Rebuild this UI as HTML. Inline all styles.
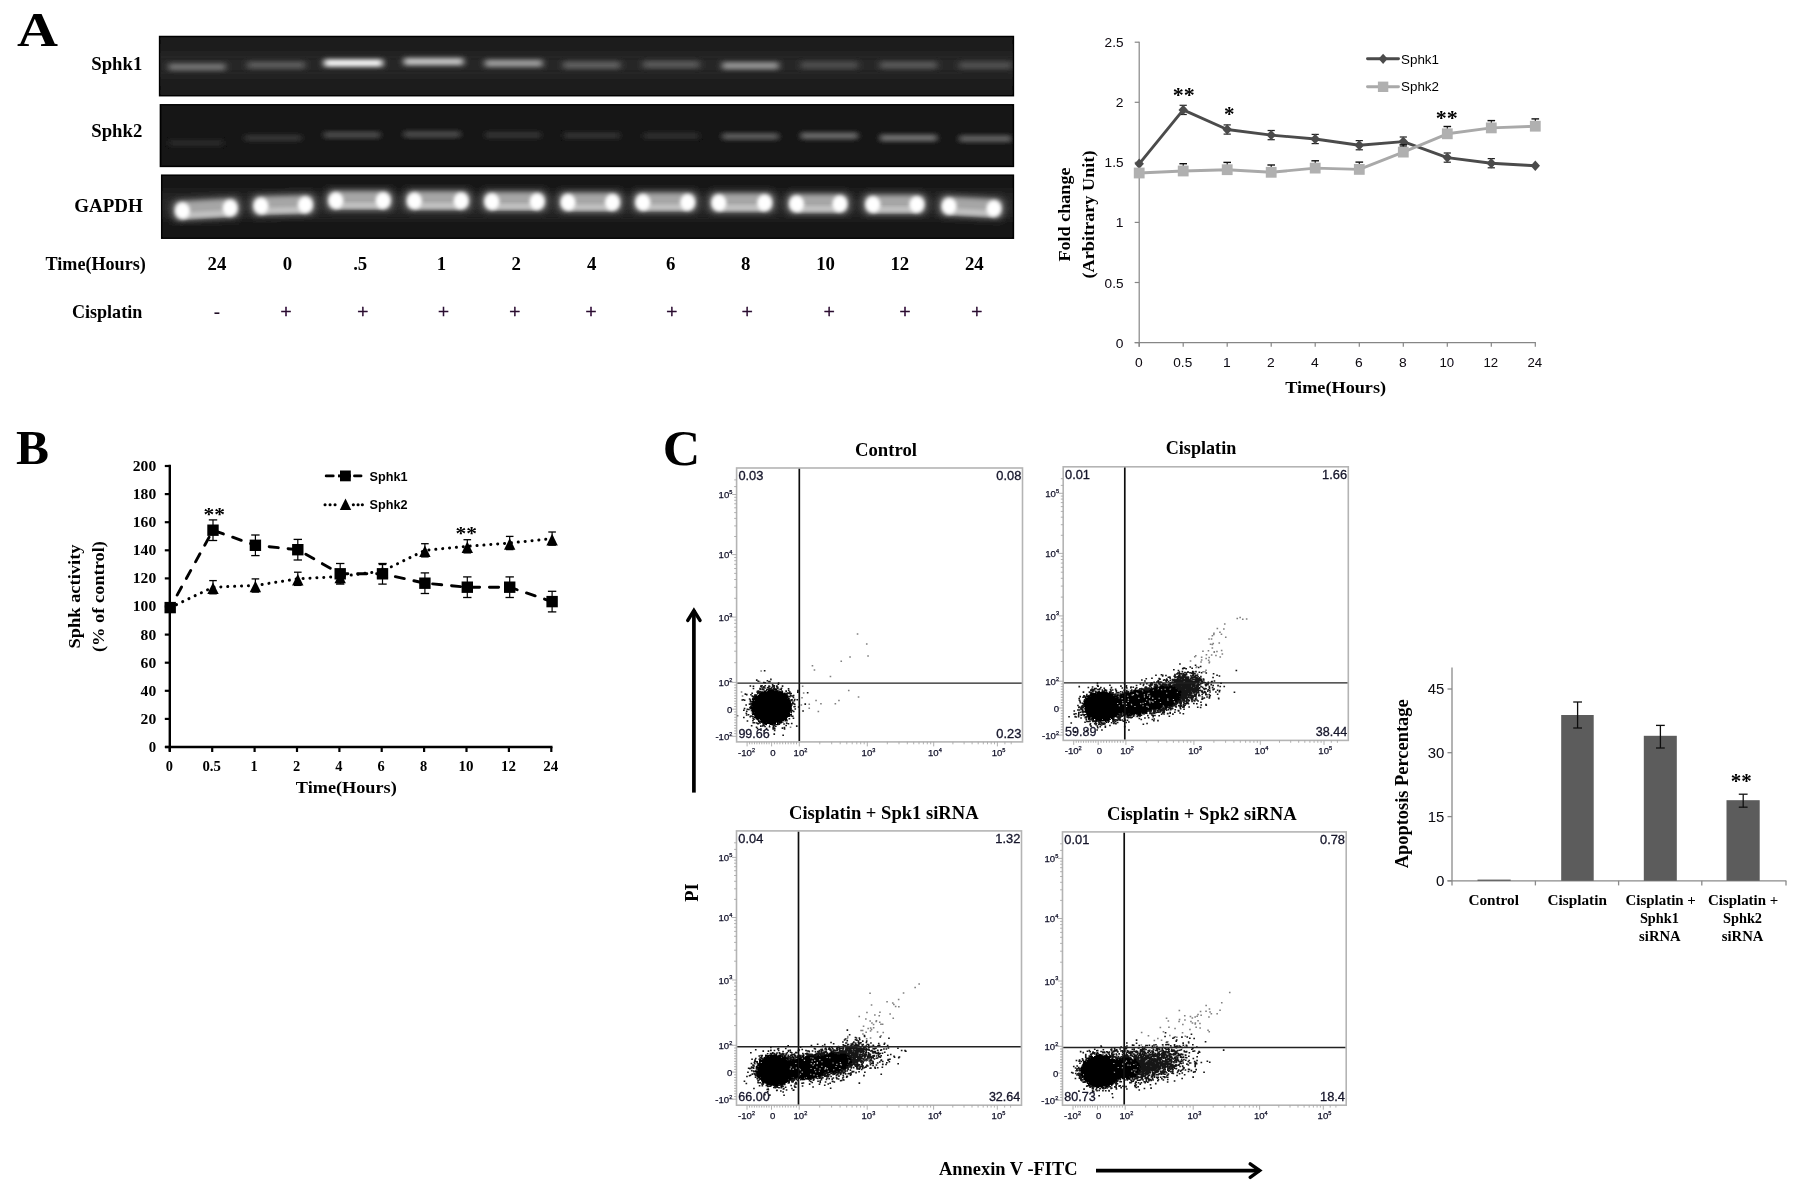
<!DOCTYPE html>
<html><head><meta charset="utf-8"><title>Figure</title>
<style>html,body{margin:0;padding:0;background:#fff}svg{display:block}</style>
</head><body>
<svg width="1800" height="1193" viewBox="0 0 1800 1193">
<defs>
<filter id="b1" x="-20%" y="-150%" width="140%" height="400%"><feGaussianBlur stdDeviation="3 2.1"/></filter>
<filter id="b2" x="-20%" y="-100%" width="140%" height="300%"><feGaussianBlur stdDeviation="1.6 1.3"/></filter>
<filter id="b3" x="-50%" y="-50%" width="200%" height="200%"><feGaussianBlur stdDeviation="2.2"/></filter>
<filter id="b4" x="-10%" y="-200%" width="120%" height="500%"><feGaussianBlur stdDeviation="6"/></filter>
<filter id="b5" x="-50%" y="-50%" width="200%" height="200%"><feGaussianBlur stdDeviation="3.2"/></filter>
<filter id="soft2" x="-10%" y="-10%" width="120%" height="120%"><feGaussianBlur stdDeviation="0.7"/></filter>
<filter id="rag" x="-20%" y="-20%" width="140%" height="140%"><feTurbulence type="fractalNoise" baseFrequency="0.42" numOctaves="2" seed="3" result="n"/><feDisplacementMap in="SourceGraphic" in2="n" scale="6" xChannelSelector="R" yChannelSelector="G"/><feGaussianBlur stdDeviation="0.35"/></filter>
<filter id="soft" filterUnits="userSpaceOnUse" x="0" y="0" width="1800" height="1193"><feGaussianBlur stdDeviation="0.42"/></filter>
<clipPath id="cg1"><rect x="160.3" y="37.2" width="852.4" height="57.8"/></clipPath>
<clipPath id="cg2"><rect x="161.1" y="105.5" width="851.6" height="60.2"/></clipPath>
<clipPath id="cg3"><rect x="162.4" y="175.9" width="850.3" height="61.6"/></clipPath>
</defs>
<g filter="url(#soft)">
<text x="17.0" y="45.6" font-family='"Liberation Serif", serif' font-size="49" font-weight="bold" text-anchor="start" fill="#000" textLength="41.0" lengthAdjust="spacingAndGlyphs">A</text>
<text x="16.0" y="463.6" font-family='"Liberation Serif", serif' font-size="49" font-weight="bold" text-anchor="start" fill="#000" textLength="33.0" lengthAdjust="spacingAndGlyphs">B</text>
<text x="662.8" y="465.0" font-family='"Liberation Serif", serif' font-size="51" font-weight="bold" text-anchor="start" fill="#000" textLength="37.5" lengthAdjust="spacingAndGlyphs">C</text>
<g id="gel">
<rect x="159.6" y="36.5" width="853.8" height="59.2" fill="#1c1c1c" stroke="#000" stroke-width="1.5"/>
<rect x="160.4" y="104.8" width="853.0" height="61.6" fill="#131313" stroke="#000" stroke-width="1.5"/>
<rect x="161.7" y="175.2" width="851.7" height="63.0" fill="#171717" stroke="#000" stroke-width="1.5"/>
<g clip-path="url(#cg1)"><rect x="140" y="52" width="900" height="26" fill="#2a2a2a" filter="url(#b4)" opacity="0.8"/></g>
<g clip-path="url(#cg3)"><rect x="140" y="192" width="900" height="26" fill="#2c2c2c" filter="url(#b4)" opacity="0.9"/></g>
<g clip-path="url(#cg1)">
<rect x="168.5" y="63.1" width="57.0" height="7.6" fill="#707070" filter="url(#b1)"/>
<rect x="247.3" y="61.3" width="57.7" height="7.6" fill="#5a5a5a" filter="url(#b1)"/>
<rect x="324.1" y="59.2" width="58.6" height="7.6" fill="#f4f4f4" filter="url(#b1)"/>
<rect x="403.9" y="57.8" width="59.5" height="7.6" fill="#c0c0c0" filter="url(#b1)"/>
<rect x="484.9" y="59.5" width="57.6" height="7.6" fill="#989898" filter="url(#b1)"/>
<rect x="563.2" y="61.3" width="57.1" height="7.6" fill="#5e5e5e" filter="url(#b1)"/>
<rect x="642.9" y="60.7" width="56.6" height="7.6" fill="#585858" filter="url(#b1)"/>
<rect x="722.1" y="61.9" width="56.6" height="7.6" fill="#909090" filter="url(#b1)"/>
<rect x="800.7" y="61.3" width="57.2" height="7.6" fill="#4e4e4e" filter="url(#b1)"/>
<rect x="879.9" y="61.3" width="57.1" height="7.6" fill="#565656" filter="url(#b1)"/>
<rect x="959.1" y="61.5" width="52.4" height="7.6" fill="#505050" filter="url(#b1)"/>
</g>
<g clip-path="url(#cg2)">
<rect x="168.5" y="139.2" width="55.0" height="7.2" fill="#2c2c2c" filter="url(#b1)"/>
<rect x="244.5" y="134.3" width="57.0" height="7.2" fill="#363636" filter="url(#b1)"/>
<rect x="323.5" y="131.3" width="57.0" height="7.2" fill="#484848" filter="url(#b1)"/>
<rect x="403.5" y="130.7" width="57.0" height="7.2" fill="#4a4a4a" filter="url(#b1)"/>
<rect x="484.5" y="131.4" width="57.0" height="7.2" fill="#303030" filter="url(#b1)"/>
<rect x="563.2" y="131.9" width="57.1" height="7.2" fill="#303030" filter="url(#b1)"/>
<rect x="642.9" y="132.2" width="56.6" height="7.2" fill="#2e2e2e" filter="url(#b1)"/>
<rect x="722.1" y="132.8" width="56.6" height="7.2" fill="#5a5a5a" filter="url(#b1)"/>
<rect x="800.7" y="132.2" width="57.2" height="7.2" fill="#686868" filter="url(#b1)"/>
<rect x="879.9" y="134.3" width="57.1" height="7.2" fill="#6e6e6e" filter="url(#b1)"/>
<rect x="959.1" y="135.1" width="52.4" height="7.2" fill="#5e5e5e" filter="url(#b1)"/>
</g>
<g clip-path="url(#cg3)">
<g transform="rotate(-3.2 206.2 209.0)">
<rect x="171.0" y="198.0" width="70.5" height="22" rx="8" fill="#606060" filter="url(#b5)"/>
<rect x="175.0" y="200.5" width="62.5" height="17" rx="6" fill="#a6a6a6" filter="url(#b3)"/>
<rect x="183.0" y="212.0" width="46.5" height="4.4" fill="#cccccc" filter="url(#b3)"/>
<ellipse cx="182.5" cy="209.3" rx="6.8" ry="7.6" fill="#ffffff" filter="url(#b3)"/>
<ellipse cx="182.5" cy="209.3" rx="5.6" ry="6.6" fill="#ffffff" filter="url(#b3)"/>
<ellipse cx="230.0" cy="209.3" rx="6.8" ry="7.6" fill="#ffffff" filter="url(#b3)"/>
<ellipse cx="230.0" cy="209.3" rx="5.6" ry="6.6" fill="#ffffff" filter="url(#b3)"/>
</g>
<g transform="rotate(-1.5 283.1 205.0)">
<rect x="249.6" y="194.0" width="67.1" height="22" rx="8" fill="#606060" filter="url(#b5)"/>
<rect x="253.6" y="196.5" width="59.1" height="17" rx="6" fill="#a6a6a6" filter="url(#b3)"/>
<rect x="261.6" y="208.0" width="43.1" height="4.4" fill="#cccccc" filter="url(#b3)"/>
<ellipse cx="261.1" cy="205.3" rx="6.8" ry="7.6" fill="#ffffff" filter="url(#b3)"/>
<ellipse cx="261.1" cy="205.3" rx="5.6" ry="6.6" fill="#ffffff" filter="url(#b3)"/>
<ellipse cx="305.2" cy="205.3" rx="6.8" ry="7.6" fill="#ffffff" filter="url(#b3)"/>
<ellipse cx="305.2" cy="205.3" rx="5.6" ry="6.6" fill="#ffffff" filter="url(#b3)"/>
</g>
<g transform="rotate(0 359.5 200.3)">
<rect x="324.5" y="189.3" width="70.0" height="22" rx="8" fill="#606060" filter="url(#b5)"/>
<rect x="328.5" y="191.8" width="62.0" height="17" rx="6" fill="#a6a6a6" filter="url(#b3)"/>
<rect x="336.5" y="203.3" width="46.0" height="4.4" fill="#cccccc" filter="url(#b3)"/>
<ellipse cx="336.0" cy="200.6" rx="6.8" ry="7.6" fill="#ffffff" filter="url(#b3)"/>
<ellipse cx="336.0" cy="200.6" rx="5.6" ry="6.6" fill="#ffffff" filter="url(#b3)"/>
<ellipse cx="383.0" cy="200.6" rx="6.8" ry="7.6" fill="#ffffff" filter="url(#b3)"/>
<ellipse cx="383.0" cy="200.6" rx="5.6" ry="6.6" fill="#ffffff" filter="url(#b3)"/>
</g>
<g transform="rotate(0 437.8 200.6)">
<rect x="403.0" y="189.6" width="69.5" height="22" rx="8" fill="#606060" filter="url(#b5)"/>
<rect x="407.0" y="192.1" width="61.5" height="17" rx="6" fill="#a6a6a6" filter="url(#b3)"/>
<rect x="415.0" y="203.6" width="45.5" height="4.4" fill="#cccccc" filter="url(#b3)"/>
<ellipse cx="414.5" cy="200.9" rx="6.8" ry="7.6" fill="#ffffff" filter="url(#b3)"/>
<ellipse cx="414.5" cy="200.9" rx="5.6" ry="6.6" fill="#ffffff" filter="url(#b3)"/>
<ellipse cx="461.0" cy="200.9" rx="6.8" ry="7.6" fill="#ffffff" filter="url(#b3)"/>
<ellipse cx="461.0" cy="200.9" rx="5.6" ry="6.6" fill="#ffffff" filter="url(#b3)"/>
</g>
<g transform="rotate(0 514.5 201.3)">
<rect x="480.5" y="190.3" width="68.0" height="22" rx="8" fill="#606060" filter="url(#b5)"/>
<rect x="484.5" y="192.8" width="60.0" height="17" rx="6" fill="#a6a6a6" filter="url(#b3)"/>
<rect x="492.5" y="204.3" width="44.0" height="4.4" fill="#cccccc" filter="url(#b3)"/>
<ellipse cx="492.0" cy="201.6" rx="6.8" ry="7.6" fill="#ffffff" filter="url(#b3)"/>
<ellipse cx="492.0" cy="201.6" rx="5.6" ry="6.6" fill="#ffffff" filter="url(#b3)"/>
<ellipse cx="537.0" cy="201.6" rx="6.8" ry="7.6" fill="#ffffff" filter="url(#b3)"/>
<ellipse cx="537.0" cy="201.6" rx="5.6" ry="6.6" fill="#ffffff" filter="url(#b3)"/>
</g>
<g transform="rotate(0 590.2 202.0)">
<rect x="556.7" y="191.0" width="67.1" height="22" rx="8" fill="#606060" filter="url(#b5)"/>
<rect x="560.7" y="193.5" width="59.1" height="17" rx="6" fill="#a6a6a6" filter="url(#b3)"/>
<rect x="568.7" y="205.0" width="43.1" height="4.4" fill="#cccccc" filter="url(#b3)"/>
<ellipse cx="568.2" cy="202.3" rx="6.8" ry="7.6" fill="#ffffff" filter="url(#b3)"/>
<ellipse cx="568.2" cy="202.3" rx="5.6" ry="6.6" fill="#ffffff" filter="url(#b3)"/>
<ellipse cx="612.3" cy="202.3" rx="6.8" ry="7.6" fill="#ffffff" filter="url(#b3)"/>
<ellipse cx="612.3" cy="202.3" rx="5.6" ry="6.6" fill="#ffffff" filter="url(#b3)"/>
</g>
<g transform="rotate(0 665.2 202.0)">
<rect x="631.5" y="191.0" width="67.5" height="22" rx="8" fill="#606060" filter="url(#b5)"/>
<rect x="635.5" y="193.5" width="59.5" height="17" rx="6" fill="#a6a6a6" filter="url(#b3)"/>
<rect x="643.5" y="205.0" width="43.5" height="4.4" fill="#cccccc" filter="url(#b3)"/>
<ellipse cx="643.0" cy="202.3" rx="6.8" ry="7.6" fill="#ffffff" filter="url(#b3)"/>
<ellipse cx="643.0" cy="202.3" rx="5.6" ry="6.6" fill="#ffffff" filter="url(#b3)"/>
<ellipse cx="687.5" cy="202.3" rx="6.8" ry="7.6" fill="#ffffff" filter="url(#b3)"/>
<ellipse cx="687.5" cy="202.3" rx="5.6" ry="6.6" fill="#ffffff" filter="url(#b3)"/>
</g>
<g transform="rotate(0 741.8 202.5)">
<rect x="707.5" y="191.5" width="68.5" height="22" rx="8" fill="#606060" filter="url(#b5)"/>
<rect x="711.5" y="194.0" width="60.5" height="17" rx="6" fill="#a6a6a6" filter="url(#b3)"/>
<rect x="719.5" y="205.5" width="44.5" height="4.4" fill="#cccccc" filter="url(#b3)"/>
<ellipse cx="719.0" cy="202.8" rx="6.8" ry="7.6" fill="#ffffff" filter="url(#b3)"/>
<ellipse cx="719.0" cy="202.8" rx="5.6" ry="6.6" fill="#ffffff" filter="url(#b3)"/>
<ellipse cx="764.5" cy="202.8" rx="6.8" ry="7.6" fill="#ffffff" filter="url(#b3)"/>
<ellipse cx="764.5" cy="202.8" rx="5.6" ry="6.6" fill="#ffffff" filter="url(#b3)"/>
</g>
<g transform="rotate(0 818.2 203.6)">
<rect x="785.2" y="192.6" width="66.0" height="22" rx="8" fill="#606060" filter="url(#b5)"/>
<rect x="789.2" y="195.1" width="58.0" height="17" rx="6" fill="#a6a6a6" filter="url(#b3)"/>
<rect x="797.2" y="206.6" width="42.0" height="4.4" fill="#cccccc" filter="url(#b3)"/>
<ellipse cx="796.7" cy="203.9" rx="6.8" ry="7.6" fill="#ffffff" filter="url(#b3)"/>
<ellipse cx="796.7" cy="203.9" rx="5.6" ry="6.6" fill="#ffffff" filter="url(#b3)"/>
<ellipse cx="839.7" cy="203.9" rx="6.8" ry="7.6" fill="#ffffff" filter="url(#b3)"/>
<ellipse cx="839.7" cy="203.9" rx="5.6" ry="6.6" fill="#ffffff" filter="url(#b3)"/>
</g>
<g transform="rotate(0 894.9 204.2)">
<rect x="861.5" y="193.2" width="66.7" height="22" rx="8" fill="#606060" filter="url(#b5)"/>
<rect x="865.5" y="195.7" width="58.7" height="17" rx="6" fill="#a6a6a6" filter="url(#b3)"/>
<rect x="873.5" y="207.2" width="42.7" height="4.4" fill="#cccccc" filter="url(#b3)"/>
<ellipse cx="873.0" cy="204.5" rx="6.8" ry="7.6" fill="#ffffff" filter="url(#b3)"/>
<ellipse cx="873.0" cy="204.5" rx="5.6" ry="6.6" fill="#ffffff" filter="url(#b3)"/>
<ellipse cx="916.7" cy="204.5" rx="6.8" ry="7.6" fill="#ffffff" filter="url(#b3)"/>
<ellipse cx="916.7" cy="204.5" rx="5.6" ry="6.6" fill="#ffffff" filter="url(#b3)"/>
</g>
<g transform="rotate(3.0 971.5 207.0)">
<rect x="937.7" y="196.0" width="67.6" height="22" rx="8" fill="#606060" filter="url(#b5)"/>
<rect x="941.7" y="198.5" width="59.6" height="17" rx="6" fill="#a6a6a6" filter="url(#b3)"/>
<rect x="949.7" y="210.0" width="43.6" height="4.4" fill="#cccccc" filter="url(#b3)"/>
<ellipse cx="949.2" cy="207.3" rx="6.8" ry="7.6" fill="#ffffff" filter="url(#b3)"/>
<ellipse cx="949.2" cy="207.3" rx="5.6" ry="6.6" fill="#ffffff" filter="url(#b3)"/>
<ellipse cx="993.8" cy="207.3" rx="6.8" ry="7.6" fill="#ffffff" filter="url(#b3)"/>
<ellipse cx="993.8" cy="207.3" rx="5.6" ry="6.6" fill="#ffffff" filter="url(#b3)"/>
</g>
</g>
</g>
<text x="91.3" y="69.6" font-family='"Liberation Serif", serif' font-size="19" font-weight="bold" text-anchor="start" fill="#000" textLength="51.0" lengthAdjust="spacingAndGlyphs">Sphk1</text>
<text x="91.3" y="137.2" font-family='"Liberation Serif", serif' font-size="19" font-weight="bold" text-anchor="start" fill="#000" textLength="51.0" lengthAdjust="spacingAndGlyphs">Sphk2</text>
<text x="74.2" y="212.0" font-family='"Liberation Serif", serif' font-size="19" font-weight="bold" text-anchor="start" fill="#000" textLength="68.6" lengthAdjust="spacingAndGlyphs">GAPDH</text>
<text x="45.5" y="270.2" font-family='"Liberation Serif", serif' font-size="18.6" font-weight="bold" text-anchor="start" fill="#000" textLength="100.3" lengthAdjust="spacingAndGlyphs">Time(Hours)</text>
<text x="71.9" y="318.0" font-family='"Liberation Serif", serif' font-size="18.6" font-weight="bold" text-anchor="start" fill="#000" textLength="70.4" lengthAdjust="spacingAndGlyphs">Cisplatin</text>
<text x="217.0" y="270.2" font-family='"Liberation Serif", serif' font-size="18.8" font-weight="bold" text-anchor="middle" fill="#000">24</text>
<text x="287.4" y="270.2" font-family='"Liberation Serif", serif' font-size="18.8" font-weight="bold" text-anchor="middle" fill="#000">0</text>
<text x="360.2" y="270.2" font-family='"Liberation Serif", serif' font-size="18.8" font-weight="bold" text-anchor="middle" fill="#000">.5</text>
<text x="441.4" y="270.2" font-family='"Liberation Serif", serif' font-size="18.8" font-weight="bold" text-anchor="middle" fill="#000">1</text>
<text x="516.2" y="270.2" font-family='"Liberation Serif", serif' font-size="18.8" font-weight="bold" text-anchor="middle" fill="#000">2</text>
<text x="591.6" y="270.2" font-family='"Liberation Serif", serif' font-size="18.8" font-weight="bold" text-anchor="middle" fill="#000">4</text>
<text x="670.8" y="270.2" font-family='"Liberation Serif", serif' font-size="18.8" font-weight="bold" text-anchor="middle" fill="#000">6</text>
<text x="745.6" y="270.2" font-family='"Liberation Serif", serif' font-size="18.8" font-weight="bold" text-anchor="middle" fill="#000">8</text>
<text x="825.6" y="270.2" font-family='"Liberation Serif", serif' font-size="18.8" font-weight="bold" text-anchor="middle" fill="#000">10</text>
<text x="899.8" y="270.2" font-family='"Liberation Serif", serif' font-size="18.8" font-weight="bold" text-anchor="middle" fill="#000">12</text>
<text x="974.3" y="270.2" font-family='"Liberation Serif", serif' font-size="18.8" font-weight="bold" text-anchor="middle" fill="#000">24</text>
<text x="217.0" y="318.0" font-family='"Liberation Serif", serif' font-size="19" font-weight="bold" text-anchor="middle" fill="#201028">-</text>
<text x="286.0" y="318.2" font-family='"Liberation Serif", serif' font-size="19.5" font-weight="normal" text-anchor="middle" fill="#2a0a30" stroke="#2a0a30" stroke-width="0.55">+</text>
<text x="362.8" y="318.2" font-family='"Liberation Serif", serif' font-size="19.5" font-weight="normal" text-anchor="middle" fill="#2a0a30" stroke="#2a0a30" stroke-width="0.55">+</text>
<text x="443.5" y="318.2" font-family='"Liberation Serif", serif' font-size="19.5" font-weight="normal" text-anchor="middle" fill="#2a0a30" stroke="#2a0a30" stroke-width="0.55">+</text>
<text x="514.7" y="318.2" font-family='"Liberation Serif", serif' font-size="19.5" font-weight="normal" text-anchor="middle" fill="#2a0a30" stroke="#2a0a30" stroke-width="0.55">+</text>
<text x="591.0" y="318.2" font-family='"Liberation Serif", serif' font-size="19.5" font-weight="normal" text-anchor="middle" fill="#2a0a30" stroke="#2a0a30" stroke-width="0.55">+</text>
<text x="671.7" y="318.2" font-family='"Liberation Serif", serif' font-size="19.5" font-weight="normal" text-anchor="middle" fill="#2a0a30" stroke="#2a0a30" stroke-width="0.55">+</text>
<text x="747.3" y="318.2" font-family='"Liberation Serif", serif' font-size="19.5" font-weight="normal" text-anchor="middle" fill="#2a0a30" stroke="#2a0a30" stroke-width="0.55">+</text>
<text x="829.2" y="318.2" font-family='"Liberation Serif", serif' font-size="19.5" font-weight="normal" text-anchor="middle" fill="#2a0a30" stroke="#2a0a30" stroke-width="0.55">+</text>
<text x="905.1" y="318.2" font-family='"Liberation Serif", serif' font-size="19.5" font-weight="normal" text-anchor="middle" fill="#2a0a30" stroke="#2a0a30" stroke-width="0.55">+</text>
<text x="976.7" y="318.2" font-family='"Liberation Serif", serif' font-size="19.5" font-weight="normal" text-anchor="middle" fill="#2a0a30" stroke="#2a0a30" stroke-width="0.55">+</text>
<g id="chartA">
<line x1="1139.2" y1="41.7" x2="1139.2" y2="346.8" stroke="#868686" stroke-width="1.2"/>
<line x1="1134.7" y1="342.6" x2="1535.9" y2="342.6" stroke="#868686" stroke-width="1.2"/>
<line x1="1139.2" y1="342.6" x2="1139.2" y2="346.8" stroke="#868686" stroke-width="1.2"/>
<line x1="1183.2" y1="342.6" x2="1183.2" y2="346.8" stroke="#868686" stroke-width="1.2"/>
<line x1="1227.2" y1="342.6" x2="1227.2" y2="346.8" stroke="#868686" stroke-width="1.2"/>
<line x1="1271.2" y1="342.6" x2="1271.2" y2="346.8" stroke="#868686" stroke-width="1.2"/>
<line x1="1315.2" y1="342.6" x2="1315.2" y2="346.8" stroke="#868686" stroke-width="1.2"/>
<line x1="1359.3" y1="342.6" x2="1359.3" y2="346.8" stroke="#868686" stroke-width="1.2"/>
<line x1="1403.3" y1="342.6" x2="1403.3" y2="346.8" stroke="#868686" stroke-width="1.2"/>
<line x1="1447.3" y1="342.6" x2="1447.3" y2="346.8" stroke="#868686" stroke-width="1.2"/>
<line x1="1491.3" y1="342.6" x2="1491.3" y2="346.8" stroke="#868686" stroke-width="1.2"/>
<line x1="1535.3" y1="342.6" x2="1535.3" y2="346.8" stroke="#868686" stroke-width="1.2"/>
<line x1="1134.7" y1="342.6" x2="1139.2" y2="342.6" stroke="#868686" stroke-width="1.2"/>
<text x="1115.8" y="347.6" font-family='"Liberation Sans", sans-serif' font-size="12.2" font-weight="normal" text-anchor="start" fill="#0a0810" textLength="7.7" lengthAdjust="spacingAndGlyphs">0</text>
<line x1="1134.7" y1="282.5" x2="1139.2" y2="282.5" stroke="#868686" stroke-width="1.2"/>
<text x="1104.6" y="287.5" font-family='"Liberation Sans", sans-serif' font-size="12.2" font-weight="normal" text-anchor="start" fill="#0a0810" textLength="18.9" lengthAdjust="spacingAndGlyphs">0.5</text>
<line x1="1134.7" y1="222.4" x2="1139.2" y2="222.4" stroke="#868686" stroke-width="1.2"/>
<text x="1115.8" y="227.4" font-family='"Liberation Sans", sans-serif' font-size="12.2" font-weight="normal" text-anchor="start" fill="#0a0810" textLength="7.7" lengthAdjust="spacingAndGlyphs">1</text>
<line x1="1134.7" y1="162.4" x2="1139.2" y2="162.4" stroke="#868686" stroke-width="1.2"/>
<text x="1104.6" y="167.4" font-family='"Liberation Sans", sans-serif' font-size="12.2" font-weight="normal" text-anchor="start" fill="#0a0810" textLength="18.9" lengthAdjust="spacingAndGlyphs">1.5</text>
<line x1="1134.7" y1="102.3" x2="1139.2" y2="102.3" stroke="#868686" stroke-width="1.2"/>
<text x="1115.8" y="107.3" font-family='"Liberation Sans", sans-serif' font-size="12.2" font-weight="normal" text-anchor="start" fill="#0a0810" textLength="7.7" lengthAdjust="spacingAndGlyphs">2</text>
<line x1="1134.7" y1="42.2" x2="1139.2" y2="42.2" stroke="#868686" stroke-width="1.2"/>
<text x="1104.6" y="47.2" font-family='"Liberation Sans", sans-serif' font-size="12.2" font-weight="normal" text-anchor="start" fill="#0a0810" textLength="18.9" lengthAdjust="spacingAndGlyphs">2.5</text>
<text x="1134.9" y="367.4" font-family='"Liberation Sans", sans-serif' font-size="12.2" fill="#0a0810" textLength="7.7" lengthAdjust="spacingAndGlyphs">0</text>
<text x="1173.3" y="367.4" font-family='"Liberation Sans", sans-serif' font-size="12.2" fill="#0a0810" textLength="18.9" lengthAdjust="spacingAndGlyphs">0.5</text>
<text x="1222.9" y="367.4" font-family='"Liberation Sans", sans-serif' font-size="12.2" fill="#0a0810" textLength="7.7" lengthAdjust="spacingAndGlyphs">1</text>
<text x="1266.9" y="367.4" font-family='"Liberation Sans", sans-serif' font-size="12.2" fill="#0a0810" textLength="7.7" lengthAdjust="spacingAndGlyphs">2</text>
<text x="1310.9" y="367.4" font-family='"Liberation Sans", sans-serif' font-size="12.2" fill="#0a0810" textLength="7.7" lengthAdjust="spacingAndGlyphs">4</text>
<text x="1354.9" y="367.4" font-family='"Liberation Sans", sans-serif' font-size="12.2" fill="#0a0810" textLength="7.7" lengthAdjust="spacingAndGlyphs">6</text>
<text x="1398.9" y="367.4" font-family='"Liberation Sans", sans-serif' font-size="12.2" fill="#0a0810" textLength="7.7" lengthAdjust="spacingAndGlyphs">8</text>
<text x="1439.4" y="367.4" font-family='"Liberation Sans", sans-serif' font-size="12.2" fill="#0a0810" textLength="14.7" lengthAdjust="spacingAndGlyphs">10</text>
<text x="1483.4" y="367.4" font-family='"Liberation Sans", sans-serif' font-size="12.2" fill="#0a0810" textLength="14.7" lengthAdjust="spacingAndGlyphs">12</text>
<text x="1527.5" y="367.4" font-family='"Liberation Sans", sans-serif' font-size="12.2" fill="#0a0810" textLength="14.7" lengthAdjust="spacingAndGlyphs">24</text>
<line x1="1183.2" y1="105.3" x2="1183.2" y2="114.5" stroke="#222" stroke-width="1"/>
<line x1="1179.6" y1="105.3" x2="1186.8" y2="105.3" stroke="#222" stroke-width="1.2"/>
<line x1="1179.6" y1="114.5" x2="1186.8" y2="114.5" stroke="#222" stroke-width="1.2"/>
<line x1="1227.2" y1="124.9" x2="1227.2" y2="134.1" stroke="#222" stroke-width="1"/>
<line x1="1223.6" y1="124.9" x2="1230.8" y2="124.9" stroke="#222" stroke-width="1.2"/>
<line x1="1223.6" y1="134.1" x2="1230.8" y2="134.1" stroke="#222" stroke-width="1.2"/>
<line x1="1271.2" y1="130.5" x2="1271.2" y2="139.7" stroke="#222" stroke-width="1"/>
<line x1="1267.6" y1="130.5" x2="1274.8" y2="130.5" stroke="#222" stroke-width="1.2"/>
<line x1="1267.6" y1="139.7" x2="1274.8" y2="139.7" stroke="#222" stroke-width="1.2"/>
<line x1="1315.2" y1="134.4" x2="1315.2" y2="143.6" stroke="#222" stroke-width="1"/>
<line x1="1311.6" y1="134.4" x2="1318.8" y2="134.4" stroke="#222" stroke-width="1.2"/>
<line x1="1311.6" y1="143.6" x2="1318.8" y2="143.6" stroke="#222" stroke-width="1.2"/>
<line x1="1359.3" y1="140.6" x2="1359.3" y2="149.8" stroke="#222" stroke-width="1"/>
<line x1="1355.7" y1="140.6" x2="1362.9" y2="140.6" stroke="#222" stroke-width="1.2"/>
<line x1="1355.7" y1="149.8" x2="1362.9" y2="149.8" stroke="#222" stroke-width="1.2"/>
<line x1="1403.3" y1="137.0" x2="1403.3" y2="146.2" stroke="#222" stroke-width="1"/>
<line x1="1399.7" y1="137.0" x2="1406.9" y2="137.0" stroke="#222" stroke-width="1.2"/>
<line x1="1399.7" y1="146.2" x2="1406.9" y2="146.2" stroke="#222" stroke-width="1.2"/>
<line x1="1447.3" y1="153.0" x2="1447.3" y2="162.2" stroke="#222" stroke-width="1"/>
<line x1="1443.7" y1="153.0" x2="1450.9" y2="153.0" stroke="#222" stroke-width="1.2"/>
<line x1="1443.7" y1="162.2" x2="1450.9" y2="162.2" stroke="#222" stroke-width="1.2"/>
<line x1="1491.3" y1="158.6" x2="1491.3" y2="167.8" stroke="#222" stroke-width="1"/>
<line x1="1487.7" y1="158.6" x2="1494.9" y2="158.6" stroke="#222" stroke-width="1.2"/>
<line x1="1487.7" y1="167.8" x2="1494.9" y2="167.8" stroke="#222" stroke-width="1.2"/>
<polyline fill="none" stroke="#4b4b4b" stroke-width="2.9" stroke-linejoin="round" stroke-linecap="round" points="1139.2,163.8 1183.2,109.9 1227.2,129.5 1271.2,135.1 1315.2,139.0 1359.3,145.2 1403.3,141.6 1447.3,157.6 1491.3,163.2 1535.3,165.8"/>
<path d="M1134.5 163.8 L1139.2 158.6 L1143.9 163.8 L1139.2 169.0Z" fill="#4b4b4b"/>
<path d="M1178.5 109.9 L1183.2 104.7 L1187.9 109.9 L1183.2 115.1Z" fill="#4b4b4b"/>
<path d="M1222.5 129.5 L1227.2 124.3 L1231.9 129.5 L1227.2 134.7Z" fill="#4b4b4b"/>
<path d="M1266.5 135.1 L1271.2 129.9 L1275.9 135.1 L1271.2 140.3Z" fill="#4b4b4b"/>
<path d="M1310.5 139.0 L1315.2 133.8 L1319.9 139.0 L1315.2 144.2Z" fill="#4b4b4b"/>
<path d="M1354.6 145.2 L1359.3 140.0 L1364.0 145.2 L1359.3 150.4Z" fill="#4b4b4b"/>
<path d="M1398.6 141.6 L1403.3 136.4 L1408.0 141.6 L1403.3 146.8Z" fill="#4b4b4b"/>
<path d="M1442.6 157.6 L1447.3 152.4 L1452.0 157.6 L1447.3 162.8Z" fill="#4b4b4b"/>
<path d="M1486.6 163.2 L1491.3 158.0 L1496.0 163.2 L1491.3 168.4Z" fill="#4b4b4b"/>
<path d="M1530.6 165.8 L1535.3 160.6 L1540.0 165.8 L1535.3 171.0Z" fill="#4b4b4b"/>
<line x1="1183.2" y1="163.7" x2="1183.2" y2="171.0" stroke="#111" stroke-width="1.1"/>
<line x1="1179.4" y1="163.7" x2="1187.0" y2="163.7" stroke="#111" stroke-width="1.4"/>
<line x1="1227.2" y1="162.4" x2="1227.2" y2="169.7" stroke="#111" stroke-width="1.1"/>
<line x1="1223.4" y1="162.4" x2="1231.0" y2="162.4" stroke="#111" stroke-width="1.4"/>
<line x1="1271.2" y1="165.0" x2="1271.2" y2="172.3" stroke="#111" stroke-width="1.1"/>
<line x1="1267.4" y1="165.0" x2="1275.0" y2="165.0" stroke="#111" stroke-width="1.4"/>
<line x1="1315.2" y1="160.8" x2="1315.2" y2="168.1" stroke="#111" stroke-width="1.1"/>
<line x1="1311.4" y1="160.8" x2="1319.0" y2="160.8" stroke="#111" stroke-width="1.4"/>
<line x1="1359.3" y1="162.1" x2="1359.3" y2="169.4" stroke="#111" stroke-width="1.1"/>
<line x1="1355.5" y1="162.1" x2="1363.1" y2="162.1" stroke="#111" stroke-width="1.4"/>
<line x1="1403.3" y1="144.8" x2="1403.3" y2="152.1" stroke="#111" stroke-width="1.1"/>
<line x1="1399.5" y1="144.8" x2="1407.1" y2="144.8" stroke="#111" stroke-width="1.4"/>
<line x1="1447.3" y1="126.5" x2="1447.3" y2="133.8" stroke="#111" stroke-width="1.1"/>
<line x1="1443.5" y1="126.5" x2="1451.1" y2="126.5" stroke="#111" stroke-width="1.4"/>
<line x1="1491.3" y1="120.6" x2="1491.3" y2="127.9" stroke="#111" stroke-width="1.1"/>
<line x1="1487.5" y1="120.6" x2="1495.1" y2="120.6" stroke="#111" stroke-width="1.4"/>
<line x1="1535.3" y1="118.9" x2="1535.3" y2="126.2" stroke="#111" stroke-width="1.1"/>
<line x1="1531.5" y1="118.9" x2="1539.1" y2="118.9" stroke="#111" stroke-width="1.4"/>
<polyline fill="none" stroke="#a9a9a9" stroke-width="2.9" stroke-linejoin="round" stroke-linecap="round" points="1139.2,173.0 1183.2,171.0 1227.2,169.7 1271.2,172.3 1315.2,168.1 1359.3,169.4 1403.3,152.1 1447.3,133.8 1491.3,127.9 1535.3,126.2"/>
<rect x="1133.8" y="167.6" width="10.8" height="10.8" fill="#b0b0b0"/>
<rect x="1177.8" y="165.6" width="10.8" height="10.8" fill="#b0b0b0"/>
<rect x="1221.8" y="164.3" width="10.8" height="10.8" fill="#b0b0b0"/>
<rect x="1265.8" y="166.9" width="10.8" height="10.8" fill="#b0b0b0"/>
<rect x="1309.8" y="162.7" width="10.8" height="10.8" fill="#b0b0b0"/>
<rect x="1353.9" y="164.0" width="10.8" height="10.8" fill="#b0b0b0"/>
<rect x="1397.9" y="146.7" width="10.8" height="10.8" fill="#b0b0b0"/>
<rect x="1441.9" y="128.4" width="10.8" height="10.8" fill="#b0b0b0"/>
<rect x="1485.9" y="122.5" width="10.8" height="10.8" fill="#b0b0b0"/>
<rect x="1529.9" y="120.8" width="10.8" height="10.8" fill="#b0b0b0"/>
<line x1="1367.5" y1="58.8" x2="1398.5" y2="58.8" stroke="#4b4b4b" stroke-width="2.9" stroke-linecap="round"/>
<path d="M1378.6 58.8 L1383.1 53.7 L1387.6 58.8 L1383.1 63.9Z" fill="#4b4b4b"/>
<line x1="1367.5" y1="86.8" x2="1398.5" y2="86.8" stroke="#a9a9a9" stroke-width="2.9" stroke-linecap="round"/>
<rect x="1377.9" y="81.6" width="10.4" height="10.4" fill="#b0b0b0"/>
<text x="1401.0" y="63.6" font-family='"Liberation Sans", sans-serif' font-size="12.8" font-weight="normal" text-anchor="start" fill="#000" textLength="38.0" lengthAdjust="spacingAndGlyphs">Sphk1</text>
<text x="1401.0" y="91.4" font-family='"Liberation Sans", sans-serif' font-size="12.8" font-weight="normal" text-anchor="start" fill="#000" textLength="38.0" lengthAdjust="spacingAndGlyphs">Sphk2</text>
<text x="1183.8" y="102.0" font-family='"Liberation Serif", serif' font-size="21" font-weight="bold" text-anchor="middle" fill="#000" textLength="22.0" lengthAdjust="spacingAndGlyphs">**</text>
<text x="1229.2" y="121.0" font-family='"Liberation Serif", serif' font-size="21" font-weight="bold" text-anchor="middle" fill="#000">*</text>
<text x="1446.8" y="124.8" font-family='"Liberation Serif", serif' font-size="21" font-weight="bold" text-anchor="middle" fill="#000" textLength="22.0" lengthAdjust="spacingAndGlyphs">**</text>
<text x="1285.3" y="392.7" font-family='"Liberation Serif", serif' font-size="17.5" font-weight="bold" text-anchor="start" fill="#000" textLength="100.8" lengthAdjust="spacingAndGlyphs">Time(Hours)</text>
<text x="1069.5" y="214.5" font-family='"Liberation Serif", serif' font-size="17.5" font-weight="bold" text-anchor="middle" fill="#000" textLength="94.0" lengthAdjust="spacingAndGlyphs" transform="rotate(-90 1069.5 214.5)">Fold change</text>
<text x="1094.0" y="214.5" font-family='"Liberation Serif", serif' font-size="17.5" font-weight="bold" text-anchor="middle" fill="#000" textLength="128.0" lengthAdjust="spacingAndGlyphs" transform="rotate(-90 1094.0 214.5)">(Arbitrary Unit)</text>
</g>
<g id="chartB">
<line x1="169.8" y1="464.8" x2="169.8" y2="751.5" stroke="#000" stroke-width="2.4"/>
<line x1="165.0" y1="747.0" x2="552.5" y2="747.0" stroke="#000" stroke-width="2.4"/>
<line x1="169.8" y1="747.0" x2="169.8" y2="752.0" stroke="#000" stroke-width="2.2"/>
<line x1="212.2" y1="747.0" x2="212.2" y2="752.0" stroke="#000" stroke-width="2.2"/>
<line x1="254.6" y1="747.0" x2="254.6" y2="752.0" stroke="#000" stroke-width="2.2"/>
<line x1="297.0" y1="747.0" x2="297.0" y2="752.0" stroke="#000" stroke-width="2.2"/>
<line x1="339.4" y1="747.0" x2="339.4" y2="752.0" stroke="#000" stroke-width="2.2"/>
<line x1="381.7" y1="747.0" x2="381.7" y2="752.0" stroke="#000" stroke-width="2.2"/>
<line x1="424.1" y1="747.0" x2="424.1" y2="752.0" stroke="#000" stroke-width="2.2"/>
<line x1="466.5" y1="747.0" x2="466.5" y2="752.0" stroke="#000" stroke-width="2.2"/>
<line x1="508.9" y1="747.0" x2="508.9" y2="752.0" stroke="#000" stroke-width="2.2"/>
<line x1="551.3" y1="747.0" x2="551.3" y2="752.0" stroke="#000" stroke-width="2.2"/>
<line x1="164.8" y1="747.0" x2="169.8" y2="747.0" stroke="#000" stroke-width="2.2"/>
<text x="156.2" y="751.9" font-family='"Liberation Serif", serif' font-size="14.3" font-weight="bold" text-anchor="end" fill="#000" textLength="7.4" lengthAdjust="spacingAndGlyphs">0</text>
<line x1="164.8" y1="718.9" x2="169.8" y2="718.9" stroke="#000" stroke-width="2.2"/>
<text x="156.2" y="723.8" font-family='"Liberation Serif", serif' font-size="14.3" font-weight="bold" text-anchor="end" fill="#000" textLength="15.6" lengthAdjust="spacingAndGlyphs">20</text>
<line x1="164.8" y1="690.8" x2="169.8" y2="690.8" stroke="#000" stroke-width="2.2"/>
<text x="156.2" y="695.7" font-family='"Liberation Serif", serif' font-size="14.3" font-weight="bold" text-anchor="end" fill="#000" textLength="15.6" lengthAdjust="spacingAndGlyphs">40</text>
<line x1="164.8" y1="662.7" x2="169.8" y2="662.7" stroke="#000" stroke-width="2.2"/>
<text x="156.2" y="667.6" font-family='"Liberation Serif", serif' font-size="14.3" font-weight="bold" text-anchor="end" fill="#000" textLength="15.6" lengthAdjust="spacingAndGlyphs">60</text>
<line x1="164.8" y1="634.6" x2="169.8" y2="634.6" stroke="#000" stroke-width="2.2"/>
<text x="156.2" y="639.5" font-family='"Liberation Serif", serif' font-size="14.3" font-weight="bold" text-anchor="end" fill="#000" textLength="15.6" lengthAdjust="spacingAndGlyphs">80</text>
<line x1="164.8" y1="606.5" x2="169.8" y2="606.5" stroke="#000" stroke-width="2.2"/>
<text x="156.2" y="611.4" font-family='"Liberation Serif", serif' font-size="14.3" font-weight="bold" text-anchor="end" fill="#000" textLength="23.4" lengthAdjust="spacingAndGlyphs">100</text>
<line x1="164.8" y1="578.4" x2="169.8" y2="578.4" stroke="#000" stroke-width="2.2"/>
<text x="156.2" y="583.3" font-family='"Liberation Serif", serif' font-size="14.3" font-weight="bold" text-anchor="end" fill="#000" textLength="23.4" lengthAdjust="spacingAndGlyphs">120</text>
<line x1="164.8" y1="550.3" x2="169.8" y2="550.3" stroke="#000" stroke-width="2.2"/>
<text x="156.2" y="555.2" font-family='"Liberation Serif", serif' font-size="14.3" font-weight="bold" text-anchor="end" fill="#000" textLength="23.4" lengthAdjust="spacingAndGlyphs">140</text>
<line x1="164.8" y1="522.2" x2="169.8" y2="522.2" stroke="#000" stroke-width="2.2"/>
<text x="156.2" y="527.1" font-family='"Liberation Serif", serif' font-size="14.3" font-weight="bold" text-anchor="end" fill="#000" textLength="23.4" lengthAdjust="spacingAndGlyphs">160</text>
<line x1="164.8" y1="494.1" x2="169.8" y2="494.1" stroke="#000" stroke-width="2.2"/>
<text x="156.2" y="499.0" font-family='"Liberation Serif", serif' font-size="14.3" font-weight="bold" text-anchor="end" fill="#000" textLength="23.4" lengthAdjust="spacingAndGlyphs">180</text>
<line x1="164.8" y1="466.0" x2="169.8" y2="466.0" stroke="#000" stroke-width="2.2"/>
<text x="156.2" y="470.9" font-family='"Liberation Serif", serif' font-size="14.3" font-weight="bold" text-anchor="end" fill="#000" textLength="23.4" lengthAdjust="spacingAndGlyphs">200</text>
<text x="165.7" y="771.3" font-family='"Liberation Serif", serif' font-size="14.3" font-weight="bold" text-anchor="start" fill="#000" textLength="7.2" lengthAdjust="spacingAndGlyphs">0</text>
<text x="202.4" y="771.3" font-family='"Liberation Serif", serif' font-size="14.3" font-weight="bold" text-anchor="start" fill="#000" textLength="18.5" lengthAdjust="spacingAndGlyphs">0.5</text>
<text x="250.5" y="771.3" font-family='"Liberation Serif", serif' font-size="14.3" font-weight="bold" text-anchor="start" fill="#000" textLength="7.2" lengthAdjust="spacingAndGlyphs">1</text>
<text x="292.9" y="771.3" font-family='"Liberation Serif", serif' font-size="14.3" font-weight="bold" text-anchor="start" fill="#000" textLength="7.2" lengthAdjust="spacingAndGlyphs">2</text>
<text x="335.3" y="771.3" font-family='"Liberation Serif", serif' font-size="14.3" font-weight="bold" text-anchor="start" fill="#000" textLength="7.2" lengthAdjust="spacingAndGlyphs">4</text>
<text x="377.6" y="771.3" font-family='"Liberation Serif", serif' font-size="14.3" font-weight="bold" text-anchor="start" fill="#000" textLength="7.2" lengthAdjust="spacingAndGlyphs">6</text>
<text x="420.0" y="771.3" font-family='"Liberation Serif", serif' font-size="14.3" font-weight="bold" text-anchor="start" fill="#000" textLength="7.2" lengthAdjust="spacingAndGlyphs">8</text>
<text x="458.5" y="771.3" font-family='"Liberation Serif", serif' font-size="14.3" font-weight="bold" text-anchor="start" fill="#000" textLength="15.0" lengthAdjust="spacingAndGlyphs">10</text>
<text x="500.9" y="771.3" font-family='"Liberation Serif", serif' font-size="14.3" font-weight="bold" text-anchor="start" fill="#000" textLength="15.0" lengthAdjust="spacingAndGlyphs">12</text>
<text x="543.3" y="771.3" font-family='"Liberation Serif", serif' font-size="14.3" font-weight="bold" text-anchor="start" fill="#000" textLength="15.0" lengthAdjust="spacingAndGlyphs">24</text>
<line x1="213.0" y1="519.9" x2="213.0" y2="540.5" stroke="#000" stroke-width="1.2"/>
<line x1="208.8" y1="519.9" x2="217.2" y2="519.9" stroke="#000" stroke-width="1.3"/>
<line x1="208.8" y1="540.5" x2="217.2" y2="540.5" stroke="#000" stroke-width="1.3"/>
<line x1="255.4" y1="535.0" x2="255.4" y2="555.6" stroke="#000" stroke-width="1.2"/>
<line x1="251.2" y1="535.0" x2="259.6" y2="535.0" stroke="#000" stroke-width="1.3"/>
<line x1="251.2" y1="555.6" x2="259.6" y2="555.6" stroke="#000" stroke-width="1.3"/>
<line x1="297.8" y1="539.4" x2="297.8" y2="560.0" stroke="#000" stroke-width="1.2"/>
<line x1="293.6" y1="539.4" x2="302.0" y2="539.4" stroke="#000" stroke-width="1.3"/>
<line x1="293.6" y1="560.0" x2="302.0" y2="560.0" stroke="#000" stroke-width="1.3"/>
<line x1="340.2" y1="563.5" x2="340.2" y2="584.1" stroke="#000" stroke-width="1.2"/>
<line x1="336.0" y1="563.5" x2="344.4" y2="563.5" stroke="#000" stroke-width="1.3"/>
<line x1="336.0" y1="584.1" x2="344.4" y2="584.1" stroke="#000" stroke-width="1.3"/>
<line x1="382.5" y1="563.5" x2="382.5" y2="584.1" stroke="#000" stroke-width="1.2"/>
<line x1="378.3" y1="563.5" x2="386.7" y2="563.5" stroke="#000" stroke-width="1.3"/>
<line x1="378.3" y1="584.1" x2="386.7" y2="584.1" stroke="#000" stroke-width="1.3"/>
<line x1="424.9" y1="572.9" x2="424.9" y2="593.5" stroke="#000" stroke-width="1.2"/>
<line x1="420.7" y1="572.9" x2="429.1" y2="572.9" stroke="#000" stroke-width="1.3"/>
<line x1="420.7" y1="593.5" x2="429.1" y2="593.5" stroke="#000" stroke-width="1.3"/>
<line x1="467.3" y1="576.9" x2="467.3" y2="597.5" stroke="#000" stroke-width="1.2"/>
<line x1="463.1" y1="576.9" x2="471.5" y2="576.9" stroke="#000" stroke-width="1.3"/>
<line x1="463.1" y1="597.5" x2="471.5" y2="597.5" stroke="#000" stroke-width="1.3"/>
<line x1="509.7" y1="576.9" x2="509.7" y2="597.5" stroke="#000" stroke-width="1.2"/>
<line x1="505.5" y1="576.9" x2="513.9" y2="576.9" stroke="#000" stroke-width="1.3"/>
<line x1="505.5" y1="597.5" x2="513.9" y2="597.5" stroke="#000" stroke-width="1.3"/>
<line x1="552.1" y1="591.3" x2="552.1" y2="611.9" stroke="#000" stroke-width="1.2"/>
<line x1="547.9" y1="591.3" x2="556.3" y2="591.3" stroke="#000" stroke-width="1.3"/>
<line x1="547.9" y1="611.9" x2="556.3" y2="611.9" stroke="#000" stroke-width="1.3"/>
<line x1="213.0" y1="580.6" x2="213.0" y2="593.8" stroke="#000" stroke-width="1.2"/>
<line x1="209.2" y1="580.6" x2="216.8" y2="580.6" stroke="#000" stroke-width="1.3"/>
<line x1="209.2" y1="593.8" x2="216.8" y2="593.8" stroke="#000" stroke-width="1.3"/>
<line x1="255.4" y1="578.9" x2="255.4" y2="592.1" stroke="#000" stroke-width="1.2"/>
<line x1="251.6" y1="578.9" x2="259.2" y2="578.9" stroke="#000" stroke-width="1.3"/>
<line x1="251.6" y1="592.1" x2="259.2" y2="592.1" stroke="#000" stroke-width="1.3"/>
<line x1="297.8" y1="572.2" x2="297.8" y2="585.4" stroke="#000" stroke-width="1.2"/>
<line x1="294.0" y1="572.2" x2="301.6" y2="572.2" stroke="#000" stroke-width="1.3"/>
<line x1="294.0" y1="585.4" x2="301.6" y2="585.4" stroke="#000" stroke-width="1.3"/>
<line x1="340.2" y1="569.9" x2="340.2" y2="583.1" stroke="#000" stroke-width="1.2"/>
<line x1="336.4" y1="569.9" x2="344.0" y2="569.9" stroke="#000" stroke-width="1.3"/>
<line x1="336.4" y1="583.1" x2="344.0" y2="583.1" stroke="#000" stroke-width="1.3"/>
<line x1="382.5" y1="564.5" x2="382.5" y2="577.7" stroke="#000" stroke-width="1.2"/>
<line x1="378.7" y1="564.5" x2="386.3" y2="564.5" stroke="#000" stroke-width="1.3"/>
<line x1="378.7" y1="577.7" x2="386.3" y2="577.7" stroke="#000" stroke-width="1.3"/>
<line x1="424.9" y1="543.7" x2="424.9" y2="556.9" stroke="#000" stroke-width="1.2"/>
<line x1="421.1" y1="543.7" x2="428.7" y2="543.7" stroke="#000" stroke-width="1.3"/>
<line x1="421.1" y1="556.9" x2="428.7" y2="556.9" stroke="#000" stroke-width="1.3"/>
<line x1="467.3" y1="539.7" x2="467.3" y2="552.9" stroke="#000" stroke-width="1.2"/>
<line x1="463.5" y1="539.7" x2="471.1" y2="539.7" stroke="#000" stroke-width="1.3"/>
<line x1="463.5" y1="552.9" x2="471.1" y2="552.9" stroke="#000" stroke-width="1.3"/>
<line x1="509.7" y1="536.4" x2="509.7" y2="549.6" stroke="#000" stroke-width="1.2"/>
<line x1="505.9" y1="536.4" x2="513.5" y2="536.4" stroke="#000" stroke-width="1.3"/>
<line x1="505.9" y1="549.6" x2="513.5" y2="549.6" stroke="#000" stroke-width="1.3"/>
<line x1="552.1" y1="532.0" x2="552.1" y2="545.2" stroke="#000" stroke-width="1.2"/>
<line x1="548.3" y1="532.0" x2="555.9" y2="532.0" stroke="#000" stroke-width="1.3"/>
<line x1="548.3" y1="545.2" x2="555.9" y2="545.2" stroke="#000" stroke-width="1.3"/>
<polyline fill="none" stroke="#000" stroke-width="2.9" stroke-dasharray="9.2 9.8" stroke-dashoffset="4.7" stroke-linecap="round" points="170.2,607.6 213.0,530.2 255.4,545.3 297.8,549.7 340.2,573.8 382.5,573.8 424.9,583.2 467.3,587.2 509.7,587.2 552.1,601.6"/>
<polyline fill="none" stroke="#000" stroke-width="3" stroke-dasharray="0.1 6.8" stroke-linecap="round" points="170.2,607.6 213.0,587.2 255.4,585.5 297.8,578.8 340.2,576.5 382.5,571.1 424.9,550.3 467.3,546.3 509.7,543.0 552.1,538.6"/>
<path d="M207.3 594.0 L213.0 582.4 L218.7 594.0Z" fill="#000"/>
<path d="M249.7 592.3 L255.4 580.7 L261.1 592.3Z" fill="#000"/>
<path d="M292.1 585.6 L297.8 574.0 L303.5 585.6Z" fill="#000"/>
<path d="M334.5 583.3 L340.2 571.7 L345.9 583.3Z" fill="#000"/>
<path d="M376.8 577.9 L382.5 566.3 L388.2 577.9Z" fill="#000"/>
<path d="M419.2 557.1 L424.9 545.5 L430.6 557.1Z" fill="#000"/>
<path d="M461.6 553.1 L467.3 541.5 L473.0 553.1Z" fill="#000"/>
<path d="M504.0 549.8 L509.7 538.2 L515.4 549.8Z" fill="#000"/>
<path d="M546.4 545.4 L552.1 533.8 L557.8 545.4Z" fill="#000"/>
<rect x="164.5" y="601.9" width="11.4" height="11.4" fill="#000"/>
<rect x="207.3" y="524.5" width="11.4" height="11.4" fill="#000"/>
<rect x="249.7" y="539.6" width="11.4" height="11.4" fill="#000"/>
<rect x="292.1" y="544.0" width="11.4" height="11.4" fill="#000"/>
<rect x="334.5" y="568.1" width="11.4" height="11.4" fill="#000"/>
<rect x="376.8" y="568.1" width="11.4" height="11.4" fill="#000"/>
<rect x="419.2" y="577.5" width="11.4" height="11.4" fill="#000"/>
<rect x="461.6" y="581.5" width="11.4" height="11.4" fill="#000"/>
<rect x="504.0" y="581.5" width="11.4" height="11.4" fill="#000"/>
<rect x="546.4" y="595.9" width="11.4" height="11.4" fill="#000"/>
<line x1="326.2" y1="475.9" x2="333.2" y2="475.9" stroke="#000" stroke-width="2.9" stroke-linecap="round"/>
<line x1="354.5" y1="475.9" x2="361.0" y2="475.9" stroke="#000" stroke-width="2.9" stroke-linecap="round"/>
<line x1="338.0" y1="475.9" x2="351.0" y2="475.9" stroke="#000" stroke-width="2.9"/>
<rect x="340.0" y="470.5" width="10.8" height="10.8" fill="#000"/>
<line x1="325.0" y1="504.7" x2="325.1" y2="504.7" stroke="#000" stroke-width="3" stroke-linecap="round"/>
<line x1="330.0" y1="504.7" x2="330.1" y2="504.7" stroke="#000" stroke-width="3" stroke-linecap="round"/>
<line x1="335.0" y1="504.7" x2="335.1" y2="504.7" stroke="#000" stroke-width="3" stroke-linecap="round"/>
<line x1="353.3" y1="504.7" x2="353.4" y2="504.7" stroke="#000" stroke-width="3" stroke-linecap="round"/>
<line x1="358.0" y1="504.7" x2="358.1" y2="504.7" stroke="#000" stroke-width="3" stroke-linecap="round"/>
<line x1="362.3" y1="504.7" x2="362.4" y2="504.7" stroke="#000" stroke-width="3" stroke-linecap="round"/>
<path d="M339.8 510 L345.5 498.6 L351.2 510Z" fill="#000"/>
<text x="369.5" y="481.2" font-family='"Liberation Sans", sans-serif' font-size="12.6" font-weight="bold" text-anchor="start" fill="#000" textLength="38.0" lengthAdjust="spacingAndGlyphs">Sphk1</text>
<text x="369.5" y="509.2" font-family='"Liberation Sans", sans-serif' font-size="12.6" font-weight="bold" text-anchor="start" fill="#000" textLength="38.0" lengthAdjust="spacingAndGlyphs">Sphk2</text>
<text x="214.3" y="521.3" font-family='"Liberation Serif", serif' font-size="19" font-weight="bold" text-anchor="middle" fill="#000" textLength="21.5" lengthAdjust="spacingAndGlyphs">**</text>
<text x="466.3" y="540.2" font-family='"Liberation Serif", serif' font-size="19" font-weight="bold" text-anchor="middle" fill="#000" textLength="21.5" lengthAdjust="spacingAndGlyphs">**</text>
<text x="295.8" y="793.0" font-family='"Liberation Serif", serif' font-size="17.5" font-weight="bold" text-anchor="start" fill="#000" textLength="101.0" lengthAdjust="spacingAndGlyphs">Time(Hours)</text>
<text x="79.8" y="596.5" font-family='"Liberation Serif", serif' font-size="17.5" font-weight="bold" text-anchor="middle" fill="#000" textLength="104.0" lengthAdjust="spacingAndGlyphs" transform="rotate(-90 79.8 596.5)">Sphk activity</text>
<text x="103.5" y="596.5" font-family='"Liberation Serif", serif' font-size="17.5" font-weight="bold" text-anchor="middle" fill="#000" textLength="111.0" lengthAdjust="spacingAndGlyphs" transform="rotate(-90 103.5 596.5)">(% of control)</text>
</g>
<g>
<rect x="736.6" y="468.0" width="285.9" height="273.9" fill="#fff" stroke="#b4b4b4" stroke-width="1.6"/>
<path d="M747.1 741.9v4.5M771.6 741.9v4.5M799.3 741.9v4.5M867.3 741.9v4.5M933.7 741.9v4.5M997.4 741.9v4.5M736.6 494.5h-4.5M736.6 554.6h-4.5M736.6 617.1h-4.5M736.6 682.4h-4.5M736.6 709.2h-4.5M736.6 736.3h-4.5M819.8 741.9v2.4M831.7 741.9v2.4M840.2 741.9v2.4M846.8 741.9v2.4M852.2 741.9v2.4M856.8 741.9v2.4M860.7 741.9v2.4M864.2 741.9v2.4M887.3 741.9v2.4M899.0 741.9v2.4M907.3 741.9v2.4M913.7 741.9v2.4M919.0 741.9v2.4M923.4 741.9v2.4M927.3 741.9v2.4M930.7 741.9v2.4M952.9 741.9v2.4M964.1 741.9v2.4M972.1 741.9v2.4M978.2 741.9v2.4M983.3 741.9v2.4M987.5 741.9v2.4M991.2 741.9v2.4M994.5 741.9v2.4M1004.9 741.9v2.4M1011.2 741.9v2.4M774.4 741.9v2.4M777.1 741.9v2.4M779.9 741.9v2.4M782.7 741.9v2.4M785.5 741.9v2.4M788.2 741.9v2.4M791.0 741.9v2.4M793.8 741.9v2.4M796.5 741.9v2.4M769.1 741.9v2.4M766.7 741.9v2.4M764.2 741.9v2.4M761.8 741.9v2.4M759.4 741.9v2.4M756.9 741.9v2.4M754.5 741.9v2.4M752.0 741.9v2.4M749.6 741.9v2.4M736.6 662.7h-2.4M736.6 651.2h-2.4M736.6 643.1h-2.4M736.6 636.8h-2.4M736.6 631.6h-2.4M736.6 627.2h-2.4M736.6 623.4h-2.4M736.6 620.1h-2.4M736.6 598.3h-2.4M736.6 587.3h-2.4M736.6 579.5h-2.4M736.6 573.4h-2.4M736.6 568.5h-2.4M736.6 564.3h-2.4M736.6 560.7h-2.4M736.6 557.5h-2.4M736.6 536.5h-2.4M736.6 525.9h-2.4M736.6 518.4h-2.4M736.6 512.6h-2.4M736.6 507.8h-2.4M736.6 503.8h-2.4M736.6 500.3h-2.4M736.6 497.3h-2.4M736.6 486.6h-2.4M736.6 479.9h-2.4M736.6 706.5h-2.4M736.6 703.8h-2.4M736.6 701.2h-2.4M736.6 698.5h-2.4M736.6 695.8h-2.4M736.6 693.1h-2.4M736.6 690.4h-2.4M736.6 687.8h-2.4M736.6 685.1h-2.4M736.6 711.9h-2.4M736.6 714.6h-2.4M736.6 717.3h-2.4M736.6 720.0h-2.4M736.6 722.8h-2.4M736.6 725.5h-2.4M736.6 728.2h-2.4M736.6 730.9h-2.4M736.6 733.6h-2.4" stroke="#a8a8a8" stroke-width="0.9" fill="none"/>
<text x="746.6" y="755.7" font-family='"Liberation Sans", sans-serif' font-size="9.6" stroke="#101028" stroke-width="0.25" text-anchor="middle" fill="#101028">-10<tspan dy="-4.2" font-size="5.6">2</tspan></text>
<text x="772.8" y="755.7" font-family='"Liberation Sans", sans-serif' font-size="9.6" font-weight="normal" text-anchor="middle" fill="#101028" stroke="#101028" stroke-width="0.25">0</text>
<text x="800.5" y="755.7" font-family='"Liberation Sans", sans-serif' font-size="9.6" stroke="#101028" stroke-width="0.25" text-anchor="middle" fill="#101028">10<tspan dy="-4.2" font-size="5.6">2</tspan></text>
<text x="868.5" y="755.7" font-family='"Liberation Sans", sans-serif' font-size="9.6" stroke="#101028" stroke-width="0.25" text-anchor="middle" fill="#101028">10<tspan dy="-4.2" font-size="5.6">3</tspan></text>
<text x="934.9" y="755.7" font-family='"Liberation Sans", sans-serif' font-size="9.6" stroke="#101028" stroke-width="0.25" text-anchor="middle" fill="#101028">10<tspan dy="-4.2" font-size="5.6">4</tspan></text>
<text x="998.6" y="755.7" font-family='"Liberation Sans", sans-serif' font-size="9.6" stroke="#101028" stroke-width="0.25" text-anchor="middle" fill="#101028">10<tspan dy="-4.2" font-size="5.6">5</tspan></text>
<text x="732.4" y="498.1" font-family='"Liberation Sans", sans-serif' font-size="9.6" stroke="#101028" stroke-width="0.25" text-anchor="end" fill="#101028">10<tspan dy="-4.2" font-size="5.6">5</tspan></text>
<text x="732.4" y="558.2" font-family='"Liberation Sans", sans-serif' font-size="9.6" stroke="#101028" stroke-width="0.25" text-anchor="end" fill="#101028">10<tspan dy="-4.2" font-size="5.6">4</tspan></text>
<text x="732.4" y="620.7" font-family='"Liberation Sans", sans-serif' font-size="9.6" stroke="#101028" stroke-width="0.25" text-anchor="end" fill="#101028">10<tspan dy="-4.2" font-size="5.6">3</tspan></text>
<text x="732.4" y="686.0" font-family='"Liberation Sans", sans-serif' font-size="9.6" stroke="#101028" stroke-width="0.25" text-anchor="end" fill="#101028">10<tspan dy="-4.2" font-size="5.6">2</tspan></text>
<text x="732.4" y="712.8" font-family='"Liberation Sans", sans-serif' font-size="9.6" font-weight="normal" text-anchor="end" fill="#101028" stroke="#101028" stroke-width="0.25">0</text>
<text x="732.4" y="739.9" font-family='"Liberation Sans", sans-serif' font-size="9.6" stroke="#101028" stroke-width="0.25" text-anchor="end" fill="#101028">-10<tspan dy="-4.2" font-size="5.6">2</tspan></text>
<ellipse cx="771.5" cy="707.1" rx="20.2" ry="17.6" transform="rotate(0 771.5 707.1)" fill="#050505" filter="url(#rag)"/>
<path d="M789.8 696.7h.1M750.9 694.7h.1M752.9 720.7h.1M791.7 700.1h.1M788.7 690.5h.1M770.3 723.2h.1M769.0 681.8h.1M784.4 727.4h.1M785.3 696.1h.1M791.8 700.4h.1M779.3 722.0h.1M768.4 690.4h.1M774.2 734.1h.1M766.8 689.5h.1M761.8 722.2h.1M753.9 713.7h.1M771.6 689.4h.1M782.5 686.1h.1M753.0 710.4h.1M790.1 710.6h.1M754.3 697.1h.1M773.1 727.6h.1M787.2 692.9h.1M784.6 695.6h.1M784.0 724.0h.1M776.9 686.9h.1M750.8 708.5h.1M766.2 723.9h.1M752.4 713.0h.1M778.3 684.1h.1M788.0 693.1h.1M774.3 727.9h.1M763.7 689.8h.1M797.2 699.7h.1M756.7 723.0h.1M758.5 690.9h.1M764.9 688.0h.1M795.2 708.9h.1M789.3 718.7h.1M750.9 715.9h.1M750.8 707.3h.1M751.6 725.7h.1M743.8 717.4h.1M746.6 714.9h.1M758.3 720.1h.1M791.1 693.4h.1M778.6 683.0h.1M746.3 713.2h.1M746.1 705.0h.1M785.2 720.8h.1M754.6 699.5h.1M774.2 685.8h.1M755.5 698.6h.1M760.0 688.5h.1M786.6 693.8h.1M771.9 687.6h.1M763.5 721.8h.1M794.1 706.7h.1M788.6 715.7h.1M769.5 726.7h.1M759.0 721.5h.1M769.6 686.5h.1M773.1 690.1h.1M789.1 716.3h.1M751.3 705.2h.1M762.0 693.2h.1M744.5 708.5h.1M763.2 723.1h.1M767.0 723.2h.1M781.8 690.9h.1M791.0 708.7h.1M785.0 695.0h.1M779.4 723.6h.1M753.4 718.9h.1M756.7 680.1h.1M751.1 703.6h.1M790.4 710.6h.1M790.6 695.6h.1M771.6 724.1h.1M758.2 681.3h.1M757.4 728.4h.1M752.3 701.8h.1M779.2 691.3h.1M786.1 691.1h.1M756.1 718.4h.1M789.0 698.8h.1M790.3 701.1h.1M753.1 696.5h.1M778.0 722.8h.1M760.1 691.6h.1M794.9 706.5h.1M765.0 726.5h.1M781.1 689.2h.1M788.5 715.0h.1M762.7 689.3h.1M772.9 723.5h.1M774.6 725.3h.1M763.0 722.9h.1M768.5 689.7h.1M792.7 716.2h.1M782.7 721.9h.1M776.7 688.9h.1M792.8 703.8h.1M770.8 679.2h.1M749.6 699.0h.1M764.0 725.5h.1M750.3 685.9h.1M762.7 726.0h.1M758.2 719.3h.1M750.4 701.6h.1M742.2 699.9h.1M774.7 728.6h.1M791.6 705.2h.1M773.8 686.7h.1M760.6 692.8h.1M753.4 698.1h.1M755.8 696.0h.1M758.3 723.7h.1M743.8 710.2h.1M789.8 696.4h.1M791.2 699.7h.1M751.4 704.8h.1M788.8 699.0h.1M777.2 691.4h.1M775.1 690.9h.1M788.2 696.9h.1M765.2 685.8h.1M785.3 720.5h.1M787.3 697.2h.1M759.6 693.0h.1M790.1 693.8h.1M756.7 695.8h.1M755.7 716.5h.1M784.9 693.2h.1M782.4 728.1h.1M764.9 691.3h.1M783.1 735.2h.1M755.1 696.1h.1M763.2 724.4h.1M791.2 716.0h.1M754.8 695.1h.1M760.1 720.9h.1M794.7 704.3h.1M773.5 726.2h.1M760.8 726.1h.1M773.8 689.3h.1M798.6 706.9h.1M794.7 699.5h.1M757.8 693.8h.1M747.3 709.3h.1M775.4 689.3h.1M789.8 691.9h.1M792.3 703.4h.1M777.7 687.3h.1M790.2 706.4h.1M779.2 724.1h.1M750.4 699.9h.1M752.7 698.7h.1M754.0 719.2h.1M770.9 690.1h.1M772.6 684.7h.1M763.3 687.7h.1M745.3 694.1h.1M750.5 708.2h.1M790.7 706.0h.1M752.9 709.3h.1M786.5 719.8h.1M805.2 704.1h.1M780.3 691.6h.1M780.7 722.9h.1M757.5 691.2h.1M797.9 690.4h.1M775.0 690.3h.1M750.2 716.7h.1M793.6 695.4h.1M769.5 689.1h.1M786.6 723.1h.1M753.2 701.6h.1M751.9 705.3h.1M751.9 701.7h.1M755.5 716.9h.1M784.5 694.7h.1M775.0 723.5h.1M789.5 693.2h.1M785.0 718.3h.1M766.5 728.5h.1M746.7 694.6h.1M751.5 710.6h.1M790.8 704.1h.1M767.6 687.7h.1M773.1 728.9h.1M753.2 722.8h.1M746.7 711.3h.1M770.4 690.8h.1M774.2 725.5h.1M777.6 690.8h.1M787.2 695.1h.1M761.5 687.0h.1M780.2 689.2h.1M752.3 710.1h.1M760.1 689.1h.1M756.5 717.6h.1M764.1 730.7h.1M803.0 710.9h.1M762.0 685.8h.1M763.9 686.7h.1M783.5 719.5h.1M792.8 702.3h.1M792.0 699.8h.1M753.2 713.7h.1M775.5 689.0h.1M755.8 697.4h.1M794.3 700.7h.1M774.2 687.4h.1M744.6 700.2h.1M760.1 693.8h.1M793.7 711.4h.1M792.7 695.9h.1M763.8 682.5h.1M757.2 692.1h.1M789.3 712.1h.1M755.8 697.8h.1M756.2 695.3h.1M788.5 688.8h.1M756.5 716.8h.1M775.8 726.2h.1M791.2 712.5h.1M743.4 699.8h.1M791.2 711.7h.1M780.4 722.6h.1M776.9 685.9h.1M777.8 688.3h.1M759.7 722.7h.1M773.7 688.9h.1M775.0 724.3h.1M752.3 706.6h.1M792.5 710.6h.1M772.1 724.5h.1M793.8 703.6h.1M752.1 693.3h.1M773.9 688.8h.1M752.6 707.4h.1M776.7 686.0h.1M797.8 692.1h.1M749.9 707.4h.1M753.4 686.3h.1M753.4 688.5h.1M769.0 688.5h.1M774.6 730.4h.1M762.7 691.9h.1M777.7 688.1h.1M756.5 727.2h.1M770.9 688.5h.1M757.2 719.3h.1M751.9 706.8h.1M756.3 717.3h.1M791.0 706.6h.1M780.3 691.8h.1M753.0 718.0h.1M749.5 704.1h.1M748.5 714.8h.1M760.8 686.1h.1M771.9 690.4h.1M760.9 691.6h.1M791.2 710.2h.1M786.1 725.5h.1M769.0 686.0h.1M788.4 723.8h.1M772.7 724.6h.1M790.8 714.8h.1M760.9 729.0h.1M785.9 695.1h.1M758.7 692.3h.1M752.4 716.2h.1M782.4 693.5h.1M776.7 691.4h.1M792.1 696.0h.1M752.4 706.9h.1M757.8 723.6h.1M769.3 691.1h.1M777.7 724.5h.1M793.4 697.4h.1M775.6 726.2h.1M786.9 720.6h.1M782.5 692.6h.1M754.9 715.5h.1M760.1 722.9h.1M769.8 681.6h.1M796.7 726.1h.1M765.0 682.7h.1M755.2 698.4h.1M771.5 690.6h.1M781.5 688.2h.1M747.4 720.9h.1M793.4 718.2h.1M790.5 708.7h.1M750.8 706.9h.1M767.4 680.8h.1M807.6 692.7h.1M772.9 686.1h.1M754.5 722.7h.1M748.9 709.4h.1M787.5 695.5h.1M751.3 708.6h.1M762.0 689.1h.1M791.7 723.5h.1M784.5 728.9h.1M753.9 712.8h.1M791.2 704.5h.1M768.6 687.1h.1M753.7 696.5h.1M752.3 696.1h.1M764.6 670.7h.1" stroke="#000" stroke-width="1.55" stroke-linecap="square" fill="none" opacity="0.92"/>
<path d="M812.4 665.8h.1M814.4 670.0h.1M857.5 634.1h.1M866.7 643.9h.1M868.0 655.9h.1M850.0 656.9h.1M841.2 661.2h.1M830.4 676.5h.1M761.1 671.0h.1M770.9 679.8h.1M759.5 681.4h.1M802.6 686.3h.1M803.6 692.9h.1M802.0 697.8h.1M809.2 704.3h.1M809.2 708.2h.1M816.0 700.4h.1M818.3 711.5h.1M820.9 703.7h.1M835.3 703.7h.1M838.9 700.4h.1M848.7 690.6h.1M858.5 697.1h.1M801.3 705.0h.1M741.5 691.9h.1M742.5 696.1h.1M737.6 715.8h.1M790.5 727.2h.1" stroke="#555" stroke-width="1.5" stroke-linecap="square" fill="none" opacity="0.75"/>
<line x1="799.3" y1="468.8" x2="799.3" y2="741.1" stroke="#111" stroke-width="1.7"/>
<line x1="737.4" y1="683.1" x2="1021.7" y2="683.1" stroke="#222" stroke-width="1.4"/>
<text x="738.4" y="479.8" font-family='"Liberation Sans", sans-serif' font-size="12.2" font-weight="normal" text-anchor="start" fill="#15152a" textLength="25.0" lengthAdjust="spacingAndGlyphs" stroke="#15152a" stroke-width="0.3">0.03</text>
<text x="996.3" y="479.8" font-family='"Liberation Sans", sans-serif' font-size="12.2" font-weight="normal" text-anchor="start" fill="#15152a" textLength="25.0" lengthAdjust="spacingAndGlyphs" stroke="#15152a" stroke-width="0.3">0.08</text>
<text x="738.4" y="737.9" font-family='"Liberation Sans", sans-serif' font-size="12.2" font-weight="normal" text-anchor="start" fill="#15152a" textLength="31.4" lengthAdjust="spacingAndGlyphs" stroke="#15152a" stroke-width="0.3">99.66</text>
<text x="996.3" y="737.9" font-family='"Liberation Sans", sans-serif' font-size="12.2" font-weight="normal" text-anchor="start" fill="#15152a" textLength="25.0" lengthAdjust="spacingAndGlyphs" stroke="#15152a" stroke-width="0.3">0.23</text>
<text x="886.0" y="455.6" font-family='"Liberation Serif", serif' font-size="17.8" font-weight="bold" text-anchor="middle" fill="#000" textLength="62.0" lengthAdjust="spacingAndGlyphs">Control</text>
</g>
<g>
<rect x="1063.2" y="466.8" width="285.1" height="273.6" fill="#fff" stroke="#b4b4b4" stroke-width="1.6"/>
<path d="M1073.7 740.4v4.5M1098.2 740.4v4.5M1125.9 740.4v4.5M1193.9 740.4v4.5M1260.3 740.4v4.5M1324.0 740.4v4.5M1063.2 493.3h-4.5M1063.2 553.4h-4.5M1063.2 615.9h-4.5M1063.2 681.2h-4.5M1063.2 708.0h-4.5M1063.2 735.1h-4.5M1146.4 740.4v2.4M1158.3 740.4v2.4M1166.8 740.4v2.4M1173.4 740.4v2.4M1178.8 740.4v2.4M1183.4 740.4v2.4M1187.3 740.4v2.4M1190.8 740.4v2.4M1213.9 740.4v2.4M1225.6 740.4v2.4M1233.9 740.4v2.4M1240.3 740.4v2.4M1245.6 740.4v2.4M1250.0 740.4v2.4M1253.9 740.4v2.4M1257.3 740.4v2.4M1279.5 740.4v2.4M1290.7 740.4v2.4M1298.7 740.4v2.4M1304.8 740.4v2.4M1309.9 740.4v2.4M1314.1 740.4v2.4M1317.8 740.4v2.4M1321.1 740.4v2.4M1331.3 740.4v2.4M1337.4 740.4v2.4M1101.0 740.4v2.4M1103.7 740.4v2.4M1106.5 740.4v2.4M1109.3 740.4v2.4M1112.0 740.4v2.4M1114.8 740.4v2.4M1117.6 740.4v2.4M1120.4 740.4v2.4M1123.1 740.4v2.4M1095.8 740.4v2.4M1093.3 740.4v2.4M1090.9 740.4v2.4M1088.4 740.4v2.4M1086.0 740.4v2.4M1083.5 740.4v2.4M1081.0 740.4v2.4M1078.6 740.4v2.4M1076.2 740.4v2.4M1063.2 661.5h-2.4M1063.2 650.0h-2.4M1063.2 641.9h-2.4M1063.2 635.6h-2.4M1063.2 630.4h-2.4M1063.2 626.0h-2.4M1063.2 622.2h-2.4M1063.2 618.9h-2.4M1063.2 597.1h-2.4M1063.2 586.1h-2.4M1063.2 578.3h-2.4M1063.2 572.2h-2.4M1063.2 567.3h-2.4M1063.2 563.1h-2.4M1063.2 559.5h-2.4M1063.2 556.3h-2.4M1063.2 535.3h-2.4M1063.2 524.7h-2.4M1063.2 517.2h-2.4M1063.2 511.4h-2.4M1063.2 506.6h-2.4M1063.2 502.6h-2.4M1063.2 499.1h-2.4M1063.2 496.1h-2.4M1063.2 485.4h-2.4M1063.2 478.7h-2.4M1063.2 705.3h-2.4M1063.2 702.6h-2.4M1063.2 700.0h-2.4M1063.2 697.3h-2.4M1063.2 694.6h-2.4M1063.2 691.9h-2.4M1063.2 689.2h-2.4M1063.2 686.6h-2.4M1063.2 683.9h-2.4M1063.2 710.7h-2.4M1063.2 713.4h-2.4M1063.2 716.1h-2.4M1063.2 718.8h-2.4M1063.2 721.5h-2.4M1063.2 724.3h-2.4M1063.2 727.0h-2.4M1063.2 729.7h-2.4M1063.2 732.4h-2.4" stroke="#a8a8a8" stroke-width="0.9" fill="none"/>
<text x="1073.2" y="754.2" font-family='"Liberation Sans", sans-serif' font-size="9.6" stroke="#101028" stroke-width="0.25" text-anchor="middle" fill="#101028">-10<tspan dy="-4.2" font-size="5.6">2</tspan></text>
<text x="1099.4" y="754.2" font-family='"Liberation Sans", sans-serif' font-size="9.6" font-weight="normal" text-anchor="middle" fill="#101028" stroke="#101028" stroke-width="0.25">0</text>
<text x="1127.1" y="754.2" font-family='"Liberation Sans", sans-serif' font-size="9.6" stroke="#101028" stroke-width="0.25" text-anchor="middle" fill="#101028">10<tspan dy="-4.2" font-size="5.6">2</tspan></text>
<text x="1195.1" y="754.2" font-family='"Liberation Sans", sans-serif' font-size="9.6" stroke="#101028" stroke-width="0.25" text-anchor="middle" fill="#101028">10<tspan dy="-4.2" font-size="5.6">3</tspan></text>
<text x="1261.5" y="754.2" font-family='"Liberation Sans", sans-serif' font-size="9.6" stroke="#101028" stroke-width="0.25" text-anchor="middle" fill="#101028">10<tspan dy="-4.2" font-size="5.6">4</tspan></text>
<text x="1325.2" y="754.2" font-family='"Liberation Sans", sans-serif' font-size="9.6" stroke="#101028" stroke-width="0.25" text-anchor="middle" fill="#101028">10<tspan dy="-4.2" font-size="5.6">5</tspan></text>
<text x="1059.0" y="496.9" font-family='"Liberation Sans", sans-serif' font-size="9.6" stroke="#101028" stroke-width="0.25" text-anchor="end" fill="#101028">10<tspan dy="-4.2" font-size="5.6">5</tspan></text>
<text x="1059.0" y="557.0" font-family='"Liberation Sans", sans-serif' font-size="9.6" stroke="#101028" stroke-width="0.25" text-anchor="end" fill="#101028">10<tspan dy="-4.2" font-size="5.6">4</tspan></text>
<text x="1059.0" y="619.5" font-family='"Liberation Sans", sans-serif' font-size="9.6" stroke="#101028" stroke-width="0.25" text-anchor="end" fill="#101028">10<tspan dy="-4.2" font-size="5.6">3</tspan></text>
<text x="1059.0" y="684.8" font-family='"Liberation Sans", sans-serif' font-size="9.6" stroke="#101028" stroke-width="0.25" text-anchor="end" fill="#101028">10<tspan dy="-4.2" font-size="5.6">2</tspan></text>
<text x="1059.0" y="711.6" font-family='"Liberation Sans", sans-serif' font-size="9.6" font-weight="normal" text-anchor="end" fill="#101028" stroke="#101028" stroke-width="0.25">0</text>
<text x="1059.0" y="738.7" font-family='"Liberation Sans", sans-serif' font-size="9.6" stroke="#101028" stroke-width="0.25" text-anchor="end" fill="#101028">-10<tspan dy="-4.2" font-size="5.6">2</tspan></text>
<ellipse cx="1102.0" cy="706.6" rx="19.0" ry="15.0" transform="rotate(0 1102.0 706.6)" fill="#050505" filter="url(#rag)"/>
<ellipse cx="1135.2" cy="702.8" rx="22.0" ry="12.5" transform="rotate(-6 1135.2 702.8)" fill="#050505" filter="url(#rag)"/>
<ellipse cx="1160.2" cy="697.8" rx="21.0" ry="11.0" transform="rotate(-12 1160.2 697.8)" fill="#050505" filter="url(#rag)"/>
<path d="M1136.6 693.1h.1M1138.8 698.4h.1M1149.5 697.5h.1M1155.2 700.5h.1M1127.7 696.2h.1M1128.4 699.3h.1M1117.6 703.5h.1M1124.6 694.8h.1M1152.8 698.4h.1M1134.9 706.5h.1M1153.0 702.2h.1M1128.2 701.4h.1M1119.3 705.7h.1M1131.4 704.2h.1M1137.7 693.9h.1M1140.7 703.6h.1M1149.9 702.8h.1M1131.5 704.7h.1M1149.8 696.1h.1M1143.0 705.8h.1M1122.1 698.6h.1M1122.9 703.6h.1M1126.3 703.6h.1M1151.0 701.3h.1M1126.5 706.5h.1M1132.2 695.1h.1M1122.6 701.7h.1M1133.4 694.6h.1M1144.4 696.9h.1M1147.9 693.1h.1M1174.3 701.8h.1M1177.4 692.3h.1M1159.1 698.3h.1M1149.4 701.2h.1M1149.5 701.0h.1M1152.7 701.9h.1M1145.4 702.5h.1M1170.1 689.2h.1M1166.6 693.3h.1M1163.3 706.0h.1M1152.6 698.0h.1M1147.6 695.1h.1M1146.9 706.4h.1M1148.3 707.1h.1M1160.4 702.5h.1M1149.0 693.3h.1M1153.2 690.1h.1M1165.1 689.1h.1M1146.6 699.7h.1M1167.7 699.0h.1M1144.3 694.9h.1M1173.4 699.5h.1M1167.9 700.2h.1M1161.5 689.7h.1M1143.0 703.2h.1" stroke="#fff" stroke-width="1.1" stroke-linecap="square" fill="none" opacity="0.75"/>
<path d="M1099.9 688.8h.1M1097.4 685.3h.1M1119.0 710.7h.1M1088.8 719.3h.1M1098.1 719.9h.1M1097.7 727.7h.1M1091.9 693.4h.1M1083.4 707.5h.1M1118.9 716.8h.1M1080.1 696.6h.1M1109.6 691.9h.1M1098.9 722.1h.1M1088.5 719.0h.1M1088.1 698.2h.1M1103.1 723.5h.1M1113.5 718.6h.1M1105.7 720.6h.1M1091.5 719.7h.1M1102.6 691.6h.1M1092.5 691.1h.1M1106.3 690.2h.1M1081.4 706.8h.1M1096.8 692.5h.1M1115.6 719.8h.1M1086.2 718.0h.1M1095.7 720.1h.1M1079.2 686.6h.1M1112.4 717.5h.1M1117.5 714.6h.1M1103.2 724.2h.1M1090.5 694.3h.1M1118.8 692.6h.1M1083.9 711.7h.1M1082.9 710.9h.1M1118.6 714.7h.1M1093.1 694.7h.1M1084.5 703.2h.1M1083.4 703.9h.1M1096.4 723.5h.1M1111.0 691.0h.1M1099.6 692.7h.1M1109.9 685.2h.1M1086.0 716.6h.1M1108.0 720.2h.1M1082.9 714.6h.1M1080.0 701.2h.1M1111.9 693.0h.1M1097.8 686.1h.1M1091.2 692.7h.1M1080.3 702.7h.1M1109.9 725.5h.1M1083.9 704.9h.1M1082.4 711.5h.1M1078.8 707.4h.1M1092.6 689.7h.1M1118.1 714.8h.1M1096.3 720.3h.1M1085.6 697.1h.1M1105.3 727.2h.1M1128.6 715.8h.1M1087.4 697.0h.1M1088.3 687.4h.1M1116.4 691.9h.1M1084.2 700.9h.1M1086.8 694.6h.1M1117.2 714.6h.1M1088.5 695.7h.1M1114.6 720.1h.1M1074.2 714.1h.1M1091.0 718.5h.1M1096.0 688.6h.1M1089.7 719.7h.1M1075.9 713.7h.1M1105.8 721.8h.1M1088.2 721.4h.1M1104.8 690.3h.1M1123.7 715.4h.1M1121.7 694.4h.1M1119.1 715.9h.1M1098.7 724.2h.1M1090.2 695.5h.1M1113.8 716.9h.1M1099.4 689.4h.1M1104.3 691.1h.1M1105.8 720.0h.1M1110.5 689.6h.1M1083.4 692.1h.1M1097.0 720.9h.1M1092.7 693.1h.1M1116.6 716.4h.1M1108.4 720.2h.1M1079.1 698.5h.1M1087.7 715.4h.1M1093.5 690.9h.1M1093.0 720.4h.1M1114.0 694.6h.1M1111.3 693.0h.1M1115.6 689.3h.1M1109.6 692.4h.1M1118.4 713.4h.1M1084.0 704.7h.1M1099.9 723.0h.1M1108.9 721.3h.1M1098.4 721.2h.1M1100.8 687.4h.1M1100.0 720.6h.1M1090.3 696.6h.1M1081.1 709.4h.1M1083.0 697.2h.1M1094.8 688.4h.1M1106.8 721.0h.1M1084.4 696.1h.1M1078.8 712.4h.1M1082.6 709.6h.1M1092.2 690.1h.1M1086.6 696.1h.1M1108.1 720.2h.1M1082.5 707.8h.1M1116.4 695.6h.1M1100.4 724.7h.1M1120.9 686.1h.1M1111.4 687.6h.1M1107.3 693.0h.1M1084.8 711.4h.1M1077.8 709.9h.1M1114.5 696.5h.1M1101.9 729.9h.1M1112.9 721.3h.1M1085.6 698.8h.1M1120.9 713.8h.1M1100.7 721.3h.1M1099.3 723.5h.1M1098.8 720.3h.1M1101.2 722.7h.1M1089.9 721.4h.1M1084.6 699.7h.1M1082.3 703.2h.1M1097.1 729.9h.1M1105.0 689.7h.1M1123.6 714.9h.1M1077.9 705.5h.1M1086.0 698.7h.1M1093.9 689.9h.1M1124.5 716.3h.1M1089.2 695.8h.1M1114.6 694.2h.1M1097.3 720.3h.1M1083.0 705.9h.1M1113.7 694.5h.1M1082.2 707.6h.1M1095.6 722.3h.1M1104.2 688.3h.1M1090.4 723.8h.1M1083.6 707.2h.1M1082.2 705.8h.1M1079.3 709.9h.1M1079.4 700.3h.1M1115.4 716.3h.1M1118.4 719.0h.1M1090.8 689.9h.1M1097.6 720.8h.1M1100.2 726.7h.1M1117.7 717.8h.1M1112.4 693.5h.1M1102.3 690.0h.1M1117.6 722.5h.1M1084.4 696.9h.1M1107.3 693.4h.1M1096.6 692.6h.1M1090.3 716.8h.1M1091.2 692.9h.1M1101.9 723.2h.1M1110.8 693.2h.1M1116.4 690.9h.1M1078.5 716.8h.1M1118.0 697.4h.1M1091.0 726.1h.1M1097.9 689.4h.1M1105.3 726.3h.1M1116.4 715.1h.1M1098.2 720.2h.1M1110.4 694.5h.1M1083.9 695.7h.1M1095.9 691.9h.1M1093.9 720.9h.1M1094.7 723.6h.1M1116.6 715.0h.1M1091.1 695.0h.1M1110.6 692.6h.1M1114.8 695.4h.1M1094.0 721.1h.1M1098.7 691.6h.1M1089.8 716.8h.1M1092.1 719.1h.1M1084.2 701.6h.1M1113.0 720.7h.1M1096.0 692.6h.1M1119.0 720.0h.1M1111.3 692.9h.1M1111.5 693.6h.1M1110.3 694.0h.1M1092.1 718.1h.1M1098.3 692.2h.1M1085.0 722.3h.1M1098.4 691.6h.1M1113.0 692.8h.1M1106.5 691.0h.1M1076.1 717.0h.1M1083.3 705.0h.1M1080.7 708.0h.1M1113.7 718.4h.1M1117.3 717.1h.1M1117.4 696.9h.1M1120.3 712.0h.1M1089.4 692.1h.1M1084.9 711.9h.1M1111.8 718.1h.1M1120.6 712.6h.1M1087.5 716.6h.1M1089.8 719.5h.1M1095.6 691.2h.1M1093.3 718.3h.1M1098.0 692.9h.1M1094.3 689.1h.1M1106.0 721.0h.1M1098.6 720.7h.1M1095.4 721.3h.1M1108.2 722.1h.1M1092.9 721.4h.1M1120.1 715.4h.1M1081.1 715.1h.1M1081.7 709.0h.1M1097.4 726.1h.1M1078.6 715.6h.1M1105.8 692.4h.1M1120.6 720.2h.1M1092.5 686.9h.1M1089.6 717.2h.1M1086.2 719.7h.1M1083.9 714.8h.1M1099.3 691.7h.1M1086.9 721.5h.1M1090.9 693.1h.1M1074.2 710.9h.1M1091.7 695.6h.1M1089.8 695.6h.1M1109.4 693.3h.1M1107.1 719.9h.1M1085.2 717.8h.1M1117.4 714.2h.1M1079.2 706.9h.1M1115.5 723.5h.1M1113.7 723.4h.1M1090.8 690.8h.1M1117.2 720.1h.1M1097.4 683.1h.1M1124.7 726.6h.1M1084.2 715.8h.1M1101.5 724.9h.1M1117.6 695.7h.1M1078.7 714.1h.1M1092.0 689.1h.1M1075.1 731.7h.1M1103.8 724.1h.1M1143.3 724.2h.1M1080.6 712.2h.1M1132.2 717.3h.1M1104.3 722.9h.1M1098.1 686.2h.1M1089.3 697.1h.1M1127.0 715.2h.1M1146.8 683.8h.1M1173.8 705.7h.1M1141.2 719.5h.1M1189.3 693.4h.1M1194.5 691.0h.1M1126.8 688.0h.1M1193.8 703.5h.1M1119.3 712.8h.1M1191.3 687.2h.1M1147.8 690.7h.1M1204.7 692.5h.1M1176.5 679.4h.1M1219.4 675.9h.1M1154.9 715.4h.1M1217.6 690.2h.1M1201.8 683.1h.1M1156.9 685.5h.1M1161.2 685.4h.1M1139.9 716.3h.1M1219.3 691.7h.1M1156.8 681.9h.1M1169.3 707.6h.1M1167.2 686.3h.1M1180.1 700.2h.1M1154.5 684.6h.1M1162.6 675.9h.1M1166.5 684.6h.1M1197.6 681.7h.1M1151.7 708.4h.1M1150.8 709.5h.1M1180.5 691.6h.1M1208.2 682.8h.1M1178.4 699.8h.1M1175.7 706.6h.1M1165.6 686.8h.1M1209.7 690.3h.1M1180.1 686.6h.1M1189.1 692.5h.1M1130.7 714.9h.1M1158.0 681.1h.1M1184.1 699.8h.1M1192.2 697.9h.1M1131.0 717.8h.1M1169.2 686.6h.1M1184.5 692.8h.1M1146.0 692.1h.1M1145.1 690.4h.1M1144.9 692.3h.1M1162.7 687.8h.1M1177.6 699.6h.1M1128.3 691.8h.1M1177.7 688.8h.1M1183.1 678.6h.1M1131.7 690.1h.1M1182.6 694.8h.1M1179.5 686.6h.1M1154.9 713.0h.1M1146.1 690.5h.1M1180.1 691.4h.1M1181.0 683.4h.1M1178.6 681.9h.1M1141.3 691.6h.1M1193.4 686.4h.1M1150.7 683.7h.1M1167.1 706.6h.1M1188.3 684.8h.1M1181.1 678.7h.1M1195.4 699.1h.1M1136.6 690.6h.1M1193.8 690.0h.1M1146.5 690.8h.1M1183.6 689.3h.1M1168.6 685.1h.1M1166.5 685.4h.1M1193.2 697.0h.1M1136.7 687.7h.1M1167.9 687.4h.1M1181.2 695.6h.1M1152.2 708.8h.1M1178.4 690.8h.1M1177.2 701.0h.1M1153.8 720.8h.1M1190.6 697.9h.1M1131.4 714.5h.1M1176.7 701.7h.1M1172.9 685.7h.1M1194.6 686.5h.1M1176.2 704.4h.1M1182.1 684.4h.1M1155.4 686.1h.1M1181.0 697.9h.1M1167.0 706.0h.1M1169.8 677.0h.1M1150.9 710.6h.1M1176.7 686.6h.1M1200.8 683.6h.1M1138.4 690.9h.1M1149.7 710.7h.1M1115.4 715.6h.1M1184.9 672.5h.1M1188.0 699.6h.1M1181.6 705.9h.1M1127.0 716.5h.1M1183.3 713.7h.1M1155.6 687.6h.1M1136.1 691.5h.1M1177.5 678.4h.1M1184.2 697.1h.1M1151.3 682.7h.1M1152.3 689.6h.1M1184.4 692.6h.1M1128.3 715.8h.1M1130.3 717.2h.1M1177.0 690.4h.1M1171.5 683.0h.1M1209.3 687.5h.1M1150.8 688.9h.1M1176.5 683.9h.1M1183.5 684.6h.1M1218.6 698.3h.1M1198.3 692.0h.1M1196.0 685.2h.1M1184.5 695.3h.1M1162.9 683.7h.1M1181.3 702.2h.1M1149.2 685.2h.1M1143.5 690.1h.1M1152.0 684.7h.1M1176.0 701.8h.1M1147.2 692.4h.1M1184.9 686.9h.1M1128.4 717.1h.1M1176.0 702.4h.1M1187.2 689.2h.1M1174.1 705.6h.1M1193.9 685.4h.1M1184.0 706.2h.1M1165.9 680.5h.1M1151.7 688.6h.1M1114.4 720.0h.1M1204.3 698.0h.1M1172.3 682.6h.1M1124.1 690.3h.1M1159.7 683.3h.1M1146.1 690.9h.1M1176.9 702.7h.1M1180.8 687.6h.1M1187.2 698.9h.1M1131.0 687.1h.1M1186.9 700.3h.1M1175.5 681.8h.1M1189.3 686.6h.1M1137.1 716.3h.1M1181.8 691.4h.1M1187.7 702.2h.1M1175.0 703.4h.1M1188.8 688.9h.1M1145.7 687.1h.1M1180.7 694.3h.1M1193.8 679.2h.1M1186.0 698.4h.1M1170.0 704.7h.1M1161.5 682.3h.1M1208.3 683.2h.1M1162.8 686.9h.1M1153.1 716.6h.1M1143.1 689.0h.1M1173.3 687.6h.1M1151.3 688.6h.1M1184.2 691.1h.1M1181.3 689.6h.1M1156.2 712.4h.1M1154.0 709.9h.1M1174.7 679.2h.1M1180.1 679.3h.1M1169.1 683.9h.1M1191.8 696.9h.1M1069.0 716.7h.1M1202.2 690.9h.1M1139.2 689.7h.1M1178.3 698.8h.1M1119.3 712.3h.1M1185.3 682.8h.1M1114.0 722.0h.1M1158.4 680.6h.1M1200.4 680.8h.1M1160.5 682.0h.1M1190.2 684.0h.1M1189.6 684.4h.1M1179.0 690.5h.1M1170.5 708.2h.1M1184.0 693.4h.1M1163.8 685.0h.1M1181.9 694.6h.1M1190.9 685.3h.1M1184.6 687.8h.1M1172.4 704.2h.1M1186.4 684.8h.1M1205.3 688.4h.1M1179.5 685.5h.1M1181.9 693.7h.1M1154.4 708.0h.1M1194.0 700.4h.1M1175.5 686.1h.1M1176.1 686.7h.1M1142.9 712.5h.1M1155.2 711.0h.1M1160.1 711.9h.1M1197.1 684.4h.1M1169.9 707.3h.1M1189.2 690.4h.1M1180.4 688.1h.1M1170.2 682.8h.1M1199.0 690.2h.1M1116.0 690.5h.1M1198.0 701.0h.1M1203.8 680.0h.1M1169.8 706.6h.1M1162.0 686.6h.1M1159.9 684.8h.1M1205.8 694.8h.1M1148.3 690.3h.1M1189.4 692.8h.1M1185.7 692.9h.1M1139.7 715.1h.1M1183.5 692.7h.1M1128.4 717.4h.1M1180.9 689.2h.1M1182.0 686.3h.1M1164.5 686.4h.1M1134.0 691.6h.1M1144.3 690.7h.1M1162.0 687.6h.1M1191.2 696.3h.1M1217.6 694.3h.1M1187.0 693.3h.1M1149.2 689.8h.1M1147.5 689.6h.1M1160.3 710.4h.1M1173.0 706.0h.1M1186.9 686.3h.1M1193.2 696.4h.1M1181.8 687.6h.1M1180.8 695.2h.1M1135.6 688.5h.1M1187.4 691.8h.1M1156.3 688.4h.1M1188.3 678.8h.1M1128.4 715.4h.1M1199.0 694.4h.1M1202.2 692.1h.1M1198.6 692.8h.1M1179.3 697.7h.1M1168.4 684.8h.1M1187.5 694.5h.1M1201.0 680.3h.1M1197.3 692.7h.1M1192.5 699.3h.1M1138.7 715.2h.1M1180.5 688.9h.1M1175.3 685.4h.1M1112.3 694.1h.1M1183.4 704.7h.1M1141.1 689.9h.1M1122.2 716.1h.1M1148.4 688.6h.1M1191.7 696.0h.1M1185.6 691.8h.1M1209.5 696.6h.1M1147.8 691.0h.1M1162.4 685.1h.1M1183.9 700.2h.1M1182.6 694.2h.1M1194.2 685.8h.1M1179.4 688.4h.1M1169.3 716.2h.1M1081.0 718.0h.1M1145.8 689.2h.1M1184.1 706.9h.1M1180.1 703.1h.1M1189.2 700.6h.1M1190.6 688.3h.1M1198.8 695.7h.1M1185.4 696.3h.1M1153.6 711.0h.1M1144.9 717.9h.1M1188.3 695.6h.1M1177.7 703.4h.1M1180.6 704.7h.1M1151.2 687.7h.1M1176.9 684.7h.1M1183.4 695.3h.1M1152.9 712.9h.1M1177.8 690.2h.1M1190.0 698.0h.1M1121.0 715.7h.1M1154.6 709.2h.1M1180.0 713.0h.1M1188.7 700.8h.1M1174.8 712.2h.1M1185.5 696.2h.1M1178.5 690.1h.1M1221.0 683.3h.1M1139.5 690.7h.1M1152.8 708.7h.1M1173.5 703.1h.1M1174.5 686.3h.1M1162.7 684.7h.1M1179.6 690.2h.1M1160.0 679.3h.1M1145.6 688.1h.1M1178.1 690.4h.1M1200.4 679.1h.1M1176.5 701.9h.1M1178.5 690.5h.1M1181.4 690.0h.1M1178.0 700.5h.1M1154.1 712.7h.1M1203.0 682.5h.1M1176.7 687.7h.1M1140.8 691.1h.1M1157.0 688.7h.1M1180.3 704.1h.1M1164.3 707.9h.1M1128.9 713.8h.1M1207.7 691.2h.1M1169.5 686.2h.1M1149.9 686.1h.1M1144.9 688.4h.1M1192.5 683.1h.1M1179.9 702.9h.1M1218.7 698.8h.1M1119.9 718.8h.1M1155.5 684.6h.1M1129.4 715.1h.1M1180.6 682.1h.1M1173.3 703.5h.1M1211.2 684.6h.1M1160.6 682.1h.1M1206.2 705.2h.1M1075.1 716.6h.1M1180.0 696.8h.1M1149.4 710.4h.1M1196.3 691.8h.1M1158.4 708.8h.1M1164.2 712.2h.1M1170.7 682.4h.1M1177.7 687.3h.1M1170.6 705.5h.1M1185.1 686.2h.1M1170.1 712.6h.1M1150.3 709.9h.1M1159.2 709.8h.1M1134.8 691.6h.1M1201.1 680.3h.1M1183.3 697.6h.1M1107.3 720.1h.1M1178.2 682.0h.1M1181.0 692.9h.1M1162.0 685.0h.1M1186.3 698.7h.1M1177.6 689.3h.1M1198.0 685.3h.1M1168.3 705.4h.1M1190.6 691.6h.1M1157.0 712.3h.1M1180.4 689.7h.1M1182.7 693.0h.1M1170.7 686.5h.1M1176.0 701.6h.1M1165.5 707.4h.1M1128.3 717.6h.1M1181.9 701.0h.1M1168.1 687.5h.1M1178.4 677.7h.1M1194.8 700.8h.1M1218.0 685.6h.1M1155.9 686.1h.1M1186.3 698.0h.1M1123.1 693.6h.1M1181.4 694.1h.1M1184.3 700.7h.1M1187.2 698.1h.1M1150.9 684.5h.1M1120.5 717.3h.1M1152.8 688.8h.1M1147.3 691.8h.1M1181.1 685.4h.1M1145.1 687.6h.1M1159.1 678.5h.1M1198.1 689.0h.1M1157.2 710.3h.1M1203.2 692.9h.1M1133.6 714.9h.1M1164.0 714.0h.1M1170.2 685.0h.1M1164.2 709.3h.1M1189.9 694.7h.1M1181.6 695.5h.1M1120.3 713.0h.1M1118.4 713.3h.1M1173.5 704.4h.1M1126.1 722.5h.1M1194.6 694.7h.1M1154.3 686.4h.1M1120.5 693.9h.1M1144.0 713.6h.1M1154.7 684.6h.1M1178.0 700.9h.1M1190.0 689.3h.1M1186.5 677.0h.1M1120.3 714.2h.1M1183.6 691.7h.1M1166.4 681.7h.1M1174.0 705.2h.1M1181.5 697.6h.1M1130.8 715.1h.1M1123.8 694.1h.1M1164.3 710.7h.1M1176.6 690.1h.1M1146.0 686.9h.1M1157.5 686.3h.1M1128.4 717.4h.1M1195.9 696.1h.1M1183.2 694.8h.1M1172.4 705.5h.1M1189.4 697.0h.1M1180.4 692.6h.1M1148.3 710.9h.1M1142.4 713.1h.1M1161.9 708.9h.1M1192.5 698.5h.1M1141.5 691.5h.1M1199.7 684.9h.1M1169.4 686.9h.1M1192.8 695.6h.1M1166.6 710.1h.1M1141.4 715.3h.1M1187.3 703.1h.1M1184.2 694.9h.1M1185.7 690.1h.1M1199.7 695.8h.1M1209.5 688.1h.1M1181.4 696.3h.1M1174.6 676.3h.1M1172.7 686.1h.1M1126.6 691.6h.1M1196.7 687.4h.1M1192.8 690.7h.1M1183.2 695.3h.1M1125.2 720.1h.1M1180.0 699.3h.1M1184.6 682.2h.1M1145.9 690.3h.1M1119.7 711.2h.1M1181.9 690.2h.1M1204.3 691.8h.1M1163.3 710.8h.1M1178.4 690.7h.1M1127.4 720.2h.1M1171.8 682.3h.1M1189.3 690.6h.1M1148.6 689.4h.1M1153.2 715.2h.1M1126.8 690.5h.1M1187.4 694.7h.1M1175.9 704.8h.1M1172.1 708.8h.1M1185.5 693.6h.1M1147.3 692.1h.1M1181.4 698.1h.1M1212.0 681.5h.1M1176.2 706.9h.1M1188.6 695.4h.1M1187.5 688.5h.1M1150.8 686.0h.1M1165.6 709.1h.1M1194.6 694.3h.1M1168.4 687.6h.1M1182.6 690.7h.1M1180.3 696.0h.1M1139.6 690.8h.1M1197.3 679.8h.1M1157.9 710.6h.1M1182.0 693.2h.1M1167.4 707.3h.1M1172.1 706.6h.1M1201.2 705.0h.1M1159.3 682.9h.1M1178.8 710.9h.1M1161.5 711.0h.1M1149.3 691.3h.1M1186.4 696.2h.1M1184.0 709.2h.1M1196.8 703.7h.1M1175.9 684.7h.1M1183.1 700.1h.1M1146.2 678.7h.1M1196.1 694.4h.1M1189.9 690.8h.1M1182.1 695.2h.1M1151.0 711.9h.1M1157.3 685.2h.1M1082.9 712.4h.1M1164.0 687.6h.1M1171.8 685.9h.1M1175.1 681.2h.1M1120.7 691.7h.1M1172.7 708.5h.1M1183.7 702.0h.1M1148.2 688.8h.1M1189.8 690.9h.1M1166.2 687.5h.1M1121.6 714.8h.1M1163.6 680.3h.1M1135.5 690.7h.1M1162.1 709.8h.1M1191.2 695.6h.1M1206.1 685.3h.1M1151.9 678.2h.1M1143.6 684.2h.1M1187.0 694.9h.1M1211.5 681.8h.1M1184.6 695.5h.1M1150.0 709.4h.1M1166.0 708.0h.1M1124.4 718.2h.1M1182.0 701.0h.1M1167.8 713.4h.1M1185.5 697.2h.1M1117.0 714.3h.1M1191.9 683.0h.1M1191.4 692.4h.1M1181.8 690.2h.1M1176.0 703.4h.1M1115.9 694.0h.1M1170.6 707.2h.1M1191.3 679.1h.1M1183.3 684.7h.1M1115.2 694.3h.1M1111.6 722.8h.1M1180.6 708.7h.1M1149.2 688.1h.1M1126.2 686.9h.1M1196.0 698.0h.1M1179.0 698.2h.1M1153.0 688.5h.1M1159.8 679.2h.1M1180.0 686.0h.1M1158.7 682.1h.1M1181.1 689.3h.1M1181.8 695.9h.1M1182.7 696.7h.1M1141.2 690.6h.1M1188.9 694.7h.1M1170.7 708.5h.1M1180.9 688.7h.1M1176.9 690.3h.1M1144.4 691.5h.1M1213.1 685.5h.1M1151.6 689.9h.1M1174.4 688.0h.1M1180.1 692.2h.1M1162.7 712.5h.1M1181.3 692.5h.1M1164.6 684.8h.1M1183.9 685.3h.1M1210.0 692.0h.1M1177.0 702.8h.1M1206.0 688.7h.1M1153.3 708.8h.1M1213.0 677.5h.1M1152.8 708.9h.1M1131.1 690.8h.1M1183.5 687.6h.1M1198.6 667.5h.1M1189.0 691.6h.1M1178.9 687.0h.1M1159.1 715.7h.1M1174.3 704.1h.1M1151.7 685.0h.1M1141.8 680.0h.1M1145.8 690.8h.1M1142.3 689.4h.1M1177.1 689.8h.1M1092.5 720.4h.1M1205.2 682.7h.1M1165.4 687.7h.1M1190.9 693.3h.1M1155.7 709.2h.1M1189.9 693.7h.1M1180.2 707.6h.1M1151.3 690.3h.1M1155.5 686.3h.1M1166.5 684.4h.1M1155.9 675.2h.1M1184.5 694.9h.1M1154.7 688.7h.1M1140.3 713.3h.1M1162.5 713.0h.1M1177.8 685.8h.1M1128.3 692.3h.1M1167.6 713.6h.1M1122.8 694.3h.1M1173.5 680.8h.1M1151.0 690.6h.1M1206.8 694.7h.1M1148.8 688.1h.1M1176.3 687.6h.1M1129.2 714.2h.1M1178.3 701.0h.1M1144.9 681.0h.1M1176.5 703.0h.1M1179.9 695.2h.1M1178.7 705.8h.1M1182.2 689.5h.1M1175.2 709.7h.1M1163.9 686.8h.1M1180.0 706.1h.1M1117.8 697.4h.1M1198.4 679.6h.1M1143.9 690.8h.1M1186.4 697.0h.1M1129.4 717.5h.1M1166.2 708.3h.1M1181.0 696.3h.1M1164.2 686.2h.1M1196.2 691.1h.1M1188.2 697.3h.1M1207.9 684.6h.1M1209.2 697.9h.1M1161.6 714.3h.1M1170.7 686.7h.1M1180.8 706.4h.1M1182.1 681.8h.1M1179.5 699.3h.1M1139.3 718.5h.1M1162.7 675.2h.1M1146.7 692.4h.1M1117.3 692.8h.1M1180.1 701.7h.1M1115.7 716.5h.1M1194.1 689.1h.1M1144.0 712.8h.1M1196.9 699.9h.1M1174.2 688.4h.1M1090.1 724.8h.1M1151.4 689.1h.1M1170.5 687.1h.1M1141.6 688.4h.1M1194.1 691.9h.1M1185.1 697.8h.1M1188.0 690.9h.1M1186.9 690.7h.1M1185.0 698.2h.1M1186.3 694.3h.1M1173.7 680.8h.1M1181.1 673.8h.1M1183.2 698.2h.1M1144.9 690.8h.1M1213.5 673.7h.1M1166.7 679.0h.1M1186.9 694.8h.1M1182.3 691.8h.1M1137.2 690.4h.1M1128.8 721.9h.1M1133.2 687.2h.1M1151.3 713.8h.1M1136.5 685.5h.1M1193.3 691.6h.1M1145.3 689.0h.1M1188.3 688.7h.1M1124.8 715.3h.1M1190.6 689.3h.1M1195.5 689.1h.1M1180.8 690.5h.1M1163.7 708.4h.1M1191.5 680.5h.1M1148.4 692.0h.1M1127.8 715.2h.1M1145.7 692.3h.1M1185.9 692.9h.1M1125.1 714.8h.1M1191.9 688.4h.1M1199.6 687.7h.1M1181.0 705.1h.1M1158.0 687.5h.1M1163.2 710.1h.1M1182.2 697.2h.1M1139.9 688.7h.1M1151.3 710.1h.1M1146.2 713.2h.1M1177.8 689.4h.1M1208.3 682.3h.1M1156.1 684.2h.1M1183.8 702.9h.1M1202.0 699.2h.1M1177.9 699.7h.1M1118.8 718.0h.1M1180.6 690.9h.1M1188.4 703.8h.1M1156.9 708.2h.1M1174.9 688.8h.1M1181.2 685.6h.1M1122.7 692.1h.1M1192.9 697.4h.1M1180.7 693.4h.1M1174.5 705.5h.1M1149.9 711.6h.1M1197.7 692.4h.1M1184.6 703.4h.1M1146.8 688.0h.1M1188.4 692.6h.1M1146.6 687.6h.1M1115.9 723.6h.1M1181.6 694.4h.1M1144.9 688.9h.1M1189.6 695.1h.1M1194.3 681.6h.1M1182.8 694.0h.1M1196.3 698.0h.1M1127.2 717.3h.1M1187.0 692.8h.1M1187.6 687.0h.1M1168.6 681.4h.1M1185.4 681.1h.1M1119.3 711.2h.1M1177.0 681.4h.1M1180.3 695.4h.1M1182.9 707.2h.1M1194.5 700.9h.1M1182.4 695.8h.1M1181.2 692.8h.1M1161.4 684.9h.1M1181.5 696.3h.1M1168.2 707.2h.1M1171.4 706.8h.1M1159.3 708.2h.1M1140.4 683.9h.1M1192.8 686.7h.1M1209.2 694.5h.1M1152.2 683.3h.1M1207.0 696.9h.1M1124.5 683.7h.1M1188.3 689.2h.1M1162.1 686.9h.1M1153.9 712.2h.1M1189.1 706.9h.1M1180.1 693.4h.1M1202.3 698.8h.1M1154.0 713.3h.1M1195.3 691.9h.1M1196.3 693.6h.1M1152.1 715.3h.1M1122.7 694.7h.1M1186.7 690.3h.1M1169.3 685.8h.1M1123.3 721.3h.1M1163.6 712.1h.1M1197.6 690.1h.1M1154.7 687.9h.1M1181.8 695.8h.1M1175.1 680.0h.1M1118.6 711.1h.1M1191.5 699.2h.1M1180.8 699.9h.1M1214.4 681.0h.1M1192.8 696.6h.1M1189.7 695.3h.1M1136.1 690.5h.1M1154.1 682.2h.1M1137.7 716.5h.1M1155.9 688.5h.1M1178.4 688.4h.1M1154.4 711.1h.1M1209.3 686.4h.1M1176.1 701.9h.1M1186.8 702.3h.1M1224.2 686.4h.1M1176.2 684.4h.1M1177.1 689.4h.1M1179.9 690.0h.1M1137.9 715.3h.1M1172.2 687.4h.1M1178.4 670.5h.1M1147.4 711.3h.1M1187.7 688.3h.1M1189.3 700.2h.1M1178.8 711.0h.1M1183.5 686.0h.1M1176.7 703.4h.1M1122.5 720.0h.1M1188.5 692.4h.1M1212.5 687.6h.1M1158.7 712.2h.1M1126.4 685.7h.1M1167.9 705.5h.1M1188.2 692.4h.1M1160.9 710.1h.1M1183.4 697.7h.1M1177.8 676.7h.1M1158.6 708.9h.1M1168.4 686.9h.1M1096.0 724.7h.1M1182.4 699.2h.1M1192.4 688.9h.1M1161.4 674.8h.1M1186.8 680.4h.1M1201.5 679.3h.1M1182.6 688.2h.1M1135.1 689.9h.1M1120.8 695.6h.1M1184.2 705.2h.1M1165.4 686.0h.1M1148.3 691.7h.1M1158.9 683.6h.1M1191.9 679.1h.1M1148.5 690.9h.1M1201.4 691.5h.1M1116.5 697.4h.1M1133.7 691.0h.1M1165.2 686.0h.1M1172.8 686.8h.1M1177.7 689.1h.1M1202.3 697.0h.1M1159.5 678.7h.1M1143.3 685.5h.1M1186.2 703.8h.1M1147.0 711.0h.1M1109.3 693.4h.1M1196.1 689.0h.1M1202.1 694.4h.1M1086.9 730.6h.1M1139.4 713.5h.1M1182.4 698.6h.1M1185.9 686.5h.1M1182.7 692.8h.1M1178.9 687.2h.1M1126.4 713.8h.1M1186.2 701.7h.1M1148.6 717.8h.1M1186.9 687.0h.1M1187.2 699.4h.1M1184.2 683.0h.1M1180.2 690.4h.1M1205.9 693.1h.1M1132.8 714.6h.1M1160.9 685.9h.1M1179.4 680.1h.1M1183.7 686.5h.1M1170.1 678.3h.1M1181.3 694.8h.1M1153.3 688.3h.1M1215.8 691.9h.1M1186.3 694.8h.1M1130.8 687.8h.1M1178.1 689.2h.1M1188.4 686.1h.1M1192.0 701.5h.1M1182.0 688.8h.1M1192.4 691.1h.1M1175.9 701.5h.1M1186.6 700.2h.1M1154.7 708.9h.1M1124.5 693.6h.1M1189.9 672.8h.1M1159.7 708.2h.1M1190.0 686.0h.1M1179.0 698.3h.1M1122.3 688.0h.1M1166.8 686.2h.1M1117.9 694.4h.1M1166.0 681.0h.1M1184.7 694.1h.1M1165.9 708.4h.1M1183.9 702.4h.1M1181.1 703.2h.1M1183.9 688.3h.1M1176.6 683.7h.1M1133.3 691.5h.1M1180.4 692.7h.1M1171.4 705.2h.1M1131.5 717.5h.1M1176.6 682.9h.1M1155.8 689.0h.1M1133.6 716.3h.1M1165.5 686.1h.1M1172.9 714.1h.1M1184.6 695.2h.1M1172.0 687.0h.1M1164.5 679.7h.1M1117.7 697.9h.1M1164.1 684.8h.1M1160.3 686.7h.1M1178.8 687.8h.1M1234.4 692.3h.1M1127.6 716.2h.1M1118.5 716.5h.1M1190.5 697.0h.1M1184.5 685.5h.1M1195.7 687.7h.1M1188.6 687.8h.1M1183.9 685.1h.1M1123.3 712.9h.1M1178.9 700.4h.1M1188.2 690.1h.1M1176.1 682.1h.1M1201.0 686.4h.1M1171.9 705.1h.1M1112.6 690.0h.1M1179.1 700.4h.1M1180.0 697.1h.1M1194.9 683.3h.1M1193.5 691.8h.1M1192.1 684.5h.1M1177.7 688.4h.1M1184.8 700.9h.1M1172.4 705.4h.1M1204.4 689.5h.1M1205.9 685.7h.1M1134.3 714.8h.1M1158.1 681.8h.1M1164.1 683.9h.1M1147.8 715.6h.1M1115.6 721.5h.1M1198.9 681.7h.1M1188.3 689.6h.1M1184.4 695.6h.1M1155.7 687.2h.1M1179.3 702.3h.1M1188.5 689.1h.1M1150.5 689.7h.1M1149.6 709.5h.1M1139.0 691.4h.1M1187.0 690.4h.1M1197.7 707.2h.1M1154.9 689.3h.1M1134.2 690.6h.1M1161.7 684.9h.1M1138.2 691.3h.1M1168.9 687.1h.1M1147.6 691.4h.1M1185.0 705.2h.1M1137.0 691.1h.1M1194.1 688.8h.1M1175.6 703.1h.1M1187.2 684.8h.1M1184.2 690.7h.1M1197.6 687.4h.1M1182.7 678.6h.1M1210.2 695.5h.1M1179.7 688.9h.1M1174.6 687.8h.1M1200.8 676.4h.1M1170.5 686.6h.1M1214.1 689.0h.1M1189.3 686.6h.1M1178.3 690.3h.1M1166.1 687.1h.1M1104.9 723.8h.1M1172.1 682.5h.1M1196.7 686.2h.1M1197.0 688.9h.1M1169.2 708.2h.1M1161.2 687.9h.1M1150.9 685.6h.1M1204.9 691.8h.1M1167.2 680.1h.1M1151.6 713.8h.1M1176.5 700.8h.1M1191.9 700.0h.1M1161.7 687.9h.1M1165.1 684.1h.1M1189.4 696.9h.1M1184.7 693.4h.1M1202.7 698.7h.1M1176.7 689.5h.1M1185.4 686.6h.1M1143.1 713.7h.1M1149.9 713.4h.1M1200.9 702.2h.1M1182.6 691.9h.1M1154.2 718.9h.1M1148.2 689.3h.1M1219.7 690.4h.1M1146.7 691.6h.1M1182.2 691.0h.1M1162.5 708.6h.1M1187.9 701.9h.1M1170.0 683.8h.1M1192.5 687.9h.1M1183.4 683.3h.1M1187.8 685.8h.1M1181.9 677.4h.1M1176.0 682.6h.1M1183.3 675.5h.1M1192.1 673.0h.1M1180.8 690.4h.1M1177.4 690.7h.1M1181.4 689.7h.1M1184.6 677.0h.1M1192.7 671.5h.1M1182.6 692.4h.1M1178.7 689.0h.1M1178.7 688.3h.1M1179.1 685.4h.1M1199.1 678.8h.1M1194.3 686.0h.1M1178.3 683.0h.1M1179.9 675.7h.1M1177.1 685.6h.1M1177.4 679.9h.1M1175.8 677.0h.1M1186.8 683.5h.1M1196.0 678.3h.1M1181.1 674.0h.1M1193.0 672.2h.1M1185.1 679.4h.1M1189.5 694.5h.1M1189.8 683.8h.1M1194.7 684.3h.1M1191.6 678.9h.1M1184.9 675.5h.1M1180.3 700.0h.1M1188.4 683.2h.1M1192.5 681.1h.1M1180.1 692.2h.1M1187.9 683.8h.1M1188.2 672.0h.1M1186.4 673.1h.1M1172.4 679.5h.1M1183.7 686.6h.1M1186.5 674.8h.1M1173.3 686.0h.1M1187.6 681.1h.1M1179.5 685.1h.1M1198.7 684.5h.1M1180.5 684.9h.1M1186.9 686.0h.1M1189.0 686.3h.1M1175.0 677.3h.1M1178.7 676.0h.1M1182.6 687.0h.1M1190.9 675.6h.1M1176.0 680.3h.1M1183.1 689.7h.1M1180.3 688.4h.1M1180.2 682.7h.1M1189.9 684.4h.1M1173.8 669.8h.1M1181.3 684.5h.1M1182.7 691.2h.1M1184.2 688.2h.1M1189.6 680.5h.1M1184.9 691.6h.1M1193.4 682.4h.1M1199.3 672.2h.1M1183.9 685.0h.1M1197.5 681.0h.1M1179.9 682.1h.1M1179.9 664.0h.1M1194.1 692.5h.1M1176.8 685.3h.1M1182.7 668.6h.1M1200.6 666.5h.1M1190.4 681.7h.1M1170.1 677.9h.1M1179.5 689.3h.1M1178.3 685.6h.1M1190.0 689.8h.1M1193.7 671.9h.1M1191.1 679.9h.1M1204.2 682.2h.1M1188.4 686.2h.1M1186.5 678.7h.1M1195.8 675.4h.1M1185.3 683.7h.1M1190.2 667.0h.1M1195.2 680.4h.1M1178.9 689.8h.1M1179.9 680.8h.1M1180.8 680.5h.1M1182.5 685.4h.1M1189.8 688.7h.1M1177.1 682.8h.1M1193.5 675.5h.1M1187.5 677.9h.1M1190.3 679.6h.1M1192.4 682.8h.1M1172.8 682.7h.1M1183.9 668.2h.1M1178.6 684.9h.1M1201.9 683.2h.1M1170.6 685.0h.1M1195.2 682.2h.1M1178.2 687.9h.1M1181.0 677.4h.1M1190.6 681.4h.1M1174.0 684.3h.1M1179.3 683.0h.1M1187.9 679.0h.1M1170.5 683.1h.1M1191.4 690.0h.1M1192.0 681.6h.1M1199.5 684.4h.1M1184.4 675.9h.1M1194.6 696.2h.1M1194.0 681.9h.1M1185.9 684.7h.1M1186.7 677.6h.1M1184.4 683.7h.1M1182.2 694.6h.1M1177.8 689.3h.1M1192.3 696.3h.1M1181.5 682.6h.1M1192.1 668.2h.1M1194.9 673.8h.1M1194.8 686.8h.1M1202.5 681.6h.1M1181.4 677.0h.1M1168.2 686.9h.1M1182.3 671.6h.1M1186.9 686.3h.1M1181.7 678.1h.1M1182.4 682.1h.1M1189.7 686.0h.1M1191.4 688.7h.1M1187.2 677.7h.1M1185.2 691.2h.1M1182.5 688.5h.1M1185.3 675.9h.1M1182.8 686.5h.1M1180.5 683.1h.1M1192.8 675.5h.1M1197.4 682.2h.1M1197.3 678.6h.1M1179.5 677.1h.1M1183.6 692.2h.1M1187.8 686.2h.1M1191.3 682.8h.1M1184.3 687.7h.1M1159.4 687.7h.1M1187.1 682.6h.1M1178.7 680.7h.1M1183.2 696.3h.1M1180.9 682.0h.1M1184.9 693.9h.1M1181.4 683.3h.1M1184.3 683.2h.1M1179.1 692.5h.1M1190.1 684.1h.1M1176.3 676.9h.1M1174.1 684.3h.1M1176.5 685.6h.1M1191.0 681.8h.1M1183.3 680.0h.1M1174.9 674.6h.1M1184.1 683.3h.1M1179.9 684.7h.1M1179.2 681.6h.1M1184.6 675.1h.1M1185.0 682.0h.1M1183.9 683.8h.1M1182.2 681.9h.1M1184.3 690.6h.1M1188.4 679.8h.1M1183.2 684.8h.1M1183.5 673.6h.1M1200.5 690.3h.1M1175.0 675.1h.1M1190.4 681.5h.1M1193.1 677.5h.1M1191.9 678.2h.1M1189.3 681.3h.1M1179.0 675.5h.1M1188.2 692.1h.1M1195.9 679.5h.1M1185.8 692.0h.1M1190.4 683.5h.1M1194.1 682.9h.1M1192.9 683.8h.1M1189.3 692.1h.1M1191.8 681.3h.1M1187.2 677.2h.1M1180.5 684.2h.1M1177.9 683.8h.1M1179.1 692.5h.1M1187.3 682.1h.1M1179.1 675.9h.1M1198.9 680.6h.1M1177.8 687.5h.1M1202.1 680.9h.1M1179.5 688.7h.1M1169.9 684.4h.1M1189.2 682.8h.1M1193.3 673.7h.1M1182.0 678.8h.1M1192.5 690.5h.1M1182.8 668.8h.1M1177.7 684.1h.1M1183.1 680.6h.1M1192.9 684.3h.1M1184.7 691.7h.1M1195.9 671.6h.1M1165.9 675.4h.1M1182.6 697.9h.1M1178.3 681.2h.1M1177.9 685.4h.1M1180.4 683.5h.1M1187.8 679.0h.1M1198.0 676.8h.1M1169.9 685.1h.1M1180.1 690.0h.1M1182.3 679.4h.1M1176.9 681.9h.1M1181.5 693.1h.1M1185.1 693.3h.1M1188.4 685.7h.1M1180.6 691.7h.1M1177.8 673.0h.1M1196.8 677.8h.1M1183.5 683.6h.1M1197.3 682.7h.1M1201.5 681.3h.1M1185.3 683.2h.1M1192.1 690.0h.1M1175.2 685.8h.1M1188.0 677.5h.1M1181.6 692.0h.1M1188.0 680.7h.1M1192.4 691.5h.1M1178.7 699.0h.1M1198.2 682.9h.1M1206.2 672.9h.1M1177.7 688.7h.1M1182.8 682.1h.1M1184.1 699.6h.1M1185.7 685.2h.1M1186.2 686.2h.1M1188.2 683.6h.1M1190.7 680.5h.1M1185.1 674.4h.1M1179.1 690.4h.1M1180.1 678.6h.1M1177.3 673.8h.1M1188.1 678.1h.1M1195.1 676.6h.1M1188.4 685.6h.1M1179.0 682.0h.1M1186.2 685.6h.1M1178.5 680.9h.1M1179.4 672.9h.1M1183.2 692.4h.1M1187.5 681.8h.1M1176.9 684.3h.1M1172.8 685.1h.1M1187.6 686.3h.1M1183.3 674.8h.1M1188.3 682.9h.1M1198.1 686.4h.1M1197.7 692.6h.1M1191.3 687.1h.1M1191.5 673.1h.1M1187.7 672.1h.1M1193.1 677.3h.1M1190.6 694.2h.1M1197.4 675.1h.1M1198.5 682.5h.1M1179.5 690.7h.1M1197.2 692.0h.1M1196.1 677.2h.1M1201.6 672.8h.1M1179.4 682.3h.1M1188.6 683.9h.1M1189.0 684.7h.1M1178.8 688.6h.1M1185.6 688.3h.1M1186.6 684.8h.1M1173.3 687.4h.1M1186.6 682.5h.1M1179.6 684.8h.1M1179.3 689.4h.1M1178.9 688.1h.1M1196.2 690.4h.1M1192.7 681.0h.1M1179.2 680.6h.1M1182.1 683.7h.1M1163.4 684.7h.1M1183.6 683.2h.1M1197.8 679.1h.1M1186.7 679.3h.1M1196.6 686.4h.1M1185.9 684.3h.1M1177.3 683.1h.1M1186.8 688.5h.1M1195.7 682.5h.1M1190.1 679.8h.1M1179.3 689.9h.1M1176.0 682.6h.1M1193.0 687.0h.1M1182.5 674.0h.1M1195.6 675.4h.1M1174.3 681.4h.1M1179.3 674.5h.1M1181.1 685.7h.1M1177.9 678.5h.1M1186.0 685.4h.1M1195.5 665.3h.1M1188.3 677.7h.1M1182.4 685.2h.1M1178.2 684.8h.1M1195.6 681.7h.1M1179.7 676.9h.1M1170.4 680.2h.1M1191.8 689.4h.1M1172.9 680.4h.1M1193.9 690.1h.1M1199.5 679.2h.1M1179.5 692.7h.1M1186.4 681.6h.1M1178.9 680.4h.1M1181.9 684.7h.1M1192.7 679.2h.1M1175.5 680.6h.1M1196.2 681.0h.1M1178.0 682.7h.1M1182.7 687.4h.1M1190.4 690.8h.1M1190.3 686.9h.1M1183.8 667.9h.1M1196.2 679.7h.1M1190.6 681.0h.1M1196.0 694.5h.1M1188.2 680.1h.1M1176.1 686.6h.1M1188.4 679.4h.1M1194.4 677.1h.1M1179.1 682.1h.1M1194.6 690.6h.1M1192.6 681.8h.1M1187.1 686.2h.1M1190.0 689.7h.1M1173.2 680.8h.1M1185.1 694.8h.1M1187.6 679.8h.1M1198.4 678.5h.1M1175.8 685.0h.1M1193.0 674.3h.1M1181.9 682.0h.1M1179.7 689.7h.1M1183.0 686.2h.1M1191.4 687.8h.1M1173.8 687.2h.1M1179.7 676.9h.1M1182.1 678.5h.1M1187.4 679.5h.1M1190.3 688.0h.1M1187.5 687.6h.1M1193.5 684.7h.1M1190.0 684.9h.1M1180.8 680.8h.1M1180.5 682.4h.1M1176.9 673.9h.1M1182.7 679.5h.1M1179.1 688.5h.1M1191.3 681.8h.1M1183.4 679.8h.1M1193.5 692.9h.1M1178.1 685.1h.1M1184.6 676.9h.1M1188.1 690.6h.1M1169.8 687.2h.1M1176.8 700.9h.1M1182.4 675.7h.1M1186.5 681.1h.1M1187.8 689.1h.1M1192.0 683.8h.1M1192.8 685.4h.1M1179.9 690.3h.1M1181.5 683.2h.1M1187.5 680.0h.1M1189.9 683.0h.1M1181.2 691.0h.1M1197.3 681.7h.1M1185.5 677.8h.1M1184.9 680.1h.1M1191.6 696.3h.1M1189.3 685.9h.1M1174.8 680.8h.1M1179.6 687.7h.1M1190.2 683.6h.1M1187.6 679.9h.1M1178.5 679.4h.1M1217.0 675.2h.1M1179.8 689.1h.1M1199.8 677.7h.1M1188.6 677.9h.1M1188.4 676.9h.1M1185.7 678.4h.1M1199.3 688.3h.1M1193.9 679.3h.1M1185.4 685.6h.1M1177.3 682.3h.1M1183.7 689.6h.1M1183.4 687.6h.1M1175.6 689.5h.1M1187.1 687.4h.1M1184.5 686.7h.1M1175.6 680.7h.1M1185.9 678.6h.1M1174.5 682.4h.1M1180.2 690.2h.1M1184.5 668.0h.1M1178.6 689.7h.1M1190.8 678.3h.1M1187.2 691.8h.1M1184.6 688.9h.1M1180.7 689.3h.1M1179.6 674.0h.1M1180.4 682.5h.1M1183.2 676.9h.1M1189.6 681.4h.1M1186.0 684.9h.1M1191.5 676.9h.1M1174.6 684.6h.1M1184.0 684.6h.1M1185.4 680.6h.1M1185.0 679.9h.1M1203.5 688.5h.1M1180.6 682.7h.1M1187.5 677.1h.1M1183.3 684.4h.1M1184.5 683.5h.1M1190.2 694.1h.1M1176.1 680.0h.1M1206.5 683.7h.1M1181.1 688.5h.1M1187.3 678.3h.1M1192.8 673.0h.1M1194.9 687.6h.1M1174.1 679.4h.1M1177.9 682.2h.1M1199.0 684.8h.1M1168.3 677.2h.1M1182.3 679.6h.1M1197.1 685.3h.1M1177.0 685.4h.1M1179.2 691.8h.1M1174.2 676.2h.1M1184.9 675.3h.1M1178.3 691.2h.1M1177.4 683.6h.1M1186.1 668.8h.1M1198.5 691.8h.1M1180.9 685.0h.1M1179.2 691.9h.1M1186.4 682.7h.1M1182.2 680.4h.1M1188.8 680.6h.1M1179.4 672.1h.1M1183.7 677.7h.1M1188.2 679.7h.1M1195.3 677.8h.1M1183.7 689.8h.1M1147.0 689.0h.1M1170.7 709.7h.1M1150.3 711.9h.1M1147.0 723.4h.1M1177.5 702.6h.1M1163.7 709.8h.1M1202.5 687.3h.1M1196.7 688.7h.1M1162.2 685.7h.1M1176.5 689.9h.1M1200.6 707.4h.1M1194.5 688.9h.1M1203.5 678.9h.1M1186.9 694.5h.1M1191.6 693.6h.1M1180.7 692.2h.1M1205.9 704.6h.1M1146.7 713.0h.1M1213.1 689.7h.1M1132.6 714.2h.1M1183.0 696.4h.1M1157.9 720.6h.1M1190.1 689.7h.1M1190.1 685.0h.1M1208.2 689.8h.1M1145.5 690.7h.1M1160.3 710.8h.1M1152.3 719.4h.1M1178.3 710.6h.1M1195.6 679.6h.1M1209.4 697.7h.1M1220.2 686.4h.1M1165.5 684.6h.1M1181.3 702.4h.1M1071.2 722.9h.1M1128.9 729.9h.1M1181.5 693.9h.1M1236.3 670.4h.1M1170.1 713.2h.1M1181.1 684.7h.1M1183.6 706.6h.1M1205.4 684.8h.1M1168.5 709.7h.1M1178.8 684.3h.1M1174.0 687.8h.1M1154.8 710.1h.1" stroke="#000" stroke-width="1.55" stroke-linecap="square" fill="none" opacity="0.92"/>
<path d="M1205.0 671.8h.1M1203.1 671.7h.1M1208.4 650.7h.1M1197.5 674.0h.1M1221.6 650.5h.1M1212.3 648.1h.1M1196.1 667.4h.1M1201.6 657.2h.1M1222.3 654.1h.1M1212.3 644.6h.1M1209.0 639.0h.1M1214.2 652.3h.1M1209.2 662.7h.1M1221.4 634.3h.1M1211.6 655.1h.1M1209.1 657.6h.1M1213.9 633.2h.1M1201.1 677.0h.1M1206.0 670.3h.1M1225.7 637.3h.1M1212.3 635.8h.1M1216.9 651.6h.1M1194.7 656.8h.1M1215.9 655.6h.1M1209.4 661.9h.1M1195.7 655.8h.1M1217.3 628.4h.1M1211.5 638.9h.1M1202.9 651.2h.1M1220.2 656.9h.1M1213.2 643.4h.1M1190.5 661.0h.1M1214.2 651.8h.1M1208.6 660.3h.1M1201.6 660.1h.1M1210.5 644.2h.1M1213.8 634.5h.1M1223.8 628.9h.1M1201.0 662.1h.1M1196.7 666.8h.1M1219.2 643.0h.1M1206.1 658.6h.1M1206.4 654.8h.1M1219.9 632.2h.1M1191.5 679.5h.1M1224.7 624.1h.1M1240.1 617.6h.1M1242.7 619.3h.1M1246.6 619.0h.1M1237.2 618.4h.1" stroke="#555" stroke-width="1.5" stroke-linecap="square" fill="none" opacity="0.75"/>
<line x1="1124.8" y1="467.6" x2="1124.8" y2="739.6" stroke="#111" stroke-width="1.7"/>
<line x1="1064.0" y1="682.9" x2="1347.5" y2="682.9" stroke="#222" stroke-width="1.4"/>
<text x="1065.0" y="478.6" font-family='"Liberation Sans", sans-serif' font-size="12.2" font-weight="normal" text-anchor="start" fill="#15152a" textLength="25.0" lengthAdjust="spacingAndGlyphs" stroke="#15152a" stroke-width="0.3">0.01</text>
<text x="1322.1" y="478.6" font-family='"Liberation Sans", sans-serif' font-size="12.2" font-weight="normal" text-anchor="start" fill="#15152a" textLength="25.0" lengthAdjust="spacingAndGlyphs" stroke="#15152a" stroke-width="0.3">1.66</text>
<text x="1065.0" y="736.4" font-family='"Liberation Sans", sans-serif' font-size="12.2" font-weight="normal" text-anchor="start" fill="#15152a" textLength="31.4" lengthAdjust="spacingAndGlyphs" stroke="#15152a" stroke-width="0.3">59.89</text>
<text x="1315.8" y="736.4" font-family='"Liberation Sans", sans-serif' font-size="12.2" font-weight="normal" text-anchor="start" fill="#15152a" textLength="31.4" lengthAdjust="spacingAndGlyphs" stroke="#15152a" stroke-width="0.3">38.44</text>
<text x="1201.0" y="454.4" font-family='"Liberation Serif", serif' font-size="17.8" font-weight="bold" text-anchor="middle" fill="#000" textLength="70.5" lengthAdjust="spacingAndGlyphs">Cisplatin</text>
</g>
<g>
<rect x="736.5" y="830.9" width="285.0" height="274.3" fill="#fff" stroke="#b4b4b4" stroke-width="1.6"/>
<path d="M747.0 1105.2v4.5M771.5 1105.2v4.5M799.2 1105.2v4.5M867.2 1105.2v4.5M933.6 1105.2v4.5M997.3 1105.2v4.5M736.5 857.4h-4.5M736.5 917.5h-4.5M736.5 980.0h-4.5M736.5 1045.3h-4.5M736.5 1072.1h-4.5M736.5 1099.2h-4.5M819.7 1105.2v2.4M831.6 1105.2v2.4M840.1 1105.2v2.4M846.7 1105.2v2.4M852.1 1105.2v2.4M856.7 1105.2v2.4M860.6 1105.2v2.4M864.1 1105.2v2.4M887.2 1105.2v2.4M898.9 1105.2v2.4M907.2 1105.2v2.4M913.6 1105.2v2.4M918.9 1105.2v2.4M923.3 1105.2v2.4M927.2 1105.2v2.4M930.6 1105.2v2.4M952.8 1105.2v2.4M964.0 1105.2v2.4M972.0 1105.2v2.4M978.1 1105.2v2.4M983.2 1105.2v2.4M987.4 1105.2v2.4M991.1 1105.2v2.4M994.4 1105.2v2.4M1004.6 1105.2v2.4M1010.6 1105.2v2.4M774.3 1105.2v2.4M777.0 1105.2v2.4M779.8 1105.2v2.4M782.6 1105.2v2.4M785.4 1105.2v2.4M788.1 1105.2v2.4M790.9 1105.2v2.4M793.7 1105.2v2.4M796.4 1105.2v2.4M769.0 1105.2v2.4M766.6 1105.2v2.4M764.1 1105.2v2.4M761.7 1105.2v2.4M759.2 1105.2v2.4M756.8 1105.2v2.4M754.4 1105.2v2.4M751.9 1105.2v2.4M749.5 1105.2v2.4M736.5 1025.6h-2.4M736.5 1014.1h-2.4M736.5 1006.0h-2.4M736.5 999.7h-2.4M736.5 994.5h-2.4M736.5 990.1h-2.4M736.5 986.3h-2.4M736.5 983.0h-2.4M736.5 961.2h-2.4M736.5 950.2h-2.4M736.5 942.4h-2.4M736.5 936.3h-2.4M736.5 931.4h-2.4M736.5 927.2h-2.4M736.5 923.6h-2.4M736.5 920.4h-2.4M736.5 899.4h-2.4M736.5 888.8h-2.4M736.5 881.3h-2.4M736.5 875.5h-2.4M736.5 870.7h-2.4M736.5 866.7h-2.4M736.5 863.2h-2.4M736.5 860.2h-2.4M736.5 849.4h-2.4M736.5 842.8h-2.4M736.5 1069.4h-2.4M736.5 1066.7h-2.4M736.5 1064.1h-2.4M736.5 1061.4h-2.4M736.5 1058.7h-2.4M736.5 1056.0h-2.4M736.5 1053.3h-2.4M736.5 1050.7h-2.4M736.5 1048.0h-2.4M736.5 1074.8h-2.4M736.5 1077.5h-2.4M736.5 1080.2h-2.4M736.5 1082.9h-2.4M736.5 1085.7h-2.4M736.5 1088.4h-2.4M736.5 1091.1h-2.4M736.5 1093.8h-2.4M736.5 1096.5h-2.4" stroke="#a8a8a8" stroke-width="0.9" fill="none"/>
<text x="746.5" y="1119.0" font-family='"Liberation Sans", sans-serif' font-size="9.6" stroke="#101028" stroke-width="0.25" text-anchor="middle" fill="#101028">-10<tspan dy="-4.2" font-size="5.6">2</tspan></text>
<text x="772.7" y="1119.0" font-family='"Liberation Sans", sans-serif' font-size="9.6" font-weight="normal" text-anchor="middle" fill="#101028" stroke="#101028" stroke-width="0.25">0</text>
<text x="800.4" y="1119.0" font-family='"Liberation Sans", sans-serif' font-size="9.6" stroke="#101028" stroke-width="0.25" text-anchor="middle" fill="#101028">10<tspan dy="-4.2" font-size="5.6">2</tspan></text>
<text x="868.4" y="1119.0" font-family='"Liberation Sans", sans-serif' font-size="9.6" stroke="#101028" stroke-width="0.25" text-anchor="middle" fill="#101028">10<tspan dy="-4.2" font-size="5.6">3</tspan></text>
<text x="934.8" y="1119.0" font-family='"Liberation Sans", sans-serif' font-size="9.6" stroke="#101028" stroke-width="0.25" text-anchor="middle" fill="#101028">10<tspan dy="-4.2" font-size="5.6">4</tspan></text>
<text x="998.5" y="1119.0" font-family='"Liberation Sans", sans-serif' font-size="9.6" stroke="#101028" stroke-width="0.25" text-anchor="middle" fill="#101028">10<tspan dy="-4.2" font-size="5.6">5</tspan></text>
<text x="732.3" y="861.0" font-family='"Liberation Sans", sans-serif' font-size="9.6" stroke="#101028" stroke-width="0.25" text-anchor="end" fill="#101028">10<tspan dy="-4.2" font-size="5.6">5</tspan></text>
<text x="732.3" y="921.1" font-family='"Liberation Sans", sans-serif' font-size="9.6" stroke="#101028" stroke-width="0.25" text-anchor="end" fill="#101028">10<tspan dy="-4.2" font-size="5.6">4</tspan></text>
<text x="732.3" y="983.6" font-family='"Liberation Sans", sans-serif' font-size="9.6" stroke="#101028" stroke-width="0.25" text-anchor="end" fill="#101028">10<tspan dy="-4.2" font-size="5.6">3</tspan></text>
<text x="732.3" y="1048.9" font-family='"Liberation Sans", sans-serif' font-size="9.6" stroke="#101028" stroke-width="0.25" text-anchor="end" fill="#101028">10<tspan dy="-4.2" font-size="5.6">2</tspan></text>
<text x="732.3" y="1075.7" font-family='"Liberation Sans", sans-serif' font-size="9.6" font-weight="normal" text-anchor="end" fill="#101028" stroke="#101028" stroke-width="0.25">0</text>
<text x="732.3" y="1102.8" font-family='"Liberation Sans", sans-serif' font-size="9.6" stroke="#101028" stroke-width="0.25" text-anchor="end" fill="#101028">-10<tspan dy="-4.2" font-size="5.6">2</tspan></text>
<ellipse cx="775.3" cy="1070.3" rx="19.0" ry="15.5" transform="rotate(0 775.3 1070.3)" fill="#050505" filter="url(#rag)"/>
<ellipse cx="806.5" cy="1067.4" rx="22.0" ry="12.0" transform="rotate(-5 806.5 1067.4)" fill="#050505" filter="url(#rag)"/>
<ellipse cx="831.5" cy="1063.4" rx="20.0" ry="10.0" transform="rotate(-10 831.5 1063.4)" fill="#050505" filter="url(#rag)"/>
<path d="M804.7 1078.2h.1M813.9 1074.9h.1M793.1 1069.4h.1M791.0 1067.1h.1M810.8 1057.7h.1M790.3 1068.9h.1M804.4 1060.4h.1M799.4 1068.7h.1M796.3 1068.0h.1M817.2 1075.8h.1M820.0 1068.9h.1M800.4 1074.2h.1M816.8 1067.0h.1M802.3 1058.3h.1M815.6 1071.8h.1M814.7 1069.6h.1M800.3 1069.8h.1M814.7 1060.4h.1M819.3 1071.3h.1M813.1 1065.1h.1M812.9 1058.1h.1M811.0 1068.5h.1M795.8 1063.5h.1M802.2 1072.1h.1M798.6 1075.6h.1M821.9 1061.7h.1M811.2 1063.6h.1M812.1 1061.1h.1M810.7 1074.3h.1M825.4 1068.1h.1M827.1 1057.5h.1M817.3 1062.5h.1M849.1 1060.3h.1M814.4 1063.6h.1M836.8 1064.4h.1M821.8 1066.4h.1M819.8 1059.6h.1M833.0 1063.0h.1M840.5 1064.2h.1M824.9 1069.1h.1M829.8 1057.7h.1M848.8 1062.0h.1M841.2 1064.9h.1M827.2 1068.6h.1M840.3 1062.5h.1M833.7 1069.8h.1M836.0 1066.5h.1M817.2 1063.4h.1M825.6 1067.5h.1M828.3 1071.3h.1M839.8 1068.5h.1" stroke="#fff" stroke-width="1.1" stroke-linecap="square" fill="none" opacity="0.75"/>
<path d="M788.2 1060.6h.1M757.5 1078.0h.1M782.0 1086.2h.1M783.0 1051.4h.1M767.2 1089.5h.1M788.6 1056.7h.1M793.1 1078.7h.1M797.4 1080.4h.1M768.3 1089.7h.1M767.6 1053.8h.1M786.3 1053.6h.1M779.0 1085.1h.1M744.4 1081.2h.1M777.7 1084.6h.1M793.6 1059.5h.1M767.6 1086.5h.1M791.7 1077.5h.1M791.9 1088.5h.1M757.7 1071.7h.1M778.5 1048.5h.1M779.0 1084.1h.1M755.0 1059.9h.1M756.4 1068.8h.1M762.5 1060.0h.1M783.4 1055.0h.1M754.7 1063.8h.1M757.2 1078.7h.1M777.9 1085.3h.1M767.7 1091.7h.1M754.8 1061.3h.1M764.8 1094.8h.1M746.3 1083.5h.1M798.9 1057.3h.1M775.4 1087.6h.1M758.5 1075.6h.1M777.3 1085.5h.1M767.1 1085.1h.1M767.8 1057.1h.1M773.7 1084.4h.1M792.0 1059.9h.1M753.9 1088.5h.1M789.1 1060.8h.1M779.9 1055.0h.1M754.3 1062.5h.1M758.3 1065.0h.1M767.3 1056.0h.1M788.4 1051.3h.1M782.8 1053.6h.1M756.2 1072.4h.1M790.6 1079.5h.1M784.6 1082.5h.1M788.1 1045.8h.1M747.9 1072.2h.1M778.1 1056.1h.1M781.1 1087.8h.1M756.1 1074.3h.1M763.2 1051.1h.1M762.2 1055.4h.1M758.0 1073.8h.1M757.2 1067.1h.1M756.8 1075.7h.1M757.9 1068.3h.1M781.1 1086.2h.1M755.8 1075.3h.1M774.9 1055.0h.1M753.6 1068.1h.1M761.1 1055.5h.1M783.3 1089.0h.1M769.0 1056.3h.1M781.6 1056.5h.1M757.1 1062.8h.1M793.5 1079.6h.1M759.5 1085.8h.1M767.2 1084.4h.1M770.5 1053.5h.1M777.6 1085.1h.1M785.6 1087.3h.1M765.2 1082.8h.1M753.5 1068.3h.1M779.7 1084.7h.1M768.4 1051.1h.1M757.6 1067.8h.1M784.4 1056.0h.1M754.4 1062.4h.1M778.7 1055.4h.1M781.1 1053.9h.1M776.0 1056.0h.1M755.7 1049.8h.1M754.7 1073.9h.1M781.6 1083.8h.1M790.5 1055.3h.1M783.1 1091.9h.1M756.5 1069.0h.1M767.1 1057.6h.1M757.1 1061.7h.1M793.7 1089.9h.1M755.1 1071.4h.1M766.3 1083.2h.1M758.0 1080.6h.1M792.2 1079.3h.1M767.5 1057.7h.1M765.8 1055.2h.1M754.1 1066.0h.1M803.1 1078.3h.1M760.2 1079.1h.1M755.7 1058.5h.1M789.1 1082.8h.1M752.0 1059.2h.1M764.0 1082.8h.1M763.3 1059.6h.1M781.9 1087.0h.1M779.7 1053.2h.1M782.6 1084.1h.1M771.2 1055.2h.1M757.2 1072.3h.1M758.3 1082.6h.1M791.7 1080.9h.1M771.2 1053.9h.1M779.8 1056.6h.1M783.9 1054.0h.1M793.6 1079.5h.1M787.3 1081.2h.1M791.7 1079.9h.1M784.5 1084.4h.1M792.1 1082.0h.1M793.3 1078.4h.1M762.5 1082.1h.1M769.9 1055.3h.1M786.7 1057.9h.1M753.6 1071.1h.1M768.3 1056.3h.1M766.6 1082.5h.1M755.5 1061.4h.1M781.4 1083.8h.1M756.8 1073.9h.1M770.9 1050.3h.1M777.0 1052.9h.1M777.6 1085.5h.1M757.5 1077.9h.1M746.9 1076.5h.1M759.3 1059.3h.1M785.8 1081.7h.1M776.3 1054.2h.1M789.2 1080.1h.1M770.3 1086.1h.1M758.7 1080.2h.1M777.8 1056.1h.1M767.9 1055.7h.1M793.3 1090.3h.1M759.3 1078.0h.1M785.2 1056.3h.1M777.6 1084.2h.1M766.8 1082.9h.1M771.2 1085.1h.1M780.8 1056.2h.1M766.3 1057.8h.1M770.8 1047.5h.1M792.6 1078.7h.1M762.5 1059.8h.1M770.1 1055.3h.1M759.2 1056.0h.1M793.5 1059.8h.1M762.9 1084.2h.1M751.4 1063.4h.1M769.8 1095.1h.1M755.0 1074.7h.1M774.4 1050.4h.1M795.7 1087.3h.1M759.9 1078.8h.1M772.5 1053.6h.1M766.3 1085.5h.1M766.7 1056.3h.1M773.5 1085.2h.1M786.8 1057.6h.1M787.2 1057.0h.1M793.4 1078.2h.1M757.4 1065.2h.1M774.4 1085.5h.1M774.4 1053.6h.1M751.5 1067.9h.1M768.3 1086.1h.1M784.9 1057.5h.1M773.6 1056.3h.1M750.5 1075.3h.1M788.1 1080.4h.1M789.6 1062.0h.1M777.7 1048.9h.1M777.0 1090.2h.1M758.0 1082.4h.1M749.5 1075.8h.1M774.9 1086.9h.1M788.6 1058.2h.1M755.5 1077.1h.1M761.6 1056.6h.1M761.3 1058.2h.1M773.8 1087.5h.1M776.9 1085.9h.1M772.8 1052.8h.1M759.3 1063.7h.1M774.1 1055.2h.1M777.4 1087.3h.1M786.5 1090.0h.1M780.7 1056.5h.1M790.2 1061.2h.1M757.8 1063.5h.1M763.9 1081.7h.1M768.1 1088.9h.1M792.9 1081.1h.1M761.5 1056.5h.1M756.4 1067.1h.1M757.5 1066.0h.1M766.7 1057.5h.1M784.7 1084.4h.1M762.0 1080.7h.1M780.2 1083.8h.1M780.8 1091.0h.1M757.4 1069.8h.1M772.9 1084.5h.1M770.8 1055.8h.1M787.2 1059.9h.1M785.9 1055.0h.1M769.3 1086.1h.1M784.0 1095.2h.1M770.8 1050.4h.1M780.2 1085.0h.1M762.5 1058.5h.1M779.0 1087.8h.1M753.0 1065.1h.1M788.3 1083.0h.1M751.7 1070.6h.1M788.4 1050.6h.1M783.0 1057.7h.1M785.7 1048.5h.1M775.1 1085.6h.1M779.3 1052.7h.1M768.2 1057.4h.1M757.7 1072.3h.1M776.7 1090.5h.1M749.9 1068.6h.1M770.7 1084.9h.1M772.3 1053.3h.1M789.9 1061.1h.1M794.5 1086.0h.1M778.4 1084.8h.1M787.9 1080.5h.1M783.0 1086.3h.1M765.6 1056.6h.1M757.3 1073.5h.1M795.0 1084.0h.1M783.8 1088.6h.1M756.5 1072.6h.1M791.6 1055.1h.1M763.2 1059.8h.1M778.2 1056.3h.1M782.7 1054.3h.1M786.0 1058.4h.1M791.1 1085.5h.1M770.9 1085.7h.1M781.2 1055.6h.1M782.2 1055.6h.1M768.2 1086.5h.1M781.1 1056.7h.1M750.8 1052.8h.1M760.8 1061.0h.1M761.8 1084.0h.1M820.1 1077.6h.1M778.6 1050.5h.1M788.2 1080.5h.1M786.2 1082.1h.1M751.6 1067.1h.1M779.9 1056.1h.1M790.6 1077.6h.1M753.0 1067.2h.1M748.6 1068.2h.1M799.2 1078.3h.1M763.2 1083.6h.1M760.2 1057.8h.1M802.5 1085.9h.1M788.2 1059.5h.1M753.9 1071.6h.1M775.3 1085.9h.1M760.1 1082.8h.1M869.4 1061.0h.1M822.0 1055.3h.1M853.8 1042.1h.1M796.5 1084.0h.1M817.9 1053.5h.1M820.4 1076.7h.1M843.5 1046.4h.1M860.7 1048.7h.1M853.9 1055.1h.1M851.2 1043.9h.1M822.4 1075.1h.1M829.5 1074.7h.1M820.8 1055.2h.1M795.1 1056.6h.1M842.0 1053.1h.1M836.6 1075.7h.1M882.3 1067.3h.1M841.0 1073.8h.1M857.1 1057.0h.1M864.8 1072.2h.1M842.0 1052.2h.1M877.6 1063.0h.1M882.4 1053.3h.1M848.0 1055.5h.1M853.8 1061.7h.1M791.7 1052.8h.1M861.0 1052.5h.1M788.6 1080.9h.1M864.9 1056.6h.1M847.8 1065.8h.1M849.0 1054.5h.1M848.8 1050.7h.1M846.9 1076.3h.1M870.5 1057.3h.1M811.8 1054.3h.1M820.5 1053.8h.1M851.5 1054.8h.1M838.3 1072.6h.1M820.2 1056.9h.1M874.9 1067.3h.1M858.1 1050.7h.1M849.7 1057.5h.1M888.2 1059.5h.1M846.9 1048.2h.1M862.1 1058.7h.1M859.1 1057.9h.1M825.1 1054.9h.1M873.2 1045.3h.1M855.1 1055.1h.1M850.2 1049.5h.1M853.8 1053.4h.1M833.6 1043.8h.1M857.7 1053.9h.1M820.1 1081.0h.1M883.9 1048.9h.1M826.7 1054.9h.1M857.1 1062.0h.1M798.4 1050.6h.1M853.0 1046.8h.1M831.9 1047.5h.1M873.0 1052.9h.1M866.4 1049.6h.1M841.8 1071.4h.1M863.9 1075.6h.1M832.2 1079.1h.1M858.7 1065.2h.1M834.5 1054.2h.1M848.2 1073.8h.1M845.5 1073.8h.1M824.2 1056.1h.1M860.1 1066.9h.1M840.6 1080.7h.1M853.7 1063.9h.1M820.6 1057.6h.1M874.1 1055.4h.1M816.0 1077.1h.1M873.0 1061.4h.1M859.2 1058.6h.1M795.0 1056.5h.1M887.8 1055.3h.1M825.0 1048.9h.1M832.7 1048.8h.1M825.6 1075.0h.1M821.6 1056.8h.1M815.4 1051.6h.1M814.0 1056.8h.1M853.8 1060.2h.1M868.9 1053.7h.1M826.5 1076.3h.1M827.2 1073.2h.1M861.1 1062.1h.1M853.2 1061.8h.1M857.2 1062.6h.1M820.5 1054.0h.1M833.0 1053.3h.1M824.5 1073.1h.1M859.9 1057.0h.1M795.0 1078.6h.1M890.7 1054.4h.1M840.1 1069.8h.1M877.2 1053.5h.1M844.7 1072.8h.1M824.1 1053.9h.1M849.0 1057.8h.1M815.3 1057.2h.1M859.2 1043.6h.1M854.2 1058.4h.1M834.6 1053.1h.1M852.5 1054.4h.1M865.9 1055.1h.1M847.6 1053.5h.1M854.8 1046.7h.1M853.7 1053.1h.1M850.6 1048.6h.1M821.7 1078.1h.1M846.5 1042.9h.1M822.7 1050.4h.1M847.8 1048.9h.1M873.5 1046.1h.1M856.4 1064.5h.1M845.4 1045.7h.1M851.3 1060.1h.1M819.5 1057.8h.1M866.6 1048.8h.1M756.8 1067.4h.1M840.5 1053.6h.1M860.5 1050.1h.1M825.8 1048.0h.1M870.7 1051.0h.1M855.0 1062.3h.1M834.1 1074.1h.1M855.1 1055.7h.1M819.1 1053.9h.1M805.5 1053.8h.1M825.2 1076.2h.1M832.7 1051.4h.1M848.9 1048.4h.1M853.5 1061.8h.1M886.8 1062.8h.1M877.7 1067.7h.1M840.2 1053.2h.1M853.2 1057.7h.1M820.2 1056.1h.1M812.1 1054.7h.1M848.8 1051.2h.1M843.5 1053.5h.1M852.3 1048.2h.1M835.5 1073.7h.1M849.3 1050.7h.1M789.4 1058.9h.1M826.8 1073.1h.1M846.6 1054.0h.1M827.0 1055.5h.1M842.2 1050.3h.1M876.5 1055.9h.1M833.5 1073.5h.1M823.5 1052.3h.1M854.2 1055.7h.1M801.9 1078.7h.1M871.9 1050.4h.1M851.2 1068.0h.1M790.0 1078.0h.1M877.8 1050.4h.1M844.4 1051.6h.1M821.4 1079.6h.1M862.8 1061.2h.1M855.3 1056.5h.1M819.2 1057.9h.1M852.5 1051.0h.1M858.3 1049.0h.1M853.9 1057.0h.1M791.0 1058.2h.1M851.8 1054.7h.1M836.4 1077.8h.1M826.1 1051.2h.1M860.8 1057.9h.1M816.3 1077.9h.1M815.2 1056.4h.1M836.0 1053.9h.1M818.5 1057.6h.1M842.1 1070.5h.1M826.4 1049.4h.1M820.4 1075.3h.1M864.4 1047.7h.1M845.9 1042.9h.1M812.5 1051.0h.1M830.6 1088.3h.1M836.9 1054.4h.1M846.4 1066.9h.1M846.9 1047.2h.1M826.2 1076.0h.1M852.2 1071.9h.1M813.4 1080.3h.1M870.8 1068.1h.1M843.2 1044.8h.1M824.7 1085.2h.1M794.9 1059.0h.1M843.4 1076.9h.1M839.0 1072.3h.1M842.7 1071.3h.1M831.1 1076.5h.1M854.0 1061.0h.1M868.3 1056.0h.1M858.9 1057.1h.1M851.5 1061.0h.1M817.8 1051.5h.1M836.4 1075.6h.1M856.3 1053.4h.1M812.2 1082.4h.1M869.6 1057.4h.1M854.8 1060.1h.1M877.6 1050.2h.1M817.7 1078.4h.1M826.7 1052.8h.1M823.4 1074.5h.1M790.2 1050.2h.1M852.8 1060.2h.1M857.8 1064.2h.1M854.9 1055.7h.1M824.5 1052.9h.1M820.2 1082.4h.1M881.2 1074.2h.1M837.4 1049.1h.1M859.3 1060.3h.1M794.4 1079.9h.1M853.6 1058.0h.1M837.2 1050.4h.1M855.1 1051.1h.1M848.9 1056.6h.1M878.4 1055.0h.1M819.8 1076.9h.1M901.6 1050.5h.1M812.1 1056.1h.1M851.9 1060.8h.1M850.7 1051.3h.1M817.6 1044.2h.1M830.2 1050.2h.1M866.1 1050.1h.1M847.4 1049.5h.1M787.2 1058.6h.1M857.1 1055.6h.1M849.9 1063.0h.1M796.8 1052.6h.1M844.3 1054.3h.1M846.4 1056.3h.1M849.5 1051.5h.1M898.1 1063.8h.1M851.0 1074.1h.1M834.2 1052.6h.1M873.1 1063.5h.1M852.1 1054.0h.1M850.3 1049.2h.1M870.3 1054.3h.1M840.9 1073.6h.1M817.1 1055.1h.1M868.2 1055.1h.1M796.6 1079.1h.1M849.4 1052.5h.1M807.3 1078.8h.1M857.5 1060.6h.1M819.1 1057.1h.1M832.4 1052.5h.1M876.4 1058.3h.1M789.1 1082.0h.1M856.4 1059.4h.1M816.7 1056.5h.1M845.9 1048.4h.1M865.9 1067.1h.1M852.5 1055.9h.1M819.2 1056.2h.1M822.3 1057.2h.1M824.3 1053.8h.1M886.0 1064.5h.1M862.2 1065.7h.1M849.2 1056.9h.1M822.6 1046.1h.1M847.4 1051.0h.1M821.3 1057.0h.1M832.4 1081.2h.1M856.7 1047.1h.1M813.6 1078.0h.1M845.1 1071.3h.1M859.8 1059.4h.1M837.5 1074.5h.1M823.7 1055.9h.1M822.0 1052.9h.1M841.1 1054.2h.1M836.7 1048.7h.1M849.3 1067.0h.1M851.8 1055.7h.1M881.1 1055.8h.1M821.6 1075.9h.1M790.5 1057.8h.1M841.3 1052.7h.1M871.0 1046.5h.1M857.6 1059.5h.1M870.1 1068.3h.1M844.2 1053.2h.1M816.8 1057.6h.1M845.9 1053.3h.1M863.5 1050.9h.1M803.4 1083.0h.1M851.4 1064.6h.1M843.2 1075.3h.1M850.8 1049.0h.1M878.7 1043.6h.1M787.7 1058.5h.1M833.7 1053.9h.1M808.6 1050.9h.1M853.6 1058.6h.1M831.1 1073.0h.1M853.2 1051.2h.1M850.5 1056.6h.1M819.7 1056.4h.1M788.9 1081.9h.1M821.0 1049.4h.1M857.6 1053.6h.1M809.6 1084.1h.1M838.5 1052.5h.1M888.6 1059.8h.1M884.6 1043.3h.1M857.6 1057.5h.1M837.6 1074.4h.1M824.5 1055.7h.1M834.0 1050.1h.1M879.7 1061.9h.1M822.8 1077.6h.1M809.7 1055.6h.1M792.4 1054.5h.1M862.2 1064.1h.1M789.9 1080.1h.1M832.9 1072.4h.1M814.6 1055.0h.1M800.5 1047.1h.1M827.7 1073.8h.1M813.4 1079.0h.1M859.0 1058.9h.1M813.2 1056.1h.1M819.3 1056.9h.1M857.9 1066.7h.1M829.7 1053.5h.1M799.3 1055.3h.1M847.3 1030.1h.1M793.4 1078.5h.1M858.4 1056.8h.1M794.2 1079.6h.1M807.4 1055.3h.1M867.8 1056.4h.1M832.6 1081.2h.1M857.7 1057.0h.1M819.6 1053.6h.1M854.9 1063.8h.1M803.4 1078.2h.1M816.4 1054.9h.1M828.2 1072.7h.1M850.7 1049.7h.1M860.6 1061.4h.1M888.9 1038.2h.1M873.0 1062.6h.1M857.4 1060.0h.1M824.7 1044.6h.1M850.0 1058.8h.1M859.7 1048.1h.1M818.2 1053.0h.1M820.5 1057.3h.1M835.2 1071.5h.1M859.9 1050.2h.1M857.9 1068.6h.1M849.2 1064.0h.1M865.9 1066.5h.1M819.1 1075.4h.1M852.6 1046.5h.1M849.5 1048.4h.1M793.1 1058.1h.1M881.4 1049.7h.1M839.3 1049.4h.1M825.6 1073.4h.1M815.3 1055.1h.1M809.2 1051.6h.1M820.1 1076.3h.1M869.4 1047.0h.1M815.8 1056.8h.1M828.9 1049.1h.1M821.4 1055.7h.1M857.1 1069.0h.1M823.7 1052.7h.1M888.0 1060.3h.1M878.8 1056.6h.1M789.6 1056.7h.1M905.8 1051.3h.1M836.3 1072.1h.1M851.3 1053.3h.1M859.2 1069.3h.1M856.0 1045.7h.1M866.8 1065.3h.1M851.9 1045.3h.1M844.0 1070.0h.1M857.8 1057.2h.1M839.9 1052.4h.1M844.8 1054.2h.1M854.7 1048.2h.1M865.8 1052.7h.1M853.6 1067.6h.1M775.5 1086.5h.1M821.6 1074.1h.1M856.2 1066.1h.1M850.5 1075.3h.1M874.4 1058.9h.1M821.9 1050.4h.1M843.0 1054.0h.1M850.6 1062.8h.1M873.2 1057.9h.1M827.9 1075.5h.1M864.6 1060.0h.1M795.0 1056.4h.1M838.6 1079.0h.1M813.2 1078.2h.1M861.0 1057.1h.1M798.0 1057.5h.1M833.0 1073.3h.1M850.6 1064.7h.1M827.4 1053.2h.1M864.0 1051.8h.1M871.0 1056.6h.1M791.1 1057.0h.1M833.0 1074.5h.1M819.3 1050.4h.1M889.3 1061.8h.1M870.6 1060.1h.1M810.8 1081.4h.1M848.4 1047.5h.1M843.1 1047.9h.1M824.4 1052.3h.1M864.4 1058.0h.1M822.5 1075.1h.1M788.7 1080.2h.1M838.0 1073.7h.1M847.9 1069.4h.1M831.1 1054.6h.1M794.8 1086.9h.1M853.3 1056.7h.1M853.9 1058.6h.1M839.6 1048.5h.1M847.3 1049.3h.1M873.0 1055.7h.1M842.9 1053.0h.1M857.4 1061.8h.1M821.7 1074.4h.1M871.7 1060.6h.1M876.4 1053.5h.1M848.1 1068.9h.1M839.0 1071.3h.1M790.6 1079.2h.1M860.9 1042.8h.1M821.6 1050.5h.1M874.0 1056.3h.1M851.0 1059.4h.1M857.4 1064.0h.1M796.3 1082.9h.1M829.4 1047.5h.1M859.4 1060.2h.1M833.7 1054.3h.1M832.5 1053.2h.1M847.5 1055.2h.1M845.0 1070.0h.1M808.7 1054.2h.1M856.0 1060.4h.1M800.9 1055.4h.1M802.2 1049.4h.1M840.4 1050.4h.1M851.3 1045.3h.1M792.7 1056.6h.1M789.2 1080.9h.1M813.9 1079.5h.1M855.5 1050.1h.1M845.4 1068.8h.1M854.6 1058.1h.1M842.4 1071.6h.1M825.8 1075.5h.1M856.9 1063.4h.1M851.8 1065.5h.1M849.6 1050.2h.1M823.4 1054.4h.1M811.4 1045.4h.1M868.7 1049.1h.1M782.9 1056.9h.1M846.6 1077.1h.1M856.2 1057.2h.1M789.7 1062.0h.1M839.3 1046.9h.1M827.4 1055.1h.1M819.8 1054.1h.1M826.4 1079.4h.1M823.5 1055.0h.1M838.4 1071.3h.1M863.9 1048.8h.1M831.9 1053.3h.1M848.7 1064.9h.1M855.2 1059.2h.1M843.2 1047.9h.1M822.9 1074.8h.1M790.0 1060.9h.1M845.4 1038.9h.1M838.4 1072.1h.1M824.4 1055.3h.1M856.0 1061.0h.1M849.6 1055.4h.1M853.1 1053.5h.1M847.8 1067.6h.1M879.6 1045.4h.1M847.4 1067.5h.1M782.7 1084.1h.1M854.3 1059.9h.1M854.4 1061.4h.1M838.7 1054.1h.1M864.3 1067.6h.1M850.3 1055.2h.1M827.7 1075.9h.1M849.4 1065.0h.1M850.2 1050.5h.1M869.9 1055.0h.1M862.4 1061.0h.1M835.5 1050.6h.1M845.6 1073.9h.1M875.8 1052.9h.1M862.1 1056.4h.1M828.5 1076.7h.1M754.2 1073.7h.1M808.1 1055.7h.1M790.5 1052.1h.1M858.9 1043.1h.1M850.4 1063.7h.1M846.7 1056.0h.1M862.5 1056.2h.1M810.1 1054.2h.1M834.6 1073.0h.1M856.1 1054.1h.1M843.4 1055.1h.1M793.6 1057.4h.1M842.9 1041.9h.1M840.4 1074.5h.1M847.0 1070.9h.1M815.3 1055.3h.1M793.0 1079.2h.1M847.8 1053.9h.1M849.5 1066.7h.1M842.8 1053.4h.1M840.1 1054.3h.1M821.5 1049.5h.1M866.1 1051.4h.1M803.4 1054.5h.1M857.4 1064.4h.1M862.6 1068.5h.1M832.5 1081.4h.1M786.0 1054.2h.1M849.3 1063.7h.1M826.6 1054.6h.1M846.7 1046.3h.1M812.8 1056.5h.1M844.2 1051.0h.1M845.0 1052.0h.1M825.5 1074.4h.1M824.5 1074.1h.1M825.2 1055.6h.1M807.5 1056.2h.1M831.0 1049.9h.1M846.6 1055.7h.1M865.0 1057.0h.1M857.6 1061.6h.1M859.1 1056.6h.1M820.8 1053.4h.1M869.0 1058.6h.1M845.8 1054.7h.1M837.2 1072.1h.1M878.0 1053.0h.1M827.0 1077.9h.1M836.6 1052.5h.1M855.0 1065.3h.1M813.1 1055.0h.1M825.5 1081.9h.1M867.0 1065.3h.1M853.5 1049.2h.1M843.1 1048.9h.1M881.0 1060.4h.1M767.5 1083.4h.1M905.0 1050.6h.1M860.7 1056.6h.1M869.2 1050.1h.1M840.0 1072.8h.1M818.9 1052.1h.1M821.8 1050.4h.1M820.6 1074.8h.1M840.6 1050.9h.1M853.0 1052.8h.1M831.2 1052.8h.1M831.0 1049.9h.1M855.3 1059.9h.1M866.2 1059.1h.1M855.2 1047.9h.1M832.0 1054.0h.1M842.6 1050.6h.1M821.6 1056.5h.1M838.3 1047.4h.1M849.0 1073.6h.1M835.3 1071.5h.1M811.9 1077.6h.1M851.4 1067.3h.1M857.1 1052.2h.1M867.6 1057.9h.1M863.4 1050.6h.1M847.3 1054.9h.1M863.1 1062.7h.1M846.8 1056.3h.1M850.9 1053.0h.1M788.2 1055.2h.1M840.3 1048.3h.1M870.5 1064.8h.1M862.4 1067.0h.1M861.0 1052.7h.1M846.8 1053.1h.1M821.7 1057.2h.1M839.7 1053.1h.1M850.8 1056.1h.1M846.3 1053.6h.1M802.8 1053.5h.1M879.2 1053.9h.1M865.9 1055.2h.1M859.8 1055.4h.1M852.0 1059.6h.1M853.4 1058.6h.1M848.7 1048.4h.1M850.4 1070.1h.1M791.5 1077.6h.1M842.7 1077.9h.1M850.5 1051.5h.1M849.8 1066.3h.1M823.4 1052.5h.1M857.7 1052.3h.1M790.5 1077.3h.1M863.9 1055.7h.1M860.5 1050.8h.1M855.6 1062.3h.1M834.0 1054.2h.1M843.6 1052.3h.1M870.1 1056.0h.1M852.7 1064.5h.1M856.6 1062.3h.1M852.3 1051.0h.1M834.6 1073.2h.1M894.5 1057.2h.1M842.0 1069.9h.1M874.2 1051.5h.1M822.8 1056.2h.1M818.0 1081.3h.1M835.7 1052.6h.1M880.3 1057.3h.1M826.7 1052.6h.1M889.9 1059.3h.1M825.1 1051.2h.1M864.9 1054.0h.1M808.4 1053.9h.1M788.5 1060.4h.1M820.4 1053.3h.1M800.0 1056.2h.1M849.0 1047.9h.1M850.6 1052.6h.1M842.8 1072.0h.1M824.8 1054.7h.1M800.4 1056.3h.1M876.4 1064.9h.1M850.9 1046.7h.1M786.7 1081.5h.1M861.3 1056.5h.1M853.1 1047.7h.1M851.8 1061.7h.1M792.1 1076.4h.1M822.5 1055.2h.1M829.0 1048.5h.1M850.5 1063.8h.1M846.9 1048.3h.1M837.5 1074.3h.1M829.1 1072.5h.1M827.6 1076.2h.1M799.2 1050.0h.1M867.0 1065.8h.1M833.6 1053.4h.1M850.8 1058.9h.1M828.4 1074.9h.1M809.5 1080.7h.1M847.2 1040.8h.1M850.9 1061.8h.1M850.8 1062.3h.1M815.4 1054.5h.1M860.1 1050.3h.1M846.4 1050.2h.1M831.5 1051.5h.1M814.2 1055.3h.1M838.3 1053.0h.1M833.2 1050.4h.1M855.4 1059.6h.1M850.9 1058.4h.1M833.8 1052.0h.1M824.1 1053.3h.1M866.7 1040.9h.1M832.5 1053.3h.1M803.3 1055.3h.1M851.0 1051.0h.1M872.2 1046.4h.1M818.9 1057.3h.1M863.6 1053.9h.1M838.6 1053.9h.1M843.8 1080.0h.1M884.7 1052.3h.1M809.7 1055.3h.1M795.3 1077.5h.1M807.1 1054.6h.1M850.9 1065.8h.1M854.3 1062.0h.1M791.4 1059.5h.1M834.6 1050.3h.1M859.8 1068.2h.1M839.0 1052.5h.1M817.1 1053.5h.1M844.2 1052.5h.1M857.7 1066.6h.1M824.7 1076.1h.1M850.0 1063.6h.1M875.3 1051.6h.1M898.7 1057.6h.1M874.7 1052.7h.1M871.2 1058.8h.1M830.1 1083.3h.1M861.5 1060.8h.1M810.5 1055.6h.1M796.0 1057.3h.1M853.8 1053.6h.1M877.5 1058.0h.1M818.6 1056.7h.1M849.1 1066.7h.1M872.4 1051.8h.1M859.5 1064.8h.1M875.9 1048.2h.1M884.2 1044.3h.1M861.5 1061.6h.1M899.4 1057.0h.1M850.9 1066.4h.1M787.3 1052.8h.1M863.3 1052.7h.1M860.2 1059.8h.1M856.2 1055.5h.1M837.8 1052.7h.1M858.9 1060.8h.1M825.8 1052.1h.1M816.7 1053.8h.1M859.1 1061.0h.1M846.0 1068.5h.1M830.7 1050.6h.1M853.6 1071.6h.1M850.7 1051.1h.1M861.1 1066.2h.1M822.2 1049.3h.1M854.9 1064.4h.1M888.4 1048.0h.1M887.6 1045.5h.1M849.8 1059.1h.1M859.4 1044.0h.1M819.6 1078.2h.1M858.1 1058.9h.1M800.7 1079.7h.1M839.7 1052.2h.1M865.1 1056.5h.1M877.5 1053.3h.1M856.7 1056.1h.1M795.4 1055.7h.1M857.6 1060.8h.1M851.1 1055.5h.1M849.4 1063.6h.1M844.2 1072.3h.1M828.9 1054.2h.1M868.0 1056.1h.1M850.3 1056.1h.1M857.0 1051.3h.1M880.1 1053.5h.1M847.6 1065.5h.1M793.7 1080.2h.1M810.5 1056.6h.1M858.3 1042.4h.1M838.9 1076.1h.1M795.7 1056.2h.1M819.3 1053.2h.1M850.8 1073.0h.1M820.3 1076.2h.1M882.7 1061.5h.1M857.3 1054.0h.1M759.9 1062.4h.1M861.7 1064.1h.1M844.6 1067.6h.1M809.2 1056.0h.1M851.9 1057.7h.1M752.3 1074.1h.1M880.8 1050.3h.1M782.2 1084.8h.1M849.1 1047.0h.1M821.2 1055.4h.1M837.0 1047.8h.1M859.1 1060.3h.1M849.0 1056.1h.1M856.3 1044.6h.1M842.7 1048.0h.1M795.8 1082.4h.1M829.2 1049.3h.1M856.5 1051.9h.1M855.8 1054.5h.1M868.5 1052.8h.1M863.0 1065.9h.1M855.5 1066.2h.1M879.1 1056.5h.1M859.6 1048.0h.1M802.0 1083.2h.1M840.2 1073.3h.1M817.1 1055.2h.1M815.4 1056.6h.1M759.3 1064.1h.1M762.3 1085.8h.1M852.6 1055.5h.1M856.7 1040.1h.1M810.9 1079.1h.1M843.1 1054.1h.1M857.2 1045.1h.1M862.1 1050.6h.1M848.8 1056.6h.1M814.4 1048.4h.1M822.8 1075.0h.1M894.0 1056.2h.1M853.3 1062.6h.1M807.0 1053.3h.1M841.4 1071.0h.1M859.9 1066.4h.1M855.4 1053.4h.1M817.5 1054.5h.1M842.3 1069.9h.1M853.2 1056.7h.1M798.1 1057.1h.1M859.0 1056.5h.1M797.4 1077.6h.1M837.3 1074.2h.1M857.3 1066.0h.1M857.0 1051.8h.1M838.5 1046.5h.1M817.2 1057.3h.1M793.4 1054.5h.1M830.2 1049.0h.1M856.5 1054.0h.1M824.1 1075.2h.1M878.4 1052.5h.1M843.6 1055.2h.1M851.2 1059.4h.1M863.8 1061.0h.1M821.3 1052.1h.1M860.0 1050.5h.1M823.0 1053.6h.1M805.7 1078.5h.1M846.0 1054.5h.1M830.5 1053.0h.1M794.5 1055.3h.1M807.4 1050.9h.1M831.0 1042.4h.1M829.1 1078.7h.1M841.6 1071.9h.1M816.3 1053.4h.1M886.3 1048.9h.1M873.2 1048.7h.1M841.5 1080.5h.1M839.6 1051.1h.1M805.9 1050.5h.1M852.8 1055.3h.1M862.1 1051.9h.1M792.1 1054.6h.1M878.0 1045.8h.1M841.8 1053.6h.1M882.8 1064.3h.1M821.0 1055.8h.1M819.6 1050.9h.1M819.6 1076.3h.1M857.0 1060.7h.1M797.9 1056.0h.1M856.8 1067.7h.1M860.7 1052.6h.1M853.2 1064.2h.1M792.2 1076.4h.1M835.1 1053.5h.1M839.4 1051.3h.1M793.2 1081.6h.1M815.3 1048.9h.1M859.6 1058.0h.1M841.3 1071.6h.1M852.3 1071.6h.1M847.8 1056.0h.1M820.4 1053.9h.1M851.2 1062.8h.1M833.3 1077.9h.1M842.1 1070.0h.1M813.2 1054.9h.1M843.1 1069.2h.1M840.7 1054.0h.1M824.1 1054.0h.1M819.0 1054.3h.1M821.5 1054.6h.1M851.4 1046.5h.1M858.6 1057.7h.1M859.2 1046.2h.1M866.3 1052.7h.1M864.1 1049.6h.1M860.5 1042.9h.1M859.4 1051.7h.1M862.9 1055.9h.1M855.6 1054.8h.1M860.0 1052.0h.1M858.3 1050.2h.1M851.1 1056.9h.1M846.5 1054.1h.1M862.1 1044.7h.1M851.1 1064.4h.1M855.7 1044.8h.1M855.4 1052.3h.1M845.6 1051.6h.1M849.6 1047.3h.1M857.8 1058.8h.1M871.7 1057.3h.1M849.9 1056.5h.1M853.6 1047.1h.1M848.8 1052.4h.1M856.8 1050.3h.1M857.6 1048.7h.1M855.0 1050.3h.1M854.4 1058.5h.1M859.1 1048.8h.1M858.4 1051.8h.1M840.7 1053.2h.1M858.6 1042.6h.1M859.6 1057.3h.1M866.3 1042.4h.1M847.9 1055.3h.1M855.0 1062.5h.1M861.8 1048.8h.1M864.8 1047.1h.1M843.8 1053.1h.1M855.3 1045.4h.1M853.4 1057.6h.1M852.7 1055.3h.1M857.3 1055.3h.1M860.5 1049.4h.1M866.4 1052.6h.1M849.8 1053.2h.1M853.3 1052.9h.1M857.9 1052.9h.1M858.4 1046.1h.1M850.8 1048.3h.1M864.4 1035.6h.1M850.0 1055.6h.1M846.5 1049.8h.1M860.5 1048.6h.1M862.7 1041.1h.1M870.2 1061.0h.1M850.9 1066.1h.1M859.4 1051.6h.1M855.0 1058.1h.1M857.8 1058.4h.1M844.2 1046.3h.1M867.3 1059.9h.1M847.7 1044.7h.1M848.1 1044.6h.1M855.2 1057.3h.1M846.9 1054.6h.1M850.6 1051.4h.1M859.4 1049.7h.1M854.7 1061.6h.1M869.0 1057.4h.1M855.3 1053.8h.1M850.9 1063.4h.1M843.1 1052.4h.1M849.7 1062.8h.1M870.2 1063.0h.1M866.1 1046.1h.1M851.8 1054.7h.1M850.9 1047.1h.1M864.0 1047.6h.1M847.1 1054.0h.1M845.6 1054.4h.1M858.7 1049.8h.1M856.0 1048.0h.1M865.8 1056.2h.1M853.9 1045.9h.1M835.2 1050.4h.1M842.4 1052.9h.1M851.6 1052.7h.1M859.7 1060.3h.1M839.8 1051.7h.1M864.6 1036.4h.1M857.4 1054.8h.1M873.2 1056.2h.1M858.4 1041.0h.1M855.0 1051.1h.1M860.3 1050.6h.1M855.4 1037.5h.1M853.4 1056.8h.1M850.5 1052.3h.1M859.1 1051.2h.1M856.4 1037.9h.1M844.3 1054.7h.1M851.2 1055.5h.1M846.9 1049.1h.1M848.4 1050.3h.1M850.5 1057.4h.1M868.1 1058.2h.1M857.6 1060.3h.1M866.2 1054.6h.1M854.1 1054.9h.1M850.8 1051.8h.1M847.3 1047.7h.1M864.3 1046.4h.1M845.9 1047.2h.1M846.4 1051.8h.1M856.5 1049.4h.1M850.9 1053.3h.1M865.8 1049.7h.1M856.8 1054.2h.1M849.5 1047.7h.1M859.7 1039.4h.1M859.3 1037.9h.1M841.4 1052.2h.1M843.5 1048.4h.1M864.7 1047.7h.1M846.6 1054.3h.1M852.9 1054.0h.1M853.8 1050.1h.1M856.1 1054.5h.1M853.8 1057.1h.1M862.5 1054.8h.1M844.5 1040.0h.1M854.5 1045.5h.1M852.8 1059.4h.1M864.9 1055.1h.1M832.2 1051.5h.1M849.3 1052.0h.1M852.7 1051.1h.1M850.1 1051.0h.1M853.9 1056.4h.1M859.6 1054.3h.1M874.6 1048.6h.1M863.4 1059.1h.1M854.5 1057.2h.1M859.7 1056.2h.1M849.1 1053.3h.1M852.6 1047.1h.1M845.2 1053.9h.1M851.0 1052.5h.1M862.5 1046.2h.1M843.8 1053.9h.1M845.2 1052.3h.1M858.1 1045.0h.1M855.0 1047.1h.1M850.4 1045.9h.1M867.2 1044.5h.1M856.2 1061.6h.1M855.5 1050.9h.1M860.6 1059.7h.1M862.1 1049.6h.1M880.2 1036.9h.1M848.1 1055.5h.1M869.5 1055.8h.1M861.3 1058.1h.1M853.7 1055.2h.1M856.1 1060.2h.1M854.1 1055.6h.1M844.0 1053.7h.1M855.4 1043.6h.1M849.7 1048.8h.1M844.7 1045.4h.1M848.4 1044.5h.1M859.4 1048.8h.1M851.6 1050.3h.1M864.8 1056.8h.1M861.9 1049.7h.1M861.3 1058.7h.1M863.3 1051.5h.1M874.4 1048.9h.1M862.6 1049.0h.1M848.1 1050.4h.1M853.4 1049.1h.1M855.2 1053.0h.1M849.4 1073.8h.1M859.4 1050.5h.1M842.3 1051.3h.1M849.3 1057.5h.1M862.8 1053.9h.1M857.9 1048.1h.1M863.9 1051.8h.1M852.8 1044.2h.1M852.3 1052.4h.1M861.2 1058.7h.1M853.7 1050.2h.1M855.5 1044.1h.1M856.8 1040.1h.1M852.7 1043.2h.1M853.8 1060.2h.1M862.2 1064.1h.1M852.0 1065.3h.1M849.6 1034.8h.1M857.8 1055.0h.1M853.2 1060.6h.1M865.8 1048.0h.1M840.7 1051.9h.1M852.7 1044.3h.1M861.1 1051.2h.1M862.3 1049.0h.1M863.6 1047.4h.1M852.2 1054.3h.1M868.6 1044.4h.1M847.1 1053.3h.1M855.4 1039.7h.1M852.1 1062.7h.1M862.3 1058.6h.1M853.3 1054.1h.1M853.7 1064.3h.1M868.8 1046.1h.1M861.0 1047.0h.1M847.5 1053.9h.1M852.7 1055.9h.1M861.0 1054.7h.1M862.3 1050.2h.1M870.9 1043.0h.1M854.5 1053.6h.1M848.8 1052.5h.1M841.2 1048.3h.1M849.5 1051.5h.1M845.6 1050.1h.1M867.5 1049.8h.1M828.2 1084.0h.1M863.1 1044.5h.1M840.4 1072.3h.1M841.2 1052.3h.1M873.0 1056.6h.1M873.0 1065.4h.1M866.1 1060.3h.1M855.2 1051.6h.1M856.0 1072.6h.1M859.0 1071.7h.1M819.4 1084.3h.1M847.3 1076.5h.1M857.9 1059.9h.1M881.4 1059.9h.1M794.6 1053.9h.1M843.3 1073.3h.1M875.2 1068.3h.1M859.5 1058.2h.1M819.1 1077.1h.1M871.8 1063.3h.1M882.7 1064.4h.1M855.8 1052.7h.1M839.7 1049.8h.1M853.0 1051.4h.1M834.3 1081.9h.1M817.1 1056.4h.1M836.9 1078.6h.1M831.7 1054.2h.1M855.3 1054.3h.1M861.6 1069.4h.1M872.5 1051.5h.1M809.0 1078.6h.1M826.2 1075.8h.1M867.8 1066.0h.1M897.9 1048.3h.1M859.3 1083.1h.1M868.8 1047.1h.1M795.7 1052.5h.1M857.5 1055.8h.1M802.2 1079.0h.1M846.4 1067.8h.1M813.0 1087.0h.1M840.8 1070.2h.1M780.9 1084.6h.1M843.2 1079.7h.1" stroke="#000" stroke-width="1.55" stroke-linecap="square" fill="none" opacity="0.92"/>
<path d="M879.9 1012.2h.1M866.2 1061.0h.1M876.1 1021.6h.1M847.0 1038.8h.1M862.9 1034.0h.1M863.5 1026.3h.1M873.6 1027.7h.1M887.0 1001.7h.1M870.6 1028.1h.1M880.9 1024.3h.1M870.5 1031.1h.1M879.7 1022.2h.1M870.1 1020.9h.1M883.2 1032.6h.1M861.0 1030.4h.1M858.2 1046.8h.1M874.8 1015.0h.1M868.9 1058.4h.1M898.8 1006.7h.1M866.9 1012.6h.1M858.3 1046.7h.1M847.7 1036.4h.1M866.6 1038.8h.1M870.5 1037.9h.1M873.5 1024.5h.1M893.8 1004.6h.1M879.2 1015.7h.1M882.6 1024.2h.1M881.0 1035.7h.1M866.1 1032.2h.1M859.2 1016.6h.1M847.7 1037.8h.1M876.4 1020.8h.1M868.1 1028.5h.1M855.6 1042.7h.1M853.2 1045.9h.1M877.5 1032.1h.1M852.6 1051.1h.1M871.5 1004.9h.1M862.6 1030.5h.1M871.5 1029.5h.1M890.1 1014.0h.1M865.8 1018.9h.1M871.9 1023.1h.1M915.1 987.4h.1M893.2 1018.3h.1M892.7 1002.9h.1M903.5 993.1h.1M919.1 984.0h.1M870.0 993.3h.1M895.6 1006.6h.1M898.6 999.6h.1" stroke="#555" stroke-width="1.5" stroke-linecap="square" fill="none" opacity="0.75"/>
<line x1="798.5" y1="831.7" x2="798.5" y2="1104.4" stroke="#111" stroke-width="1.7"/>
<line x1="737.3" y1="1046.8" x2="1020.7" y2="1046.8" stroke="#222" stroke-width="1.4"/>
<text x="738.3" y="842.7" font-family='"Liberation Sans", sans-serif' font-size="12.2" font-weight="normal" text-anchor="start" fill="#15152a" textLength="25.0" lengthAdjust="spacingAndGlyphs" stroke="#15152a" stroke-width="0.3">0.04</text>
<text x="995.3" y="842.7" font-family='"Liberation Sans", sans-serif' font-size="12.2" font-weight="normal" text-anchor="start" fill="#15152a" textLength="25.0" lengthAdjust="spacingAndGlyphs" stroke="#15152a" stroke-width="0.3">1.32</text>
<text x="738.3" y="1101.2" font-family='"Liberation Sans", sans-serif' font-size="12.2" font-weight="normal" text-anchor="start" fill="#15152a" textLength="31.4" lengthAdjust="spacingAndGlyphs" stroke="#15152a" stroke-width="0.3">66.00</text>
<text x="988.9" y="1101.2" font-family='"Liberation Sans", sans-serif' font-size="12.2" font-weight="normal" text-anchor="start" fill="#15152a" textLength="31.4" lengthAdjust="spacingAndGlyphs" stroke="#15152a" stroke-width="0.3">32.64</text>
<text x="883.8" y="818.5" font-family='"Liberation Serif", serif' font-size="17.8" font-weight="bold" text-anchor="middle" fill="#000" textLength="189.5" lengthAdjust="spacingAndGlyphs">Cisplatin + Spk1 siRNA</text>
</g>
<g>
<rect x="1062.5" y="831.9" width="283.7" height="273.3" fill="#fff" stroke="#b4b4b4" stroke-width="1.6"/>
<path d="M1073.0 1105.2v4.5M1097.5 1105.2v4.5M1125.2 1105.2v4.5M1193.2 1105.2v4.5M1259.6 1105.2v4.5M1323.3 1105.2v4.5M1062.5 858.4h-4.5M1062.5 918.5h-4.5M1062.5 981.0h-4.5M1062.5 1046.3h-4.5M1062.5 1073.1h-4.5M1062.5 1100.2h-4.5M1145.7 1105.2v2.4M1157.6 1105.2v2.4M1166.1 1105.2v2.4M1172.7 1105.2v2.4M1178.1 1105.2v2.4M1182.7 1105.2v2.4M1186.6 1105.2v2.4M1190.1 1105.2v2.4M1213.2 1105.2v2.4M1224.9 1105.2v2.4M1233.2 1105.2v2.4M1239.6 1105.2v2.4M1244.9 1105.2v2.4M1249.3 1105.2v2.4M1253.2 1105.2v2.4M1256.6 1105.2v2.4M1278.8 1105.2v2.4M1290.0 1105.2v2.4M1298.0 1105.2v2.4M1304.1 1105.2v2.4M1309.2 1105.2v2.4M1313.4 1105.2v2.4M1317.1 1105.2v2.4M1320.4 1105.2v2.4M1330.2 1105.2v2.4M1335.9 1105.2v2.4M1100.3 1105.2v2.4M1103.0 1105.2v2.4M1105.8 1105.2v2.4M1108.6 1105.2v2.4M1111.3 1105.2v2.4M1114.1 1105.2v2.4M1116.9 1105.2v2.4M1119.7 1105.2v2.4M1122.4 1105.2v2.4M1095.0 1105.2v2.4M1092.6 1105.2v2.4M1090.2 1105.2v2.4M1087.7 1105.2v2.4M1085.2 1105.2v2.4M1082.8 1105.2v2.4M1080.3 1105.2v2.4M1077.9 1105.2v2.4M1075.5 1105.2v2.4M1062.5 1026.6h-2.4M1062.5 1015.1h-2.4M1062.5 1007.0h-2.4M1062.5 1000.7h-2.4M1062.5 995.5h-2.4M1062.5 991.1h-2.4M1062.5 987.3h-2.4M1062.5 984.0h-2.4M1062.5 962.2h-2.4M1062.5 951.2h-2.4M1062.5 943.4h-2.4M1062.5 937.3h-2.4M1062.5 932.4h-2.4M1062.5 928.2h-2.4M1062.5 924.6h-2.4M1062.5 921.4h-2.4M1062.5 900.4h-2.4M1062.5 889.8h-2.4M1062.5 882.3h-2.4M1062.5 876.5h-2.4M1062.5 871.7h-2.4M1062.5 867.7h-2.4M1062.5 864.2h-2.4M1062.5 861.2h-2.4M1062.5 850.4h-2.4M1062.5 843.8h-2.4M1062.5 1070.4h-2.4M1062.5 1067.7h-2.4M1062.5 1065.1h-2.4M1062.5 1062.4h-2.4M1062.5 1059.7h-2.4M1062.5 1057.0h-2.4M1062.5 1054.3h-2.4M1062.5 1051.7h-2.4M1062.5 1049.0h-2.4M1062.5 1075.8h-2.4M1062.5 1078.5h-2.4M1062.5 1081.2h-2.4M1062.5 1083.9h-2.4M1062.5 1086.7h-2.4M1062.5 1089.4h-2.4M1062.5 1092.1h-2.4M1062.5 1094.8h-2.4M1062.5 1097.5h-2.4" stroke="#a8a8a8" stroke-width="0.9" fill="none"/>
<text x="1072.5" y="1119.0" font-family='"Liberation Sans", sans-serif' font-size="9.6" stroke="#101028" stroke-width="0.25" text-anchor="middle" fill="#101028">-10<tspan dy="-4.2" font-size="5.6">2</tspan></text>
<text x="1098.7" y="1119.0" font-family='"Liberation Sans", sans-serif' font-size="9.6" font-weight="normal" text-anchor="middle" fill="#101028" stroke="#101028" stroke-width="0.25">0</text>
<text x="1126.4" y="1119.0" font-family='"Liberation Sans", sans-serif' font-size="9.6" stroke="#101028" stroke-width="0.25" text-anchor="middle" fill="#101028">10<tspan dy="-4.2" font-size="5.6">2</tspan></text>
<text x="1194.4" y="1119.0" font-family='"Liberation Sans", sans-serif' font-size="9.6" stroke="#101028" stroke-width="0.25" text-anchor="middle" fill="#101028">10<tspan dy="-4.2" font-size="5.6">3</tspan></text>
<text x="1260.8" y="1119.0" font-family='"Liberation Sans", sans-serif' font-size="9.6" stroke="#101028" stroke-width="0.25" text-anchor="middle" fill="#101028">10<tspan dy="-4.2" font-size="5.6">4</tspan></text>
<text x="1324.5" y="1119.0" font-family='"Liberation Sans", sans-serif' font-size="9.6" stroke="#101028" stroke-width="0.25" text-anchor="middle" fill="#101028">10<tspan dy="-4.2" font-size="5.6">5</tspan></text>
<text x="1058.3" y="862.0" font-family='"Liberation Sans", sans-serif' font-size="9.6" stroke="#101028" stroke-width="0.25" text-anchor="end" fill="#101028">10<tspan dy="-4.2" font-size="5.6">5</tspan></text>
<text x="1058.3" y="922.1" font-family='"Liberation Sans", sans-serif' font-size="9.6" stroke="#101028" stroke-width="0.25" text-anchor="end" fill="#101028">10<tspan dy="-4.2" font-size="5.6">4</tspan></text>
<text x="1058.3" y="984.6" font-family='"Liberation Sans", sans-serif' font-size="9.6" stroke="#101028" stroke-width="0.25" text-anchor="end" fill="#101028">10<tspan dy="-4.2" font-size="5.6">3</tspan></text>
<text x="1058.3" y="1049.9" font-family='"Liberation Sans", sans-serif' font-size="9.6" stroke="#101028" stroke-width="0.25" text-anchor="end" fill="#101028">10<tspan dy="-4.2" font-size="5.6">2</tspan></text>
<text x="1058.3" y="1076.7" font-family='"Liberation Sans", sans-serif' font-size="9.6" font-weight="normal" text-anchor="end" fill="#101028" stroke="#101028" stroke-width="0.25">0</text>
<text x="1058.3" y="1103.8" font-family='"Liberation Sans", sans-serif' font-size="9.6" stroke="#101028" stroke-width="0.25" text-anchor="end" fill="#101028">-10<tspan dy="-4.2" font-size="5.6">2</tspan></text>
<ellipse cx="1101.0" cy="1070.9" rx="20.0" ry="16.5" transform="rotate(0 1101.0 1070.9)" fill="#050505" filter="url(#rag)"/>
<ellipse cx="1124.5" cy="1068.4" rx="15.0" ry="11.0" transform="rotate(-5 1124.5 1068.4)" fill="#050505" filter="url(#rag)"/>
<path d="M1133.9 1069.7h.1M1134.6 1072.3h.1M1133.8 1064.5h.1M1118.2 1067.5h.1M1124.0 1064.0h.1M1122.4 1067.7h.1M1113.8 1063.5h.1M1137.9 1066.5h.1M1125.3 1062.3h.1M1136.2 1063.8h.1M1126.4 1061.1h.1M1127.9 1065.1h.1M1114.4 1072.2h.1M1131.1 1060.7h.1M1135.9 1070.0h.1M1131.7 1071.1h.1M1122.7 1064.1h.1M1130.2 1065.2h.1" stroke="#fff" stroke-width="1.1" stroke-linecap="square" fill="none" opacity="0.75"/>
<path d="M1112.7 1097.4h.1M1127.8 1058.8h.1M1112.9 1057.1h.1M1108.4 1057.0h.1M1084.0 1089.1h.1M1087.1 1082.4h.1M1079.6 1068.5h.1M1090.9 1058.2h.1M1096.6 1086.2h.1M1086.9 1060.0h.1M1091.2 1055.5h.1M1113.1 1056.0h.1M1107.3 1085.1h.1M1111.9 1053.1h.1M1078.0 1068.8h.1M1086.7 1086.3h.1M1111.3 1049.6h.1M1090.0 1087.3h.1M1102.7 1052.2h.1M1075.4 1078.5h.1M1091.4 1084.5h.1M1080.6 1051.6h.1M1119.1 1054.0h.1M1090.5 1057.2h.1M1092.6 1086.1h.1M1092.0 1057.6h.1M1076.1 1070.7h.1M1079.7 1075.3h.1M1090.8 1056.4h.1M1090.2 1085.9h.1M1092.3 1084.2h.1M1090.8 1086.5h.1M1099.1 1090.4h.1M1121.1 1087.6h.1M1096.7 1087.9h.1M1111.9 1051.0h.1M1093.0 1085.0h.1M1090.0 1083.1h.1M1119.1 1086.1h.1M1100.3 1055.6h.1M1101.6 1055.2h.1M1087.6 1081.6h.1M1089.8 1083.4h.1M1104.4 1051.9h.1M1094.7 1052.7h.1M1087.0 1058.2h.1M1115.0 1050.3h.1M1122.9 1086.3h.1M1120.2 1085.8h.1M1090.6 1054.3h.1M1090.6 1084.2h.1M1116.3 1080.9h.1M1117.8 1079.3h.1M1083.2 1052.6h.1M1116.1 1087.2h.1M1082.4 1075.3h.1M1116.3 1088.7h.1M1115.2 1060.5h.1M1079.9 1063.3h.1M1098.6 1056.0h.1M1096.7 1087.0h.1M1108.9 1086.4h.1M1119.8 1078.2h.1M1081.5 1072.6h.1M1105.2 1086.5h.1M1114.5 1056.5h.1M1102.9 1090.7h.1M1112.2 1093.8h.1M1110.7 1083.8h.1M1092.7 1085.3h.1M1085.6 1061.4h.1M1091.2 1086.3h.1M1083.4 1060.4h.1M1097.0 1090.6h.1M1098.3 1054.0h.1M1100.5 1055.4h.1M1079.7 1068.6h.1M1077.9 1073.7h.1M1093.6 1091.6h.1M1079.0 1070.4h.1M1110.2 1084.1h.1M1101.0 1051.4h.1M1089.5 1084.4h.1M1084.5 1082.1h.1M1101.1 1087.0h.1M1087.3 1085.8h.1M1079.4 1078.1h.1M1094.7 1049.3h.1M1112.4 1056.4h.1M1092.3 1087.4h.1M1092.8 1053.0h.1M1075.7 1073.4h.1M1113.6 1059.7h.1M1092.4 1088.4h.1M1096.8 1053.3h.1M1084.2 1078.2h.1M1096.9 1086.2h.1M1081.5 1075.2h.1M1104.7 1052.6h.1M1093.0 1053.4h.1M1080.4 1078.2h.1M1111.7 1088.2h.1M1085.7 1054.6h.1M1081.9 1069.4h.1M1107.0 1051.8h.1M1083.1 1064.4h.1M1079.6 1074.0h.1M1097.6 1050.6h.1M1089.3 1057.7h.1M1110.3 1086.8h.1M1079.7 1076.6h.1M1115.7 1083.6h.1M1106.4 1054.5h.1M1080.8 1077.6h.1M1105.4 1088.1h.1M1109.4 1052.0h.1M1080.7 1079.4h.1M1106.8 1051.7h.1M1082.0 1070.5h.1M1086.3 1080.5h.1M1106.5 1055.7h.1M1108.7 1052.7h.1M1080.9 1076.6h.1M1088.9 1083.5h.1M1088.9 1058.8h.1M1111.7 1085.5h.1M1114.9 1086.9h.1M1073.7 1066.5h.1M1083.2 1082.1h.1M1110.0 1057.1h.1M1116.5 1084.0h.1M1079.7 1060.8h.1M1080.9 1080.0h.1M1126.0 1086.6h.1M1082.5 1075.9h.1M1083.0 1079.8h.1M1101.3 1086.9h.1M1079.9 1070.0h.1M1077.0 1074.9h.1M1086.1 1060.2h.1M1077.1 1065.9h.1M1092.7 1052.4h.1M1107.1 1055.9h.1M1107.2 1086.1h.1M1080.9 1073.9h.1M1102.3 1086.3h.1M1100.1 1088.7h.1M1090.6 1085.9h.1M1081.7 1069.1h.1M1076.8 1069.1h.1M1080.5 1074.3h.1M1081.7 1080.7h.1M1096.8 1050.7h.1M1109.9 1056.1h.1M1079.6 1077.1h.1M1094.1 1086.6h.1M1108.9 1085.2h.1M1116.2 1059.0h.1M1115.1 1050.9h.1M1076.4 1060.4h.1M1101.4 1047.0h.1M1111.1 1083.8h.1M1093.4 1085.5h.1M1111.9 1055.1h.1M1092.7 1084.4h.1M1103.6 1088.7h.1M1082.6 1074.3h.1M1109.1 1054.2h.1M1086.0 1081.2h.1M1116.4 1089.0h.1M1113.2 1082.9h.1M1123.6 1077.9h.1M1075.5 1067.9h.1M1082.3 1066.1h.1M1082.9 1060.1h.1M1105.4 1086.7h.1M1085.0 1082.1h.1M1103.3 1049.7h.1M1080.0 1071.0h.1M1092.6 1090.6h.1M1082.1 1067.8h.1M1100.9 1055.2h.1M1085.7 1055.9h.1M1079.5 1076.2h.1M1086.4 1059.1h.1M1077.1 1070.8h.1M1079.9 1074.5h.1M1103.3 1087.5h.1M1111.0 1088.5h.1M1102.5 1088.4h.1M1083.9 1078.0h.1M1086.9 1060.8h.1M1087.4 1051.2h.1M1111.8 1053.8h.1M1105.3 1055.4h.1M1094.8 1053.9h.1M1078.8 1075.2h.1M1105.7 1090.8h.1M1090.1 1051.8h.1M1083.7 1062.5h.1M1081.5 1067.5h.1M1081.4 1068.4h.1M1094.1 1053.2h.1M1096.2 1055.4h.1M1090.2 1084.0h.1M1117.9 1078.8h.1M1078.6 1067.5h.1M1096.0 1089.6h.1M1088.8 1084.6h.1M1083.8 1062.1h.1M1114.8 1086.7h.1M1102.6 1087.1h.1M1104.3 1055.9h.1M1089.3 1056.1h.1M1116.5 1082.0h.1M1105.5 1086.2h.1M1082.5 1074.5h.1M1071.7 1072.4h.1M1092.1 1053.8h.1M1121.0 1058.4h.1M1114.0 1056.7h.1M1116.1 1083.5h.1M1109.1 1091.0h.1M1092.6 1091.1h.1M1102.2 1055.9h.1M1093.1 1052.0h.1M1088.7 1085.7h.1M1110.9 1056.6h.1M1087.3 1081.8h.1M1091.3 1054.5h.1M1099.1 1095.8h.1M1116.6 1055.0h.1M1101.8 1087.2h.1M1120.0 1081.6h.1M1082.0 1071.5h.1M1082.4 1058.8h.1M1085.7 1057.4h.1M1095.0 1086.4h.1M1096.4 1056.3h.1M1111.5 1088.0h.1M1082.9 1064.9h.1M1081.5 1079.0h.1M1084.6 1081.2h.1M1089.3 1050.6h.1M1119.5 1057.9h.1M1080.9 1078.4h.1M1072.9 1073.0h.1M1097.5 1052.8h.1M1113.6 1059.7h.1M1079.1 1061.3h.1M1078.9 1091.1h.1M1106.7 1087.6h.1M1110.1 1055.9h.1M1081.3 1061.5h.1M1080.4 1073.3h.1M1092.1 1084.6h.1M1118.9 1078.4h.1M1081.0 1079.5h.1M1109.2 1084.7h.1M1108.9 1090.4h.1M1079.8 1076.5h.1M1081.8 1070.9h.1M1113.9 1051.4h.1M1145.8 1072.8h.1M1093.2 1088.6h.1M1080.9 1074.9h.1M1113.2 1083.5h.1M1114.8 1082.7h.1M1092.1 1086.2h.1M1103.0 1052.8h.1M1115.1 1056.9h.1M1101.0 1045.9h.1M1119.0 1077.5h.1M1116.4 1060.0h.1M1122.5 1054.5h.1M1078.9 1073.2h.1M1080.2 1068.7h.1M1079.5 1060.1h.1M1117.4 1083.8h.1M1156.5 1074.8h.1M1178.7 1069.9h.1M1146.5 1072.2h.1M1138.6 1061.1h.1M1159.6 1059.9h.1M1120.1 1059.5h.1M1160.6 1057.8h.1M1156.1 1067.2h.1M1162.9 1061.7h.1M1148.7 1068.5h.1M1128.5 1055.9h.1M1135.0 1060.6h.1M1171.2 1061.5h.1M1136.1 1082.1h.1M1148.6 1075.5h.1M1150.6 1052.2h.1M1151.3 1068.2h.1M1174.6 1057.5h.1M1169.8 1059.6h.1M1149.5 1075.1h.1M1140.2 1061.9h.1M1183.4 1057.1h.1M1141.9 1062.3h.1M1189.3 1069.4h.1M1140.3 1065.9h.1M1162.8 1070.9h.1M1165.2 1066.7h.1M1147.8 1066.8h.1M1157.1 1055.9h.1M1134.1 1079.8h.1M1154.4 1077.1h.1M1142.6 1061.0h.1M1153.2 1051.7h.1M1147.3 1056.6h.1M1182.1 1078.5h.1M1162.1 1063.3h.1M1163.8 1060.9h.1M1148.3 1052.4h.1M1143.3 1063.5h.1M1148.1 1067.7h.1M1160.6 1071.2h.1M1163.4 1061.8h.1M1177.8 1056.0h.1M1186.9 1064.1h.1M1178.1 1053.4h.1M1116.0 1079.8h.1M1166.2 1057.7h.1M1170.5 1053.7h.1M1153.9 1063.2h.1M1149.4 1054.4h.1M1152.9 1073.3h.1M1140.1 1055.0h.1M1183.1 1063.0h.1M1150.6 1057.6h.1M1149.2 1054.0h.1M1160.9 1057.7h.1M1138.2 1056.9h.1M1143.2 1051.0h.1M1175.3 1058.7h.1M1133.9 1056.5h.1M1189.3 1052.7h.1M1120.0 1058.5h.1M1150.1 1054.9h.1M1147.4 1070.4h.1M1124.7 1080.2h.1M1166.9 1056.0h.1M1172.7 1067.1h.1M1165.7 1071.7h.1M1160.4 1060.9h.1M1176.6 1065.3h.1M1143.6 1068.2h.1M1169.4 1060.6h.1M1170.6 1057.7h.1M1160.5 1066.5h.1M1146.4 1080.0h.1M1163.8 1071.9h.1M1144.6 1063.2h.1M1164.6 1052.1h.1M1147.7 1055.2h.1M1147.2 1062.6h.1M1147.0 1068.9h.1M1149.2 1063.8h.1M1157.6 1054.6h.1M1137.2 1054.6h.1M1167.8 1074.9h.1M1186.3 1045.3h.1M1166.7 1056.4h.1M1138.4 1047.9h.1M1183.4 1067.6h.1M1157.2 1057.4h.1M1154.1 1065.1h.1M1153.6 1064.5h.1M1137.1 1063.6h.1M1152.9 1064.9h.1M1139.5 1073.8h.1M1155.7 1050.4h.1M1177.2 1059.4h.1M1140.2 1057.8h.1M1167.2 1056.5h.1M1164.6 1068.1h.1M1167.7 1056.5h.1M1140.5 1055.9h.1M1129.0 1078.5h.1M1184.9 1047.2h.1M1144.2 1069.7h.1M1146.0 1069.2h.1M1132.5 1056.3h.1M1177.0 1075.4h.1M1161.8 1057.1h.1M1143.2 1064.5h.1M1176.4 1065.6h.1M1150.2 1057.7h.1M1163.0 1073.4h.1M1197.0 1060.5h.1M1146.2 1070.8h.1M1158.9 1067.0h.1M1156.2 1067.5h.1M1171.9 1054.4h.1M1138.8 1069.9h.1M1149.5 1066.7h.1M1156.0 1061.9h.1M1145.0 1068.0h.1M1140.4 1069.7h.1M1159.3 1069.8h.1M1145.5 1063.2h.1M1182.2 1073.0h.1M1136.2 1058.9h.1M1157.3 1060.9h.1M1139.5 1071.1h.1M1148.0 1056.5h.1M1141.6 1057.0h.1M1138.9 1055.5h.1M1169.6 1057.0h.1M1142.1 1077.6h.1M1144.5 1073.6h.1M1164.7 1047.9h.1M1165.0 1067.1h.1M1153.1 1067.0h.1M1168.8 1068.6h.1M1156.8 1067.1h.1M1165.2 1062.9h.1M1140.5 1074.7h.1M1143.3 1072.8h.1M1169.7 1064.4h.1M1140.3 1068.5h.1M1141.5 1057.8h.1M1169.4 1053.7h.1M1147.2 1056.0h.1M1169.3 1070.6h.1M1149.4 1072.4h.1M1148.2 1060.6h.1M1223.6 1050.1h.1M1170.4 1064.4h.1M1134.7 1078.0h.1M1116.7 1060.4h.1M1158.1 1065.1h.1M1144.9 1066.0h.1M1151.3 1057.1h.1M1139.2 1080.3h.1M1136.6 1057.1h.1M1161.1 1073.9h.1M1161.4 1063.6h.1M1163.7 1061.7h.1M1158.7 1056.7h.1M1165.0 1052.1h.1M1147.8 1082.1h.1M1163.6 1071.6h.1M1157.6 1065.5h.1M1177.0 1056.0h.1M1160.3 1064.0h.1M1174.7 1060.7h.1M1159.0 1059.8h.1M1145.2 1078.3h.1M1146.5 1066.8h.1M1162.9 1067.2h.1M1148.9 1060.4h.1M1170.6 1066.7h.1M1138.9 1047.7h.1M1161.0 1071.2h.1M1139.4 1060.8h.1M1149.0 1061.0h.1M1157.7 1056.7h.1M1145.5 1063.5h.1M1140.5 1061.5h.1M1127.7 1079.2h.1M1175.7 1059.2h.1M1142.6 1071.2h.1M1161.6 1074.2h.1M1142.2 1068.9h.1M1170.5 1059.8h.1M1142.0 1067.6h.1M1143.1 1064.6h.1M1160.0 1063.0h.1M1159.5 1054.0h.1M1165.6 1066.1h.1M1129.6 1053.3h.1M1169.4 1053.7h.1M1157.9 1056.4h.1M1148.1 1063.2h.1M1146.2 1071.3h.1M1163.1 1067.8h.1M1166.5 1060.7h.1M1143.4 1054.7h.1M1167.6 1064.9h.1M1162.8 1072.1h.1M1153.4 1064.6h.1M1125.4 1047.1h.1M1172.0 1068.1h.1M1163.4 1063.5h.1M1148.5 1072.9h.1M1153.8 1065.0h.1M1151.5 1067.9h.1M1155.1 1072.0h.1M1154.0 1044.9h.1M1178.0 1071.1h.1M1171.3 1061.8h.1M1117.3 1079.3h.1M1139.1 1071.9h.1M1142.6 1060.8h.1M1156.7 1070.8h.1M1176.0 1053.7h.1M1176.7 1061.6h.1M1140.3 1062.1h.1M1153.0 1067.3h.1M1157.5 1057.9h.1M1152.7 1063.4h.1M1153.0 1058.6h.1M1181.5 1070.3h.1M1146.8 1077.4h.1M1130.8 1055.5h.1M1150.7 1068.8h.1M1146.9 1066.9h.1M1160.0 1059.0h.1M1123.1 1056.5h.1M1138.2 1059.0h.1M1172.9 1065.1h.1M1118.0 1078.6h.1M1145.1 1064.0h.1M1136.7 1061.3h.1M1170.0 1067.3h.1M1132.3 1049.3h.1M1109.8 1055.6h.1M1149.1 1061.5h.1M1164.0 1057.7h.1M1152.9 1058.8h.1M1139.0 1065.3h.1M1153.2 1075.3h.1M1154.6 1065.4h.1M1175.7 1052.7h.1M1195.8 1062.5h.1M1144.4 1051.1h.1M1162.2 1065.6h.1M1158.4 1059.7h.1M1194.6 1061.6h.1M1113.9 1054.2h.1M1180.5 1070.9h.1M1150.0 1062.3h.1M1172.9 1051.1h.1M1143.3 1069.5h.1M1181.3 1049.8h.1M1165.1 1069.3h.1M1159.2 1062.9h.1M1196.1 1069.6h.1M1137.5 1051.6h.1M1131.7 1081.8h.1M1175.2 1051.2h.1M1135.8 1055.8h.1M1108.2 1056.7h.1M1144.3 1055.6h.1M1144.0 1061.7h.1M1175.4 1058.3h.1M1140.8 1060.9h.1M1141.4 1058.2h.1M1144.9 1066.9h.1M1181.3 1063.4h.1M1180.0 1066.5h.1M1152.5 1053.3h.1M1150.0 1061.8h.1M1137.5 1061.7h.1M1148.3 1065.0h.1M1157.9 1052.9h.1M1146.5 1064.3h.1M1143.1 1059.0h.1M1136.6 1072.4h.1M1209.7 1062.3h.1M1159.9 1051.3h.1M1154.8 1055.7h.1M1138.1 1086.7h.1M1144.2 1060.9h.1M1142.2 1060.6h.1M1134.2 1076.3h.1M1140.8 1072.9h.1M1158.0 1062.0h.1M1158.3 1071.8h.1M1153.7 1053.0h.1M1136.8 1073.7h.1M1141.4 1068.1h.1M1165.9 1044.8h.1M1156.0 1064.8h.1M1139.3 1071.6h.1M1136.6 1072.3h.1M1158.3 1063.3h.1M1150.7 1068.8h.1M1144.1 1081.7h.1M1148.3 1067.6h.1M1152.2 1076.6h.1M1165.7 1064.0h.1M1110.9 1049.7h.1M1148.1 1073.4h.1M1141.6 1067.8h.1M1138.5 1060.3h.1M1142.3 1064.9h.1M1154.2 1060.2h.1M1144.0 1065.2h.1M1163.4 1051.5h.1M1168.5 1063.7h.1M1148.6 1071.4h.1M1142.2 1066.9h.1M1136.3 1051.0h.1M1161.8 1051.0h.1M1152.8 1058.9h.1M1174.2 1066.7h.1M1144.2 1059.6h.1M1137.9 1060.1h.1M1167.8 1069.3h.1M1152.4 1058.8h.1M1171.5 1062.2h.1M1145.0 1076.3h.1M1172.6 1066.1h.1M1132.5 1045.1h.1M1142.1 1075.8h.1M1135.7 1082.3h.1M1143.8 1061.8h.1M1152.3 1067.7h.1M1195.1 1066.5h.1M1139.2 1064.0h.1M1144.3 1058.7h.1M1167.3 1061.9h.1M1161.7 1053.5h.1M1160.0 1063.1h.1M1163.2 1052.8h.1M1172.3 1064.4h.1M1137.0 1061.6h.1M1155.9 1061.5h.1M1137.7 1061.1h.1M1171.9 1068.3h.1M1164.3 1060.9h.1M1153.1 1064.9h.1M1157.2 1059.4h.1M1137.6 1054.6h.1M1167.3 1066.8h.1M1119.7 1078.7h.1M1173.5 1066.6h.1M1135.4 1076.1h.1M1142.3 1050.0h.1M1184.6 1074.7h.1M1141.3 1057.9h.1M1157.6 1050.9h.1M1153.0 1061.2h.1M1153.6 1068.7h.1M1176.8 1052.6h.1M1146.6 1067.9h.1M1161.6 1064.0h.1M1146.5 1070.5h.1M1168.4 1073.9h.1M1140.3 1052.1h.1M1135.3 1083.4h.1M1136.4 1077.3h.1M1137.1 1051.9h.1M1134.8 1085.6h.1M1144.5 1070.2h.1M1139.5 1063.8h.1M1133.2 1081.1h.1M1199.0 1051.6h.1M1166.0 1067.0h.1M1141.3 1062.3h.1M1149.3 1058.8h.1M1139.6 1068.5h.1M1164.9 1053.1h.1M1146.3 1071.1h.1M1141.7 1072.9h.1M1156.7 1061.9h.1M1141.8 1057.0h.1M1163.9 1071.7h.1M1160.1 1067.3h.1M1159.6 1068.4h.1M1146.7 1058.7h.1M1150.7 1067.3h.1M1154.3 1069.8h.1M1152.0 1064.8h.1M1148.3 1061.7h.1M1151.0 1061.5h.1M1173.4 1059.0h.1M1143.3 1064.2h.1M1155.4 1056.1h.1M1178.4 1065.1h.1M1168.7 1058.4h.1M1163.5 1067.2h.1M1169.8 1068.2h.1M1175.9 1062.4h.1M1144.2 1054.5h.1M1158.0 1069.1h.1M1140.7 1051.7h.1M1134.4 1058.5h.1M1152.7 1063.2h.1M1195.1 1071.8h.1M1167.4 1063.2h.1M1183.9 1059.4h.1M1143.3 1056.0h.1M1191.8 1049.3h.1M1132.3 1060.1h.1M1151.1 1054.2h.1M1136.2 1075.1h.1M1151.8 1059.7h.1M1158.5 1054.3h.1M1179.2 1064.6h.1M1143.8 1067.5h.1M1162.2 1072.3h.1M1157.1 1055.9h.1M1158.5 1063.1h.1M1143.7 1065.7h.1M1167.7 1077.2h.1M1149.0 1063.9h.1M1157.5 1078.2h.1M1130.4 1059.2h.1M1141.6 1062.7h.1M1147.9 1062.5h.1M1136.1 1077.0h.1M1138.9 1061.6h.1M1156.4 1067.2h.1M1117.0 1051.0h.1M1154.9 1066.1h.1M1123.7 1051.2h.1M1146.4 1056.5h.1M1154.3 1074.3h.1M1156.9 1072.5h.1M1174.3 1058.6h.1M1134.8 1059.1h.1M1136.8 1059.0h.1M1201.3 1062.4h.1M1156.8 1061.3h.1M1127.4 1050.7h.1M1152.5 1065.8h.1M1148.2 1073.7h.1M1162.4 1068.1h.1M1139.7 1068.8h.1M1166.1 1055.7h.1M1159.9 1057.7h.1M1148.0 1063.9h.1M1144.8 1060.2h.1M1168.1 1061.5h.1M1167.9 1067.0h.1M1158.4 1079.8h.1M1139.2 1089.9h.1M1151.6 1060.3h.1M1184.5 1051.7h.1M1143.7 1061.1h.1M1161.0 1073.1h.1M1155.8 1069.7h.1M1169.7 1054.1h.1M1129.0 1059.1h.1M1154.8 1058.6h.1M1164.1 1056.0h.1M1177.5 1058.1h.1M1153.0 1061.8h.1M1145.8 1064.1h.1M1140.4 1063.9h.1M1140.4 1060.8h.1M1141.2 1057.5h.1M1160.8 1057.5h.1M1173.0 1069.6h.1M1151.4 1077.0h.1M1170.0 1061.0h.1M1165.7 1065.0h.1M1174.6 1065.6h.1M1182.9 1069.4h.1M1157.1 1055.4h.1M1154.8 1055.0h.1M1127.3 1052.2h.1M1157.4 1067.0h.1M1162.9 1066.9h.1M1156.4 1068.3h.1M1166.3 1077.0h.1M1158.1 1077.4h.1M1160.7 1071.6h.1M1148.6 1060.6h.1M1162.3 1067.4h.1M1141.3 1055.4h.1M1154.9 1069.2h.1M1170.7 1045.8h.1M1199.6 1052.3h.1M1148.2 1068.2h.1M1153.3 1050.0h.1M1155.9 1065.9h.1M1145.4 1075.1h.1M1130.6 1082.8h.1M1147.5 1063.9h.1M1131.2 1059.0h.1M1159.0 1052.6h.1M1139.3 1063.2h.1M1155.4 1053.6h.1M1155.7 1060.9h.1M1148.9 1058.2h.1M1167.8 1070.2h.1M1158.7 1063.1h.1M1172.0 1058.3h.1M1170.3 1064.7h.1M1176.0 1057.0h.1M1150.3 1063.0h.1M1156.7 1077.3h.1M1137.5 1080.2h.1M1165.7 1060.2h.1M1136.7 1062.3h.1M1139.5 1067.5h.1M1145.5 1071.0h.1M1196.6 1063.6h.1M1138.6 1058.7h.1M1195.2 1065.0h.1M1172.0 1073.2h.1M1146.3 1064.0h.1M1168.1 1049.2h.1M1185.6 1057.5h.1M1166.9 1057.5h.1M1145.6 1069.0h.1M1177.1 1060.2h.1M1144.7 1070.2h.1M1147.7 1064.9h.1M1160.5 1068.8h.1M1138.5 1063.6h.1M1166.9 1060.0h.1M1139.8 1067.2h.1M1161.7 1065.6h.1M1158.8 1068.4h.1M1152.7 1055.7h.1M1146.1 1078.7h.1M1139.2 1065.5h.1M1149.5 1057.0h.1M1131.7 1081.6h.1M1139.7 1053.6h.1M1138.3 1062.4h.1M1122.6 1057.3h.1M1149.5 1062.9h.1M1164.9 1051.4h.1M1145.2 1065.4h.1M1162.8 1053.6h.1M1126.5 1058.4h.1M1143.4 1076.2h.1M1158.2 1074.8h.1M1178.3 1060.1h.1M1151.1 1080.5h.1M1145.1 1082.8h.1M1183.5 1067.9h.1M1145.7 1057.3h.1M1159.3 1058.6h.1M1165.7 1054.2h.1M1141.4 1055.4h.1M1144.6 1052.7h.1M1158.6 1064.7h.1M1147.3 1057.8h.1M1154.8 1073.6h.1M1147.8 1077.6h.1M1164.2 1064.6h.1M1169.8 1064.0h.1M1133.8 1076.5h.1M1153.7 1060.1h.1M1144.5 1065.7h.1M1153.9 1063.1h.1M1155.8 1054.0h.1M1137.0 1074.7h.1M1140.8 1068.2h.1M1185.7 1055.3h.1M1174.4 1068.3h.1M1147.5 1064.4h.1M1169.9 1056.6h.1M1147.7 1072.5h.1M1153.0 1080.0h.1M1168.6 1061.5h.1M1164.5 1072.2h.1M1150.4 1084.7h.1M1142.8 1063.1h.1M1153.6 1067.7h.1M1123.0 1057.0h.1M1170.2 1064.5h.1M1143.0 1069.0h.1M1127.6 1079.4h.1M1141.6 1076.2h.1M1162.4 1065.4h.1M1160.6 1059.0h.1M1152.6 1051.8h.1M1159.6 1059.8h.1M1141.3 1066.6h.1M1154.0 1059.6h.1M1150.3 1054.2h.1M1143.3 1070.9h.1M1157.7 1048.8h.1M1145.5 1067.6h.1M1144.4 1054.4h.1M1124.9 1057.6h.1M1143.9 1059.8h.1M1143.6 1064.4h.1M1148.0 1063.5h.1M1167.6 1064.9h.1M1188.3 1064.9h.1M1145.6 1065.5h.1M1168.9 1061.8h.1M1117.4 1058.8h.1M1137.9 1064.3h.1M1165.6 1052.5h.1M1163.3 1058.3h.1M1147.4 1073.0h.1M1152.9 1072.2h.1M1188.6 1042.1h.1M1138.3 1063.7h.1M1137.3 1059.1h.1M1167.9 1058.4h.1M1147.1 1062.1h.1M1142.6 1062.3h.1M1142.7 1071.8h.1M1155.7 1083.6h.1M1156.6 1063.6h.1M1172.4 1071.2h.1M1185.4 1070.0h.1M1172.8 1071.8h.1M1150.3 1061.4h.1M1137.4 1057.3h.1M1153.7 1054.7h.1M1136.5 1040.1h.1M1149.7 1060.8h.1M1179.5 1073.7h.1M1149.6 1064.6h.1M1151.9 1069.1h.1M1154.2 1060.0h.1M1154.0 1066.9h.1M1163.1 1050.6h.1M1186.0 1052.0h.1M1151.0 1061.7h.1M1144.9 1065.5h.1M1167.1 1075.2h.1M1169.2 1066.6h.1M1164.4 1054.6h.1M1153.9 1073.1h.1M1159.3 1074.0h.1M1158.6 1059.6h.1M1150.2 1072.2h.1M1160.7 1064.4h.1M1154.5 1076.0h.1M1141.8 1065.0h.1M1163.5 1061.5h.1M1162.8 1065.4h.1M1148.3 1065.3h.1M1136.4 1060.2h.1M1153.4 1060.9h.1M1151.5 1062.7h.1M1146.2 1077.5h.1M1154.5 1061.1h.1M1170.9 1063.7h.1M1164.1 1054.1h.1M1173.8 1061.8h.1M1157.0 1064.6h.1M1141.2 1059.6h.1M1155.5 1061.2h.1M1138.9 1071.0h.1M1171.7 1049.5h.1M1143.1 1074.1h.1M1188.4 1071.4h.1M1117.6 1081.2h.1M1145.7 1053.2h.1M1128.9 1058.4h.1M1155.3 1059.6h.1M1195.0 1063.5h.1M1152.4 1068.3h.1M1148.7 1079.7h.1M1155.2 1066.8h.1M1150.9 1069.9h.1M1153.5 1049.6h.1M1146.3 1062.3h.1M1164.3 1061.0h.1M1147.9 1058.1h.1M1146.9 1061.9h.1M1196.8 1047.0h.1M1140.0 1065.6h.1M1175.7 1066.3h.1M1144.8 1067.1h.1M1155.8 1065.0h.1M1154.8 1063.5h.1M1136.4 1063.2h.1M1163.9 1055.3h.1M1150.2 1079.6h.1M1153.2 1075.1h.1M1204.0 1072.2h.1M1146.8 1063.1h.1M1164.0 1067.5h.1M1148.0 1057.3h.1M1155.2 1067.9h.1M1151.0 1065.4h.1M1114.6 1048.8h.1M1154.5 1047.3h.1M1153.0 1075.4h.1M1153.7 1055.3h.1M1146.5 1059.7h.1M1142.9 1073.5h.1M1131.7 1052.7h.1M1164.5 1061.8h.1M1130.6 1057.6h.1M1146.4 1057.3h.1M1145.8 1067.3h.1M1176.1 1068.6h.1M1155.9 1044.8h.1M1139.0 1064.8h.1M1188.2 1061.4h.1M1188.8 1056.2h.1M1185.7 1060.2h.1M1157.6 1062.3h.1M1141.6 1071.3h.1M1169.1 1051.6h.1M1138.4 1063.5h.1M1139.2 1069.0h.1M1134.0 1060.8h.1M1146.3 1067.2h.1M1134.2 1061.1h.1M1190.6 1062.9h.1M1193.1 1077.1h.1M1157.3 1062.4h.1M1142.6 1056.8h.1M1141.7 1066.4h.1M1166.2 1049.8h.1M1157.1 1060.1h.1M1140.3 1051.2h.1M1163.3 1079.9h.1M1113.2 1054.7h.1M1162.0 1064.9h.1M1149.6 1062.7h.1M1158.2 1077.2h.1M1157.7 1071.6h.1M1167.8 1065.3h.1M1160.6 1054.8h.1M1148.0 1076.7h.1M1146.5 1073.0h.1M1160.1 1067.9h.1M1153.1 1073.3h.1M1166.0 1061.5h.1M1153.2 1070.3h.1M1142.9 1069.0h.1M1158.9 1063.3h.1M1167.9 1068.5h.1M1171.7 1065.8h.1M1152.6 1058.8h.1M1143.4 1074.6h.1M1172.4 1068.6h.1M1139.2 1045.5h.1M1158.7 1068.9h.1M1182.7 1060.9h.1M1153.8 1067.3h.1M1162.5 1060.6h.1M1176.4 1061.1h.1M1149.9 1073.0h.1M1166.5 1056.2h.1M1140.2 1065.2h.1M1174.5 1046.0h.1M1180.1 1063.1h.1M1136.7 1061.3h.1M1139.5 1065.5h.1M1155.1 1059.6h.1M1147.5 1078.2h.1M1161.5 1059.1h.1M1167.5 1044.4h.1M1168.3 1052.2h.1M1165.9 1064.5h.1M1154.0 1065.1h.1M1152.0 1047.7h.1M1164.2 1076.8h.1M1141.6 1062.9h.1M1143.1 1067.9h.1M1170.5 1069.1h.1M1159.0 1053.2h.1M1148.2 1060.7h.1M1160.1 1068.7h.1M1169.0 1049.2h.1M1191.3 1070.6h.1M1168.7 1050.6h.1M1141.1 1062.4h.1M1144.6 1057.7h.1M1147.0 1058.2h.1M1154.2 1074.1h.1M1146.6 1071.2h.1M1174.9 1057.4h.1M1179.3 1055.3h.1M1153.1 1063.7h.1M1155.6 1066.4h.1M1159.2 1060.3h.1M1163.3 1064.3h.1M1169.5 1064.4h.1M1159.4 1058.4h.1M1153.7 1074.7h.1M1163.8 1071.4h.1M1180.5 1057.1h.1M1143.8 1049.1h.1M1145.9 1045.4h.1M1159.9 1061.6h.1M1117.9 1079.9h.1M1148.5 1062.7h.1M1141.2 1057.7h.1M1164.6 1077.5h.1M1184.2 1051.0h.1M1163.3 1076.7h.1M1171.9 1057.4h.1M1164.0 1053.7h.1M1182.3 1061.0h.1M1167.0 1055.4h.1M1163.7 1054.7h.1M1147.3 1067.1h.1M1159.7 1068.2h.1M1154.9 1061.8h.1M1137.3 1071.5h.1M1170.8 1054.7h.1M1164.6 1065.5h.1M1146.6 1071.3h.1M1157.5 1071.5h.1M1181.9 1057.5h.1M1147.1 1064.0h.1M1154.9 1071.2h.1M1161.1 1072.9h.1M1171.6 1060.2h.1M1165.6 1058.8h.1M1126.2 1056.8h.1M1178.6 1055.4h.1M1148.7 1062.5h.1M1155.1 1066.6h.1M1159.1 1058.1h.1M1175.4 1057.1h.1M1162.5 1065.4h.1M1158.7 1065.9h.1M1141.8 1051.5h.1M1162.7 1056.3h.1M1145.8 1055.7h.1M1122.3 1050.7h.1M1139.8 1054.8h.1M1152.2 1070.3h.1M1152.6 1073.8h.1M1117.3 1059.8h.1M1184.1 1067.9h.1M1118.0 1058.4h.1M1172.1 1066.8h.1M1142.3 1066.3h.1M1172.4 1069.1h.1M1163.5 1064.9h.1M1156.3 1071.6h.1M1146.0 1059.3h.1M1140.8 1074.7h.1M1158.0 1070.5h.1M1179.2 1046.1h.1M1137.0 1064.0h.1M1166.6 1062.7h.1M1176.2 1061.9h.1M1136.6 1059.4h.1M1175.3 1054.7h.1M1164.1 1066.8h.1M1130.2 1052.5h.1M1112.8 1056.1h.1M1134.9 1051.5h.1M1192.8 1044.7h.1M1121.2 1056.8h.1M1152.6 1060.2h.1M1111.6 1049.1h.1M1171.0 1064.6h.1M1137.4 1059.1h.1M1193.6 1072.1h.1M1143.6 1067.2h.1M1166.4 1062.2h.1M1154.3 1056.4h.1M1156.6 1055.2h.1M1174.0 1065.7h.1M1125.3 1057.4h.1M1167.4 1062.8h.1M1177.9 1050.5h.1M1134.0 1057.4h.1M1176.4 1068.4h.1M1181.5 1054.1h.1M1159.2 1049.1h.1M1175.9 1064.8h.1M1161.8 1055.4h.1M1131.5 1076.6h.1M1180.6 1071.1h.1M1131.2 1059.6h.1M1127.2 1056.1h.1M1162.4 1052.7h.1M1151.8 1063.8h.1M1162.3 1048.5h.1M1143.8 1067.6h.1M1116.8 1057.9h.1M1141.3 1064.5h.1M1145.9 1054.0h.1M1121.2 1081.7h.1M1154.4 1060.1h.1M1142.0 1069.2h.1M1140.6 1072.8h.1M1143.4 1074.1h.1M1161.5 1050.9h.1M1207.3 1061.3h.1M1151.1 1061.6h.1M1137.3 1059.4h.1M1152.2 1066.4h.1M1158.1 1064.8h.1M1134.9 1061.2h.1M1174.5 1081.0h.1M1147.9 1064.2h.1M1142.9 1052.6h.1M1165.1 1070.9h.1M1156.8 1069.9h.1M1161.6 1061.9h.1M1147.1 1078.5h.1M1144.6 1060.8h.1M1142.6 1046.9h.1M1155.5 1060.1h.1M1148.2 1061.7h.1M1142.7 1063.4h.1M1141.3 1059.0h.1M1154.7 1059.4h.1M1182.6 1066.1h.1M1149.1 1051.3h.1M1145.7 1077.7h.1M1145.3 1065.5h.1M1136.3 1063.1h.1M1139.9 1072.6h.1M1154.4 1064.4h.1M1136.8 1062.7h.1M1149.7 1050.2h.1M1138.4 1058.8h.1M1151.0 1088.1h.1M1115.5 1057.7h.1M1142.0 1075.5h.1M1144.4 1088.4h.1M1154.9 1059.8h.1M1152.7 1073.8h.1M1145.2 1052.5h.1M1112.7 1058.6h.1M1129.1 1053.1h.1M1151.7 1070.5h.1M1146.6 1069.6h.1M1146.3 1073.8h.1M1142.6 1054.1h.1M1136.3 1057.8h.1M1147.9 1065.6h.1M1160.4 1065.8h.1M1138.8 1073.2h.1M1148.2 1050.8h.1M1127.0 1057.8h.1M1143.8 1076.5h.1M1130.7 1053.2h.1M1129.9 1082.8h.1M1141.5 1062.8h.1M1141.3 1063.1h.1M1152.6 1059.0h.1M1148.3 1063.9h.1M1145.8 1066.5h.1M1114.1 1081.7h.1M1147.5 1069.3h.1M1147.5 1073.0h.1M1146.5 1070.2h.1M1146.0 1070.6h.1M1126.0 1057.0h.1M1140.7 1069.1h.1M1146.1 1081.5h.1M1146.1 1064.5h.1M1136.3 1087.5h.1M1131.9 1055.1h.1M1147.0 1078.0h.1M1147.4 1068.4h.1M1150.0 1059.5h.1M1142.1 1074.4h.1M1127.1 1079.5h.1M1112.5 1056.7h.1M1138.2 1063.2h.1M1152.4 1046.1h.1M1140.9 1065.9h.1M1143.0 1080.0h.1M1134.1 1049.1h.1M1141.0 1061.3h.1M1118.5 1056.6h.1M1143.0 1057.9h.1M1143.6 1064.8h.1M1145.5 1067.3h.1M1156.9 1061.6h.1M1142.5 1048.7h.1M1144.0 1058.1h.1M1149.3 1069.1h.1M1145.0 1069.4h.1M1107.6 1052.4h.1M1135.8 1056.1h.1M1149.8 1070.9h.1M1126.9 1054.4h.1M1156.6 1048.6h.1M1123.1 1058.9h.1M1136.1 1055.8h.1M1102.7 1052.1h.1M1130.9 1051.4h.1M1142.2 1051.1h.1M1120.3 1079.5h.1M1114.1 1056.6h.1M1129.0 1057.3h.1M1144.6 1053.4h.1M1154.9 1061.3h.1M1138.5 1082.8h.1M1152.3 1056.1h.1M1140.8 1056.2h.1M1158.3 1067.2h.1M1120.9 1050.9h.1M1137.6 1078.2h.1M1144.0 1055.2h.1M1134.2 1057.0h.1M1126.9 1078.4h.1M1143.9 1066.0h.1M1147.1 1045.5h.1M1110.7 1057.4h.1M1149.3 1061.1h.1M1150.6 1079.7h.1M1149.7 1066.4h.1M1147.1 1069.6h.1M1156.4 1072.5h.1M1116.1 1085.5h.1M1130.4 1058.5h.1M1134.7 1055.6h.1M1142.7 1063.7h.1M1142.1 1068.9h.1M1150.7 1062.4h.1M1136.1 1075.4h.1M1140.7 1064.9h.1M1129.0 1052.3h.1M1132.5 1078.9h.1M1115.4 1057.3h.1M1136.9 1075.8h.1M1158.2 1069.1h.1M1136.2 1081.9h.1M1145.8 1068.4h.1M1158.4 1068.2h.1M1139.0 1066.4h.1M1149.9 1079.7h.1M1149.4 1059.5h.1M1136.5 1057.3h.1M1124.6 1056.7h.1M1164.1 1056.6h.1M1133.9 1056.2h.1M1130.0 1082.6h.1M1142.6 1072.2h.1M1131.0 1051.4h.1M1143.0 1075.9h.1M1121.1 1046.9h.1M1148.1 1061.7h.1M1148.4 1056.1h.1M1117.4 1058.3h.1M1148.4 1063.5h.1M1141.4 1064.1h.1M1142.5 1071.9h.1M1132.7 1051.6h.1M1126.2 1052.9h.1M1112.4 1084.1h.1M1173.5 1053.5h.1M1124.8 1056.4h.1M1153.1 1070.1h.1M1130.5 1055.2h.1M1146.1 1071.7h.1M1136.4 1073.0h.1M1136.0 1084.9h.1M1132.3 1076.9h.1M1137.6 1058.8h.1M1134.7 1060.5h.1M1148.7 1078.8h.1M1125.6 1055.1h.1M1166.2 1059.8h.1M1148.5 1065.3h.1M1125.6 1055.6h.1M1126.8 1089.0h.1M1139.8 1062.2h.1M1142.1 1068.6h.1M1133.9 1054.1h.1M1144.6 1076.2h.1M1124.5 1058.7h.1M1145.0 1047.2h.1M1135.0 1055.0h.1M1137.6 1065.1h.1M1140.9 1058.0h.1M1152.1 1075.0h.1M1144.5 1058.2h.1M1151.0 1064.4h.1M1144.1 1060.9h.1M1141.1 1064.4h.1M1138.8 1066.9h.1M1140.5 1059.9h.1M1134.1 1057.7h.1M1132.3 1052.9h.1M1150.3 1069.7h.1M1134.9 1061.8h.1M1147.4 1067.2h.1M1167.7 1079.4h.1M1142.1 1060.4h.1M1139.8 1064.0h.1M1149.2 1065.0h.1M1149.6 1067.9h.1M1108.0 1052.7h.1M1167.6 1081.9h.1M1150.2 1062.1h.1M1128.4 1056.9h.1M1151.0 1069.5h.1M1148.8 1055.3h.1M1146.0 1049.5h.1M1134.7 1059.5h.1M1136.5 1058.0h.1M1129.2 1058.7h.1M1129.7 1057.9h.1M1152.6 1075.7h.1M1151.4 1068.4h.1M1138.3 1067.9h.1M1145.9 1063.1h.1M1147.4 1066.5h.1M1087.2 1081.0h.1M1144.7 1058.0h.1M1149.0 1069.9h.1M1127.2 1080.0h.1M1144.8 1076.0h.1M1116.6 1057.1h.1M1136.5 1043.3h.1M1160.7 1077.2h.1M1157.1 1056.2h.1M1141.8 1077.4h.1M1152.5 1078.6h.1M1141.4 1068.3h.1M1140.0 1068.7h.1M1161.4 1063.2h.1M1168.4 1059.4h.1M1142.2 1064.6h.1M1140.6 1053.6h.1M1125.3 1048.8h.1M1138.6 1058.0h.1M1125.2 1048.9h.1M1146.4 1073.3h.1M1142.9 1066.8h.1M1142.8 1070.8h.1M1117.8 1051.6h.1M1141.3 1082.7h.1M1147.7 1052.5h.1M1163.3 1067.3h.1M1124.9 1057.8h.1M1168.3 1055.0h.1M1141.4 1061.3h.1M1141.1 1064.7h.1M1123.0 1055.7h.1M1125.3 1050.9h.1M1142.1 1066.4h.1M1136.0 1052.4h.1M1120.1 1048.9h.1M1137.0 1060.2h.1M1137.0 1063.6h.1M1117.6 1052.0h.1M1140.4 1079.9h.1M1130.7 1053.7h.1M1170.7 1071.6h.1M1140.5 1049.7h.1M1157.8 1080.8h.1M1137.6 1063.6h.1M1140.4 1063.7h.1M1115.3 1050.8h.1M1144.6 1048.8h.1M1147.2 1071.6h.1M1134.0 1051.0h.1M1136.9 1072.3h.1M1152.3 1062.8h.1M1140.2 1071.3h.1M1140.0 1064.1h.1M1150.1 1068.0h.1M1107.4 1056.2h.1M1158.8 1052.7h.1M1151.2 1067.6h.1M1132.7 1077.6h.1M1161.8 1078.7h.1M1137.2 1074.2h.1M1142.3 1058.5h.1M1133.7 1045.2h.1M1143.1 1063.0h.1M1124.4 1049.0h.1M1119.8 1058.6h.1M1125.6 1055.6h.1M1141.9 1066.9h.1M1158.4 1067.9h.1M1140.2 1062.6h.1M1129.5 1078.9h.1M1140.6 1077.1h.1M1163.5 1070.6h.1M1142.3 1078.8h.1M1135.5 1057.7h.1M1135.8 1062.3h.1M1134.6 1059.3h.1M1122.7 1052.1h.1M1144.0 1065.0h.1M1113.5 1051.8h.1M1143.2 1056.3h.1M1150.3 1054.3h.1M1135.9 1056.8h.1M1151.9 1076.3h.1M1123.1 1057.8h.1M1112.5 1058.8h.1M1119.1 1053.7h.1M1147.0 1071.5h.1M1123.5 1058.1h.1M1135.5 1057.2h.1M1147.1 1074.8h.1M1123.4 1053.5h.1M1149.0 1067.7h.1M1114.2 1050.8h.1M1126.4 1048.7h.1M1140.7 1069.9h.1M1159.6 1059.9h.1M1145.0 1059.8h.1M1129.7 1058.7h.1M1097.2 1053.9h.1M1142.8 1059.4h.1M1136.5 1055.9h.1M1142.0 1068.3h.1M1148.0 1070.6h.1M1122.9 1058.8h.1M1134.5 1059.7h.1M1127.3 1078.1h.1M1150.8 1058.9h.1M1152.8 1062.1h.1M1152.4 1072.0h.1M1144.3 1081.8h.1M1139.8 1063.6h.1M1145.6 1073.1h.1M1143.2 1064.1h.1M1139.0 1069.8h.1M1136.9 1061.6h.1M1155.1 1066.3h.1M1141.3 1079.0h.1M1134.2 1059.9h.1M1138.4 1072.9h.1M1139.0 1077.2h.1M1140.9 1054.8h.1M1139.7 1074.2h.1M1129.9 1082.8h.1M1142.8 1060.0h.1M1133.8 1076.2h.1M1143.6 1068.7h.1M1126.8 1042.9h.1M1146.4 1054.0h.1M1130.9 1082.6h.1M1140.2 1084.1h.1M1112.5 1052.8h.1M1116.2 1054.0h.1M1113.4 1059.7h.1M1146.2 1064.3h.1M1154.7 1055.8h.1M1138.0 1076.7h.1M1145.5 1070.4h.1M1116.7 1049.8h.1M1177.4 1072.4h.1M1135.4 1078.6h.1M1140.5 1050.7h.1M1155.7 1059.0h.1M1131.3 1080.2h.1M1137.9 1071.5h.1M1126.9 1046.0h.1M1137.3 1059.4h.1M1138.6 1073.7h.1M1127.3 1055.0h.1M1135.8 1078.6h.1M1137.1 1078.4h.1M1135.9 1074.0h.1M1144.2 1071.7h.1M1138.7 1074.5h.1M1138.5 1060.6h.1M1128.6 1051.2h.1M1135.3 1086.8h.1M1149.0 1080.6h.1M1152.2 1054.8h.1M1148.9 1063.0h.1M1135.9 1076.0h.1M1165.7 1065.0h.1M1164.7 1057.6h.1M1154.0 1069.8h.1M1159.2 1055.8h.1M1185.4 1054.9h.1M1148.6 1050.6h.1M1167.9 1062.4h.1M1159.6 1058.4h.1M1166.6 1072.7h.1M1170.1 1063.2h.1M1167.9 1049.2h.1M1164.2 1074.1h.1M1169.6 1055.3h.1M1155.5 1067.1h.1M1162.2 1049.1h.1M1176.3 1047.8h.1M1176.3 1060.6h.1M1168.2 1048.6h.1M1147.2 1057.8h.1M1137.9 1053.1h.1M1165.9 1054.2h.1M1168.3 1047.7h.1M1189.2 1060.5h.1M1165.0 1036.5h.1M1153.7 1056.6h.1M1164.3 1057.0h.1M1176.4 1046.6h.1M1171.3 1047.5h.1M1143.3 1067.3h.1M1189.6 1063.0h.1M1163.4 1069.4h.1M1191.4 1034.2h.1M1165.8 1048.5h.1M1193.0 1051.3h.1M1170.5 1054.3h.1M1175.4 1046.7h.1M1182.3 1047.4h.1M1151.9 1051.0h.1M1149.3 1045.3h.1M1182.0 1047.5h.1M1165.5 1032.7h.1M1169.4 1058.8h.1M1186.6 1057.8h.1M1168.5 1052.2h.1M1140.9 1070.4h.1M1170.3 1056.5h.1M1162.5 1050.4h.1M1143.4 1054.6h.1M1152.9 1047.8h.1M1160.7 1059.5h.1M1165.9 1057.8h.1M1159.6 1048.9h.1M1181.9 1037.1h.1M1156.7 1046.9h.1M1194.1 1038.5h.1M1197.1 1056.7h.1M1178.3 1054.5h.1M1164.8 1054.3h.1M1178.9 1061.4h.1M1159.1 1062.4h.1M1168.7 1071.3h.1M1186.8 1045.9h.1M1166.1 1051.8h.1M1173.4 1061.8h.1M1151.2 1056.2h.1M1192.8 1048.5h.1M1180.4 1046.7h.1M1174.7 1053.7h.1M1175.2 1047.2h.1M1153.4 1065.5h.1M1153.7 1055.3h.1M1159.6 1054.3h.1M1157.8 1056.4h.1M1166.8 1042.3h.1M1179.7 1050.3h.1M1157.8 1053.9h.1M1173.6 1055.0h.1M1180.9 1056.3h.1M1189.8 1038.2h.1M1176.0 1058.9h.1M1151.1 1059.8h.1M1174.2 1050.8h.1M1182.7 1054.6h.1M1159.1 1073.8h.1M1177.0 1046.1h.1M1168.6 1044.6h.1M1144.5 1061.0h.1M1205.5 1041.7h.1M1162.4 1054.6h.1M1173.3 1073.5h.1M1156.5 1059.7h.1M1165.1 1058.0h.1M1165.0 1074.3h.1M1157.1 1050.1h.1M1158.7 1058.0h.1M1169.5 1053.4h.1M1171.6 1061.1h.1M1174.5 1044.7h.1M1174.2 1037.4h.1M1172.9 1038.2h.1M1179.9 1054.3h.1M1186.6 1051.6h.1M1164.3 1063.7h.1M1169.7 1055.1h.1M1188.5 1069.2h.1M1177.7 1057.7h.1M1181.6 1059.4h.1M1176.2 1041.1h.1M1173.1 1050.3h.1M1171.4 1051.1h.1M1174.0 1062.6h.1M1176.7 1040.0h.1M1181.1 1061.4h.1M1162.6 1044.8h.1M1176.8 1051.2h.1M1151.3 1062.5h.1M1168.4 1052.9h.1M1148.3 1072.7h.1M1198.0 1053.3h.1M1158.6 1052.6h.1M1145.2 1058.2h.1M1162.5 1056.7h.1M1167.9 1051.7h.1M1187.2 1036.9h.1M1166.8 1064.3h.1M1140.7 1049.7h.1M1174.9 1052.0h.1M1194.5 1050.9h.1M1170.2 1066.3h.1M1168.1 1059.5h.1M1180.0 1054.9h.1M1163.4 1066.9h.1M1169.6 1055.7h.1M1158.1 1062.8h.1M1138.9 1073.8h.1M1154.4 1061.4h.1M1183.1 1043.1h.1M1173.9 1050.0h.1M1180.6 1061.2h.1M1165.9 1062.9h.1M1193.3 1058.5h.1M1167.6 1052.6h.1M1180.2 1046.4h.1M1171.2 1059.8h.1M1142.4 1065.4h.1M1156.0 1067.5h.1M1171.4 1056.5h.1M1183.3 1045.3h.1" stroke="#000" stroke-width="1.55" stroke-linecap="square" fill="none" opacity="0.92"/>
<path d="M1148.4 1035.8h.1M1157.8 1038.4h.1M1163.1 1047.0h.1M1175.2 1036.8h.1M1161.5 1040.2h.1M1166.1 1042.4h.1M1160.3 1027.6h.1M1198.0 1014.4h.1M1208.0 1030.2h.1M1182.5 1032.8h.1M1166.5 1018.3h.1M1200.5 1011.6h.1M1167.8 1041.7h.1M1192.3 1018.0h.1M1157.2 1046.3h.1M1196.1 1027.3h.1M1176.8 1037.3h.1M1154.3 1040.4h.1M1184.9 1020.1h.1M1195.3 1023.1h.1M1168.9 1027.2h.1M1198.0 1020.8h.1M1162.8 1045.3h.1M1141.3 1045.1h.1M1189.9 1029.4h.1M1184.7 1015.7h.1M1168.3 1021.1h.1M1169.8 1035.6h.1M1188.7 1043.3h.1M1179.3 1010.5h.1M1179.5 1019.5h.1M1185.3 1036.2h.1M1141.6 1032.4h.1M1197.1 1016.3h.1M1163.4 1031.8h.1M1179.1 1046.5h.1M1182.8 1024.6h.1M1175.0 1028.5h.1M1192.4 1022.9h.1M1179.0 1021.4h.1M1199.9 1023.4h.1M1209.2 1031.7h.1M1220.0 1010.3h.1M1195.1 1017.0h.1M1211.3 1013.7h.1M1190.9 1021.6h.1M1201.1 1015.2h.1M1206.1 1005.5h.1M1200.1 1028.0h.1M1195.2 1024.0h.1M1210.0 1011.9h.1M1206.0 1011.3h.1M1209.4 1009.0h.1M1190.4 1016.6h.1M1208.9 1017.0h.1M1229.7 992.5h.1M1217.1 1013.8h.1M1221.7 1002.7h.1" stroke="#555" stroke-width="1.5" stroke-linecap="square" fill="none" opacity="0.75"/>
<line x1="1124.2" y1="832.7" x2="1124.2" y2="1104.4" stroke="#111" stroke-width="1.7"/>
<line x1="1063.3" y1="1047.5" x2="1345.4" y2="1047.5" stroke="#222" stroke-width="1.4"/>
<text x="1064.3" y="843.7" font-family='"Liberation Sans", sans-serif' font-size="12.2" font-weight="normal" text-anchor="start" fill="#15152a" textLength="25.0" lengthAdjust="spacingAndGlyphs" stroke="#15152a" stroke-width="0.3">0.01</text>
<text x="1320.0" y="843.7" font-family='"Liberation Sans", sans-serif' font-size="12.2" font-weight="normal" text-anchor="start" fill="#15152a" textLength="25.0" lengthAdjust="spacingAndGlyphs" stroke="#15152a" stroke-width="0.3">0.78</text>
<text x="1064.3" y="1101.2" font-family='"Liberation Sans", sans-serif' font-size="12.2" font-weight="normal" text-anchor="start" fill="#15152a" textLength="31.4" lengthAdjust="spacingAndGlyphs" stroke="#15152a" stroke-width="0.3">80.73</text>
<text x="1320.0" y="1101.2" font-family='"Liberation Sans", sans-serif' font-size="12.2" font-weight="normal" text-anchor="start" fill="#15152a" textLength="25.0" lengthAdjust="spacingAndGlyphs" stroke="#15152a" stroke-width="0.3">18.4</text>
<text x="1201.8" y="819.5" font-family='"Liberation Serif", serif' font-size="17.8" font-weight="bold" text-anchor="middle" fill="#000" textLength="189.5" lengthAdjust="spacingAndGlyphs">Cisplatin + Spk2 siRNA</text>
</g>
<line x1="693.9" y1="610.0" x2="693.9" y2="792.6" stroke="#000" stroke-width="3.7"/>
<polyline points="687.8,620.4 693.9,610.5 700,620.4" fill="none" stroke="#000" stroke-width="3.5" stroke-linecap="round" stroke-linejoin="miter"/>
<text x="698.0" y="892.5" font-family='"Liberation Serif", serif' font-size="18.5" font-weight="bold" text-anchor="middle" fill="#000" transform="rotate(-90 698.0 892.5)">PI</text>
<text x="939.0" y="1175.0" font-family='"Liberation Serif", serif' font-size="17.8" font-weight="bold" text-anchor="start" fill="#000" textLength="138.6" lengthAdjust="spacingAndGlyphs">Annexin V -FITC</text>
<line x1="1096.0" y1="1170.6" x2="1259.5" y2="1170.6" stroke="#000" stroke-width="3.6"/>
<polyline points="1250.2,1163.9 1259.6,1170.6 1250.2,1177.3" fill="none" stroke="#000" stroke-width="3.5" stroke-linecap="round" stroke-linejoin="miter"/>
<g id="bars">
<line x1="1452.0" y1="667.5" x2="1452.0" y2="885.4" stroke="#8a8a8a" stroke-width="1.3"/>
<line x1="1447.5" y1="880.8" x2="1786.3" y2="880.8" stroke="#8a8a8a" stroke-width="1.3"/>
<line x1="1535.4" y1="880.8" x2="1535.4" y2="885.4" stroke="#8a8a8a" stroke-width="1.3"/>
<line x1="1618.6" y1="880.8" x2="1618.6" y2="885.4" stroke="#8a8a8a" stroke-width="1.3"/>
<line x1="1701.8" y1="880.8" x2="1701.8" y2="885.4" stroke="#8a8a8a" stroke-width="1.3"/>
<line x1="1786.0" y1="880.8" x2="1786.0" y2="885.4" stroke="#8a8a8a" stroke-width="1.3"/>
<line x1="1447.5" y1="689.0" x2="1452.0" y2="689.0" stroke="#8a8a8a" stroke-width="1.3"/>
<text x="1427.7" y="694.0" font-family='"Liberation Sans", sans-serif' font-size="13.8" font-weight="normal" text-anchor="start" fill="#08080f" textLength="16.6" lengthAdjust="spacingAndGlyphs">45</text>
<line x1="1447.5" y1="752.7" x2="1452.0" y2="752.7" stroke="#8a8a8a" stroke-width="1.3"/>
<text x="1427.7" y="757.7" font-family='"Liberation Sans", sans-serif' font-size="13.8" font-weight="normal" text-anchor="start" fill="#08080f" textLength="16.6" lengthAdjust="spacingAndGlyphs">30</text>
<line x1="1447.5" y1="816.6" x2="1452.0" y2="816.6" stroke="#8a8a8a" stroke-width="1.3"/>
<text x="1427.7" y="821.6" font-family='"Liberation Sans", sans-serif' font-size="13.8" font-weight="normal" text-anchor="start" fill="#08080f" textLength="16.6" lengthAdjust="spacingAndGlyphs">15</text>
<line x1="1447.5" y1="880.8" x2="1452.0" y2="880.8" stroke="#8a8a8a" stroke-width="1.3"/>
<text x="1435.9" y="885.8" font-family='"Liberation Sans", sans-serif' font-size="13.8" font-weight="normal" text-anchor="start" fill="#08080f" textLength="8.4" lengthAdjust="spacingAndGlyphs">0</text>
<rect x="1477.5" y="879.6" width="33.2" height="1.2" fill="#5b5b5b"/>
<rect x="1561.2" y="715.0" width="32.5" height="165.8" fill="#5b5b5b"/>
<rect x="1643.8" y="735.8" width="33.0" height="145.0" fill="#5b5b5b"/>
<rect x="1726.5" y="800.2" width="33.2" height="80.6" fill="#5b5b5b"/>
<line x1="1577.6" y1="702.0" x2="1577.6" y2="728.0" stroke="#111" stroke-width="1.3"/>
<line x1="1573.2" y1="702.0" x2="1582.0" y2="702.0" stroke="#111" stroke-width="1.3"/>
<line x1="1573.2" y1="728.0" x2="1582.0" y2="728.0" stroke="#111" stroke-width="1.3"/>
<line x1="1660.4" y1="725.4" x2="1660.4" y2="748.0" stroke="#111" stroke-width="1.3"/>
<line x1="1656.0" y1="725.4" x2="1664.8" y2="725.4" stroke="#111" stroke-width="1.3"/>
<line x1="1656.0" y1="748.0" x2="1664.8" y2="748.0" stroke="#111" stroke-width="1.3"/>
<line x1="1743.2" y1="794.2" x2="1743.2" y2="807.2" stroke="#111" stroke-width="1.3"/>
<line x1="1738.8" y1="794.2" x2="1747.6" y2="794.2" stroke="#111" stroke-width="1.3"/>
<line x1="1738.8" y1="807.2" x2="1747.6" y2="807.2" stroke="#111" stroke-width="1.3"/>
<text x="1741.3" y="787.5" font-family='"Liberation Serif", serif' font-size="21" font-weight="bold" text-anchor="middle" fill="#000" textLength="21.0" lengthAdjust="spacingAndGlyphs">**</text>
<text x="1468.4" y="904.7" font-family='"Liberation Serif", serif' font-size="15.3" font-weight="bold" text-anchor="start" fill="#000" textLength="50.6" lengthAdjust="spacingAndGlyphs">Control</text>
<text x="1547.6" y="904.7" font-family='"Liberation Serif", serif' font-size="15.3" font-weight="bold" text-anchor="start" fill="#000" textLength="59.3" lengthAdjust="spacingAndGlyphs">Cisplatin</text>
<text x="1625.6" y="904.7" font-family='"Liberation Serif", serif' font-size="15.3" font-weight="bold" text-anchor="start" fill="#000" textLength="70.2" lengthAdjust="spacingAndGlyphs">Cisplatin +</text>
<text x="1639.9" y="922.9" font-family='"Liberation Serif", serif' font-size="15.3" font-weight="bold" text-anchor="start" fill="#000" textLength="39.0" lengthAdjust="spacingAndGlyphs">Sphk1</text>
<text x="1639.1" y="940.6" font-family='"Liberation Serif", serif' font-size="15.3" font-weight="bold" text-anchor="start" fill="#000" textLength="41.6" lengthAdjust="spacingAndGlyphs">siRNA</text>
<text x="1708.0" y="904.7" font-family='"Liberation Serif", serif' font-size="15.3" font-weight="bold" text-anchor="start" fill="#000" textLength="70.2" lengthAdjust="spacingAndGlyphs">Cisplatin +</text>
<text x="1723.0" y="922.9" font-family='"Liberation Serif", serif' font-size="15.3" font-weight="bold" text-anchor="start" fill="#000" textLength="39.0" lengthAdjust="spacingAndGlyphs">Sphk2</text>
<text x="1721.8" y="940.6" font-family='"Liberation Serif", serif' font-size="15.3" font-weight="bold" text-anchor="start" fill="#000" textLength="41.6" lengthAdjust="spacingAndGlyphs">siRNA</text>
<text x="1408.5" y="783.8" font-family='"Liberation Serif", serif' font-size="19.5" font-weight="bold" text-anchor="middle" fill="#000" textLength="169.0" lengthAdjust="spacingAndGlyphs" transform="rotate(-90 1408.5 783.8)">Apoptosis Percentage</text>
</g>
</g>
</svg>
</body></html>
